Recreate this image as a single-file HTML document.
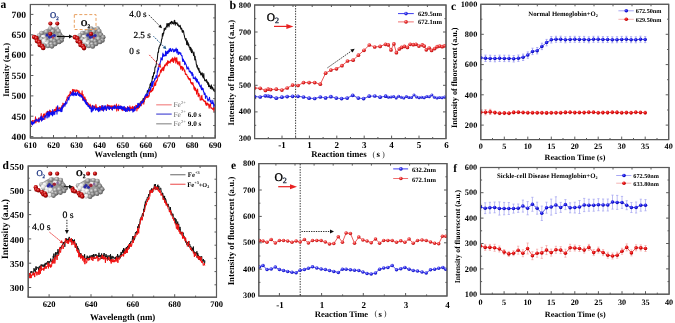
<!DOCTYPE html>
<html><head><meta charset="utf-8"><style>
html,body{margin:0;padding:0;background:#fff;width:675px;height:323px;overflow:hidden}
svg{display:block} text{text-rendering:geometricPrecision}
text{font-family:"Liberation Serif",serif}
</style></head><body>
<svg width="675" height="323" viewBox="0 0 675 323">
<defs><filter id="soft" x="0" y="0" width="675" height="323" filterUnits="userSpaceOnUse"><feGaussianBlur stdDeviation="0.3"/></filter></defs>
<rect width="675" height="323" fill="#fff"/>
<g filter="url(#soft)">
<rect width="675" height="323" fill="#fff"/>
<defs>
<radialGradient id="gr" cx="0.38" cy="0.35" r="0.7"><stop offset="0" stop-color="#f07070"/><stop offset="0.45" stop-color="#c00808"/><stop offset="1" stop-color="#680000"/></radialGradient>
<radialGradient id="gb" cx="0.38" cy="0.35" r="0.7"><stop offset="0" stop-color="#9a9aff"/><stop offset="0.45" stop-color="#1818e0"/><stop offset="1" stop-color="#0000a0"/></radialGradient>
<radialGradient id="gg" cx="0.38" cy="0.35" r="0.7"><stop offset="0" stop-color="#e0e0e0"/><stop offset="0.5" stop-color="#9c9c9c"/><stop offset="1" stop-color="#585858"/></radialGradient>
<radialGradient id="gw" cx="0.38" cy="0.35" r="0.7"><stop offset="0" stop-color="#ffffff"/><stop offset="0.6" stop-color="#e0e0e0"/><stop offset="1" stop-color="#a0a0a0"/></radialGradient>
<radialGradient id="gd" cx="0.38" cy="0.35" r="0.7"><stop offset="0" stop-color="#c8c8c8"/><stop offset="0.5" stop-color="#8a8a8a"/><stop offset="1" stop-color="#4a4a4a"/></radialGradient>
<radialGradient id="gmr" cx="0.4" cy="0.35" r="0.7"><stop offset="0" stop-color="#ff6060"/><stop offset="0.5" stop-color="#e00808"/><stop offset="1" stop-color="#a80000"/></radialGradient>
<radialGradient id="gmb" cx="0.4" cy="0.35" r="0.7"><stop offset="0" stop-color="#7070ff"/><stop offset="0.5" stop-color="#1414e0"/><stop offset="1" stop-color="#0000a0"/></radialGradient>
<radialGradient id="gdr" cx="0.4" cy="0.35" r="0.7"><stop offset="0" stop-color="#ffa8a8"/><stop offset="0.5" stop-color="#e82a2a"/><stop offset="1" stop-color="#b01010"/></radialGradient>
<radialGradient id="gdb" cx="0.4" cy="0.35" r="0.7"><stop offset="0" stop-color="#a8a8ff"/><stop offset="0.5" stop-color="#2a2ae8"/><stop offset="1" stop-color="#1010b0"/></radialGradient>
<clipPath id="cb"><rect x="254.6" y="5" width="191.4" height="133.6"/></clipPath>
<clipPath id="ce"><rect x="258.8" y="163.6" width="188.2" height="132.4"/></clipPath>
<clipPath id="cc"><rect x="480.8" y="4.3" width="187.90000000000003" height="135.29999999999998"/></clipPath>
<clipPath id="cf"><rect x="480.5" y="167.5" width="188.60000000000002" height="126.69999999999999"/></clipPath>
</defs>
<polyline points="139,107.3 139.3,107.2 139.6,105.1 139.9,103.6 140.2,102.8 140.5,103.9 140.8,102.2 141.1,101.3 141.4,103 141.7,102.5 142,102.7 142.3,100.3 142.6,101.1 142.9,100.6 143.2,98.2 143.5,100.4 143.8,99.6 144.1,101.8 144.4,98.4 144.7,97.4 145,98.6 145.3,96.7 145.6,97 145.9,94.7 146.2,94.9 146.5,95.3 146.8,94.2 147.1,92.8 147.4,90.6 147.7,91.9 148,90.8 148.3,90.9 148.6,89.5 148.9,89.9 149.2,87.7 149.5,87.3 149.8,87.1 150.1,84.1 150.4,84.1 150.7,83.2 151,85.6 151.3,82 151.6,82.1 151.9,81.1 152.2,79 152.5,76.4 152.8,78.7 153.1,75.8 153.4,76.3 153.7,72.6 154,72.6 154.3,73.7 154.6,72.7 154.9,68 155.2,66.8 155.5,67.2 155.8,66.9 156.1,64.8 156.4,63.5 156.7,60.2 157,60.5 157.3,59.4 157.6,55.6 157.9,52.6 158.2,51.9 158.5,52.4 158.8,47.9 159.1,48.8 159.4,46.4 159.7,46.4 160,45.1 160.3,44.4 160.6,45.3 160.9,42.8 161.2,43 161.5,40.1 161.8,38.7 162.1,38.8 162.4,33.6 162.7,36.3 163,35.6 163.3,32.8 163.6,34 163.9,31.7 164.2,28.3 164.5,30.4 164.8,28.6 165.1,28.4 165.4,28.1 165.7,29.3 166,27.3 166.3,26.6 166.6,26.8 166.9,23.6 167.2,27.3 167.5,24 167.8,25.8 168.1,23.6 168.4,23.6 168.7,24.2 169,27 169.3,25.2 169.6,23.3 169.9,23.5 170.2,22.2 170.5,23.5 170.8,22.6 171.1,24.2 171.4,21.3 171.7,22.5 172,21.7 172.3,21.8 172.6,23.6 172.9,22.7 173.2,23.3 173.5,24 173.8,24 174.1,20.7 174.4,23.2 174.7,20.3 175,22.6 175.3,25.2 175.6,22.6 175.9,22.5 176.2,23.4 176.5,23.3 176.8,23.5 177.1,22.7 177.4,25.3 177.7,25.3 178,24.1 178.3,25.1 178.6,25.8 178.9,26.6 179.2,26.1 179.5,26.8 179.8,25.9 180.1,25.2 180.4,26.3 180.7,28.7 181,29.1 181.3,28.5 181.6,28.1 181.9,29.7 182.2,32 182.5,32.3 182.8,30.3 183.1,31.9 183.4,30.8 183.7,32 184,34.5 184.3,35.2 184.6,37.2 184.9,38.4 185.2,38.7 185.5,40.1 185.8,38.4 186.1,38.4 186.4,41.2 186.7,44.6 187,42.2 187.3,40.8 187.6,43.2 187.9,45.3 188.2,42.7 188.5,45.6 188.8,44.3 189.1,47.3 189.4,47.2 189.7,47.1 190,49.8 190.3,47.2 190.6,47.4 190.9,51.2 191.2,48.2 191.5,52.8 191.8,50.4 192.1,49.7 192.4,51.6 192.7,52.4 193,53.1 193.3,53.3 193.6,55.6 193.9,51.9 194.2,55 194.5,56.3 194.8,60 195.1,56.2 195.4,59.5 195.7,59.6 196,61.4 196.3,64.2 196.6,64.9 196.9,67.1 197.2,65.2 197.5,67 197.8,68.8 198.1,69.1 198.4,68.1 198.7,70.5 199,68.4 199.3,72.5 199.6,70.9 199.9,71.1 200.2,72.1 200.5,73.4 200.8,75 201.1,73.1 201.4,73.2 201.7,75 202,73.5 202.3,72.9 202.6,76.7 202.9,75.5 203.2,77.9 203.5,75.6 203.8,73.6 204.1,78.2 204.4,78.5 204.7,80.8 205,79.9 205.3,80.1 205.6,80.9 205.9,80 206.2,81 206.5,79.6 206.8,82.4 207.1,81.1 207.4,82 207.7,83.9 208,84.5 208.3,82.4 208.6,86.7 208.9,83.7 209.2,85.9 209.5,86.4 209.8,85.8 210.1,86.1 210.4,88.6 210.7,87.7 211,87.5 211.3,84.8 211.6,86.5 211.9,89.3 212.2,88.3 212.5,87.1 212.8,87.8 213.1,88.5 213.4,90.1 213.7,90 214,91 214.3,89 214.6,91.6 214.9,90" fill="none" stroke="#111" stroke-width="1.05" stroke-linejoin="round"/>
<polyline points="30.6,126.5 30.9,122 31.3,123.4 31.6,122.9 31.9,123.8 32.2,120.5 32.6,121.8 32.9,121.2 33.2,120.6 33.6,120.8 33.9,121.2 34.2,121.4 34.6,120.4 34.9,122.2 35.2,120.7 35.5,116.8 35.9,123 36.2,120.6 36.5,120 36.9,121.3 37.2,121.1 37.5,120.7 37.9,119.3 38.2,120.6 38.5,118 38.8,122.2 39.2,118.1 39.5,119.5 39.8,119.6 40.2,119.7 40.5,118.9 40.8,119.7 41.2,113.5 41.5,118.3 41.8,118 42.1,117.3 42.5,119.9 42.8,116.1 43.1,117.1 43.5,114 43.8,117.1 44.1,114.1 44.5,113.9 44.8,119.4 45.1,116.8 45.4,115.5 45.8,115.5 46.1,112.9 46.4,113.2 46.8,115.1 47.1,111.2 47.4,114.4 47.8,111.3 48.1,113.8 48.4,111.8 48.7,115.8 49.1,114.5 49.4,112.1 49.7,110 50.1,111.4 50.4,112.4 50.7,110.9 51.1,112.6 51.4,113.6 51.7,111.9 52,111.2 52.4,112.9 52.7,111.2 53,112.8 53.4,110.9 53.7,113.7 54,110.7 54.4,109.5 54.7,111 55,109.8 55.3,109.2 55.7,110.2 56,111.4 56.3,106.9 56.7,109.9 57,109.6 57.3,109.5 57.7,110.7 58,107.4 58.3,110.2 58.6,108.7 59,109 59.3,108.3 59.6,107.9 60,107.4 60.3,108.5 60.6,110.8 61,108.9 61.3,108.3 61.6,107.5 61.9,105.6 62.3,106.8 62.6,108.5 62.9,103.1 63.3,105.7 63.6,105.4 63.9,103.8 64.3,104 64.6,104.4 64.9,105.1 65.2,103.2 65.6,103.2 65.9,100.7 66.2,100.8 66.6,99.2 66.9,98.7 67.2,96.9 67.6,98 67.9,98.5 68.2,95.6 68.5,95.7 68.9,95.8 69.2,94.5 69.5,95.5 69.9,94.1 70.2,91.7 70.5,91.5 70.9,93.8 71.2,93.4 71.5,93.9 71.8,92.4 72.2,92.1 72.5,89.4 72.8,93.6 73.2,90 73.5,92.8 73.8,89.5 74.2,90.1 74.5,91.2 74.8,90.3 75.1,89.9 75.5,92.2 75.8,91.9 76.1,91.5 76.5,90.5 76.8,89.8 77.1,90.4 77.5,90.5 77.8,91.3 78.1,92.6 78.4,91.4 78.8,90.7 79.1,91.2 79.4,94.2 79.8,92.8 80.1,93.2 80.4,93.6 80.8,94.3 81.1,94 81.4,95.9 81.7,95.7 82.1,90.8 82.4,95.2 82.7,100.1 83.1,94.4 83.4,96.9 83.7,98.7 84.1,97.6 84.4,100.1 84.7,96.8 85,97.4 85.4,99.5 85.7,99.3 86,99.4 86.4,102.3 86.7,102.4 87,102.6 87.4,102.5 87.7,103.9 88,103.8 88.3,103.3 88.7,105.4 89,105.5 89.3,105.3 89.7,106.5 90,104.1 90.3,105.7 90.7,105.3 91,108.2 91.3,107.1 91.6,109.6 92,108.9 92.3,106.2 92.6,105.3 93,107.7 93.3,106.7 93.6,106.9 94,105.7 94.3,108.2 94.6,107.7 94.9,108.1 95.3,108 95.6,106.3 95.9,104.4 96.3,107.4 96.6,106.9 96.9,107.1 97.3,109.3 97.6,107.8 97.9,110.1 98.2,108.2 98.6,109 98.9,108.7 99.2,109.2 99.6,106.2 99.9,109.6 100.2,108.2 100.6,106.6 100.9,108.9 101.2,108.5 101.5,109.9 101.9,109.1 102.2,108.5 102.5,105.6 102.9,110.4 103.2,110.2 103.5,109.1 103.9,108.6 104.2,109.7 104.5,106.7 104.8,108.9 105.2,107.9 105.5,106.4 105.8,108.3 106.2,108.3 106.5,110.2 106.8,109 107.2,105.3 107.5,104.8 107.8,107.4 108.1,107.2 108.5,106.1 108.8,105.3 109.1,107.1 109.5,105.7 109.8,106.3 110.1,108.5 110.5,107.6 110.8,106.1 111.1,105.5 111.4,106.8 111.8,109.6 112.1,106.3 112.4,109.6 112.8,105.9 113.1,106.7 113.4,108 113.8,105.9 114.1,107.1 114.4,105 114.7,108 115.1,108.7 115.4,106.1 115.7,107.3 116.1,106.5 116.4,104 116.7,111.1 117.1,108.1 117.4,108.4 117.7,107.9 118,107.6 118.4,110.8 118.7,104.8 119,107.1 119.4,107 119.7,107.4 120,108.7 120.4,106.8 120.7,106 121,106.3 121.3,108.7 121.7,109.5 122,109.3 122.3,110.6 122.7,107.6 123,109.8 123.3,109.4 123.7,108.3 124,107.5 124.3,109.9 124.6,107.7 125,108.3 125.3,107.4 125.6,111.4 126,108.8 126.3,108.2 126.6,108.6 127,108.7 127.3,109.1 127.6,106.6 127.9,107.4 128.3,109.8 128.6,110.7 128.9,107.7 129.3,109.3 129.6,108.3 129.9,105.9 130.3,108.7 130.6,107.6 130.9,110.4 131.2,108.9 131.6,109.1 131.9,107 132.2,109.3 132.6,106.2 132.9,109.3 133.2,111 133.6,107.1 133.9,110.1 134.2,110.8 134.5,108.4 134.9,110.2 135.2,108.5 135.5,107.6 135.9,105.2 136.2,106.3 136.5,105.5 136.9,110.9 137.2,107.5 137.5,106.6 137.8,104.6 138.2,108.7 138.5,104.2 138.8,107.8 139.2,106.9 139.5,105.1 139.8,103.7 140.2,104.3 140.5,102.1 140.8,104.7 141.2,105.8 141.5,104.4 141.8,104.3 142.1,101.4 142.5,102.5 142.8,100.2 143.1,100.7 143.5,102.1 143.8,104.3 144.1,100.4 144.5,99.9 144.8,96.7 145.1,99.4 145.4,97.4 145.8,96.2 146.1,95.7 146.4,97.7 146.8,96.5 147.1,97.6 147.4,95.9 147.8,95.8 148.1,97.5 148.4,96.1 148.7,95.6 149.1,96.2 149.4,93.9 149.7,91.7 150.1,91.6 150.4,90 150.7,92.3 151.1,90.7 151.4,91.6 151.7,91.5 152,88.6 152.4,89.6 152.7,90.6 153,88.4 153.4,89 153.7,86.8 154,85.1 154.4,85.6 154.7,82.5 155,85.6 155.3,83.2 155.7,85.2 156,80.8 156.3,82.1 156.7,81.7 157,80.2 157.3,80.4 157.7,78 158,76.9 158.3,75.7 158.6,76.3 159,75.3 159.3,76.1 159.6,74.5 160,73.4 160.3,72.5 160.6,70.1 161,71.6 161.3,72.1 161.6,68.8 161.9,69.7 162.3,70.4 162.6,67.8 162.9,68.5 163.3,67 163.6,70.8 163.9,68.8 164.3,68.1 164.6,64.9 164.9,66.5 165.2,65 165.6,65.4 165.9,63.7 166.2,64.4 166.6,62.7 166.9,64 167.2,65.8 167.6,60.9 167.9,60.7 168.2,63.1 168.5,63.3 168.9,61.3 169.2,62.5 169.5,62 169.9,62 170.2,63 170.5,59.9 170.9,61.6 171.2,60.8 171.5,59.4 171.8,61 172.2,58.3 172.5,57.9 172.8,61.6 173.2,58.4 173.5,62.5 173.8,61.5 174.2,59.3 174.5,58.9 174.8,57 175.1,60.3 175.5,58.2 175.8,63.1 176.1,58.6 176.5,61.4 176.8,57.5 177.1,61.3 177.5,64.1 177.8,61.8 178.1,61.6 178.4,62.5 178.8,64.1 179.1,65.2 179.4,63.9 179.8,61.6 180.1,65.5 180.4,66.9 180.8,69.2 181.1,66.5 181.4,66.9 181.7,66.2 182.1,68.6 182.4,70.5 182.7,66.9 183.1,68.9 183.4,67.8 183.7,68.8 184.1,70 184.4,71.5 184.7,70.1 185,71.4 185.4,74.4 185.7,73.7 186,74.5 186.4,74.6 186.7,74.3 187,75.7 187.4,76.4 187.7,76.2 188,78.2 188.3,77.3 188.7,79.1 189,78.4 189.3,80 189.7,78.5 190,79.2 190.3,78.9 190.7,83 191,82.6 191.3,82.7 191.6,83.9 192,82.4 192.3,84.4 192.6,84.1 193,82.7 193.3,85.6 193.6,85.3 194,89.3 194.3,86.7 194.6,87.4 194.9,90.4 195.3,89.5 195.6,88 195.9,90.9 196.3,90 196.6,94.2 196.9,90.6 197.3,91.5 197.6,89 197.9,92.6 198.2,96.8 198.6,94.3 198.9,93.5 199.2,95.7 199.6,95.2 199.9,96 200.2,100.1 200.6,99.8 200.9,99.5 201.2,100 201.5,96.5 201.9,95.3 202.2,99.7 202.5,99.5 202.9,99.3 203.2,99.4 203.5,101 203.9,101.1 204.2,100.9 204.5,101.6 204.8,100.9 205.2,101 205.5,103.9 205.8,101.8 206.2,105.4 206.5,103.7 206.8,103.2 207.2,105.1 207.5,103 207.8,103.7 208.1,103.8 208.5,104.6 208.8,106 209.1,108.3 209.5,106.3 209.8,104.3 210.1,104.9 210.5,103.7 210.8,107.8 211.1,108.3 211.4,107.8 211.8,108.1 212.1,108.7 212.4,108.8 212.8,109.4 213.1,109.1 213.4,107.6 213.8,110.8 214.1,111.7 214.4,107.5 214.7,109.9" fill="none" stroke="#f01010" stroke-width="1.05" stroke-linejoin="round"/>
<polyline points="30.6,122.9 30.9,124.5 31.3,121.2 31.6,123.9 31.9,122 32.2,122 32.6,125 32.9,122.4 33.2,122.1 33.6,123.1 33.9,123.7 34.2,121.9 34.6,122.7 34.9,120.4 35.2,121.2 35.5,121 35.9,119.7 36.2,119.3 36.5,119.1 36.9,121 37.2,121 37.5,120.7 37.9,121.2 38.2,119 38.5,120.8 38.8,121.1 39.2,121.7 39.5,119.3 39.8,119.8 40.2,117.3 40.5,119.3 40.8,116.7 41.2,117.7 41.5,121.1 41.8,116.1 42.1,120.3 42.5,119.4 42.8,118.3 43.1,119.1 43.5,119 43.8,119.5 44.1,117.5 44.5,116.7 44.8,116.4 45.1,115.7 45.4,116.8 45.8,115.5 46.1,117.9 46.4,113.4 46.8,114.3 47.1,114.3 47.4,112.5 47.8,118 48.1,111.6 48.4,114.5 48.7,114 49.1,116.9 49.4,111.5 49.7,115.8 50.1,113 50.4,113.7 50.7,112.8 51.1,114.6 51.4,111.9 51.7,113.3 52,113.8 52.4,115.9 52.7,109.6 53,115.1 53.4,114.2 53.7,112 54,113 54.4,111.7 54.7,114.6 55,112.4 55.3,111.6 55.7,111.5 56,111.4 56.3,111.3 56.7,110.1 57,114.2 57.3,108.3 57.7,105.7 58,110.6 58.3,110.4 58.6,111 59,110 59.3,109.9 59.6,110.4 60,111.1 60.3,108.9 60.6,108.7 61,111.8 61.3,109.5 61.6,107.1 61.9,111.6 62.3,109 62.6,106.7 62.9,105.5 63.3,107.3 63.6,105.2 63.9,104.5 64.3,103.8 64.6,104.5 64.9,106.4 65.2,103.7 65.6,101.8 65.9,104.3 66.2,102.9 66.6,103.3 66.9,103.2 67.2,100.5 67.6,99.9 67.9,99.4 68.2,97.3 68.5,99.4 68.9,100 69.2,97.8 69.5,96.8 69.9,96.4 70.2,95.3 70.5,95 70.9,95.2 71.2,94.3 71.5,94.7 71.8,92.8 72.2,95.4 72.5,94.8 72.8,92.9 73.2,91.1 73.5,94.3 73.8,95.8 74.2,93.1 74.5,93.4 74.8,93.2 75.1,94.9 75.5,92.6 75.8,95.4 76.1,93.5 76.5,95.4 76.8,94.1 77.1,93.8 77.5,92 77.8,93.2 78.1,93.9 78.4,95.4 78.8,94.9 79.1,93.6 79.4,95.4 79.8,96.4 80.1,94.9 80.4,94.7 80.8,95 81.1,97.1 81.4,97 81.7,95.2 82.1,97.5 82.4,96.8 82.7,96.8 83.1,100.2 83.4,100.2 83.7,98.5 84.1,100.2 84.4,101.3 84.7,100.2 85,101.5 85.4,103.1 85.7,100.1 86,103.6 86.4,104.6 86.7,104.7 87,102.4 87.4,105.2 87.7,103.9 88,106.4 88.3,106.8 88.7,106.6 89,105.5 89.3,106.1 89.7,108.5 90,106.2 90.3,108.5 90.7,108.8 91,107.8 91.3,111.9 91.6,108.7 92,111.8 92.3,105.9 92.6,105.6 93,110.4 93.3,109.9 93.6,108.6 94,109 94.3,106.3 94.6,108.1 94.9,107.6 95.3,108.7 95.6,110.3 95.9,109.1 96.3,109.6 96.6,108 96.9,108.4 97.3,109.2 97.6,108.6 97.9,110.8 98.2,107.7 98.6,111.7 98.9,107.4 99.2,110.4 99.6,107.7 99.9,111.1 100.2,108.9 100.6,109.2 100.9,109.7 101.2,107.6 101.5,107 101.9,105.5 102.2,110.2 102.5,107.3 102.9,107.5 103.2,108.2 103.5,111.1 103.9,105.7 104.2,108.6 104.5,107.6 104.8,108.9 105.2,105.5 105.5,107.5 105.8,109.3 106.2,110.3 106.5,110.4 106.8,106.8 107.2,108.1 107.5,107.8 107.8,106 108.1,105.9 108.5,109 108.8,108.3 109.1,107.7 109.5,109.6 109.8,106.4 110.1,108.5 110.5,107.8 110.8,107.6 111.1,108.3 111.4,107.8 111.8,107.9 112.1,107.8 112.4,110.1 112.8,106.8 113.1,108.6 113.4,108 113.8,106.6 114.1,108.2 114.4,105.8 114.7,108.7 115.1,105.8 115.4,106.3 115.7,107.5 116.1,108.3 116.4,108.5 116.7,108.5 117.1,107 117.4,106 117.7,108.2 118,107.9 118.4,106.2 118.7,109.1 119,108 119.4,106.5 119.7,108.6 120,106.1 120.4,106.8 120.7,108.8 121,106 121.3,108.4 121.7,106.5 122,109.6 122.3,107.5 122.7,108.9 123,106.6 123.3,108.3 123.7,110.3 124,109.7 124.3,106.4 124.6,110.5 125,110.5 125.3,108.8 125.6,111.4 126,107.9 126.3,109.3 126.6,111.1 127,111.4 127.3,111.4 127.6,107.9 127.9,106.9 128.3,110.1 128.6,107.5 128.9,109.4 129.3,107.7 129.6,111.1 129.9,110.7 130.3,110.4 130.6,109.6 130.9,109.6 131.2,109.1 131.6,110.1 131.9,109.9 132.2,110.1 132.6,108.8 132.9,112.1 133.2,109.7 133.6,111.3 133.9,111.1 134.2,107.8 134.5,106.5 134.9,110.7 135.2,108.2 135.5,108.7 135.9,108 136.2,108.3 136.5,106.2 136.9,107.5 137.2,106.7 137.5,107 137.8,103.4 138.2,107.6 138.5,106.6 138.8,103.2 139.2,104.3 139.5,105.1 139.8,105.6 140.2,104.3 140.5,106 140.8,103.6 141.2,101.8 141.5,101.8 141.8,103.5 142.1,101.1 142.5,102.8 142.8,102.6 143.1,101.6 143.5,101.7 143.8,99.5 144.1,99.3 144.5,98 144.8,97.5 145.1,95.6 145.4,96.5 145.8,95.2 146.1,94.1 146.4,95.8 146.8,95.7 147.1,93.9 147.4,95.8 147.8,94.5 148.1,94.1 148.4,91 148.7,89.1 149.1,91.5 149.4,90.5 149.7,90.4 150.1,89.4 150.4,90 150.7,87.1 151.1,87.9 151.4,85 151.7,82.4 152,84.5 152.4,86.7 152.7,81.4 153,84.7 153.4,81.6 153.7,81.3 154,81.3 154.4,80.8 154.7,78.4 155,79.3 155.3,79 155.7,78.7 156,75.6 156.3,78 156.7,77.6 157,77.3 157.3,70.8 157.7,72 158,67.9 158.3,70 158.6,69.2 159,65.6 159.3,63.9 159.6,65.4 160,65 160.3,62 160.6,61.8 161,57.6 161.3,59.3 161.6,59.6 161.9,58.7 162.3,60 162.6,55.3 162.9,53.1 163.3,56.5 163.6,54.5 163.9,55.5 164.3,55.7 164.6,55.2 164.9,56.1 165.2,55.7 165.6,51 165.9,53 166.2,55.7 166.6,51.9 166.9,53.6 167.2,51.9 167.6,51.1 167.9,53.7 168.2,52.7 168.5,50.6 168.9,52.1 169.2,48.7 169.5,49.4 169.9,51.6 170.2,50.2 170.5,48.4 170.9,50.5 171.2,50.2 171.5,51.5 171.8,51 172.2,49.1 172.5,48.8 172.8,49.3 173.2,49.2 173.5,51.6 173.8,51.9 174.2,51.6 174.5,50.3 174.8,49.5 175.1,51.3 175.5,49.6 175.8,50.6 176.1,48.1 176.5,50.1 176.8,53 177.1,49.7 177.5,49.3 177.8,51.5 178.1,54.4 178.4,54.4 178.8,52.1 179.1,52.3 179.4,53.2 179.8,52.4 180.1,54.2 180.4,54.1 180.8,52.9 181.1,54.7 181.4,55.7 181.7,55.5 182.1,55.7 182.4,59.3 182.7,61.4 183.1,58.9 183.4,59.4 183.7,61.4 184.1,61.1 184.4,61 184.7,64.8 185,62 185.4,63.1 185.7,63.8 186,64.1 186.4,65.6 186.7,67.3 187,69.1 187.4,68.5 187.7,68.1 188,66.8 188.3,69 188.7,68.2 189,70 189.3,72 189.7,71.4 190,71.3 190.3,71 190.7,72.5 191,73.2 191.3,72.2 191.6,73.2 192,75.7 192.3,72.5 192.6,74.7 193,74.2 193.3,78.6 193.6,77.7 194,78 194.3,78.3 194.6,78.6 194.9,79 195.3,76.7 195.6,79.8 195.9,80.7 196.3,78.2 196.6,81.9 196.9,82.1 197.3,79.3 197.6,81.3 197.9,82 198.2,82.1 198.6,83.9 198.9,82 199.2,84 199.6,85.2 199.9,86.5 200.2,86.1 200.6,86.2 200.9,88.2 201.2,84.9 201.5,89.8 201.9,88.7 202.2,87.9 202.5,89.8 202.9,88.4 203.2,88.7 203.5,91.9 203.9,91.8 204.2,94.6 204.5,92.9 204.8,92.9 205.2,93.9 205.5,98.4 205.8,96.4 206.2,96 206.5,95.9 206.8,96.2 207.2,97.9 207.5,99.2 207.8,100.6 208.1,101 208.5,100 208.8,99 209.1,99.1 209.5,97.3 209.8,99.5 210.1,101.8 210.5,101 210.8,102.4 211.1,100.2 211.4,103.7 211.8,103.1 212.1,103 212.4,103.8 212.8,100.3 213.1,103 213.4,102.8 213.8,107 214.1,104.4 214.4,104.2 214.7,106.5" fill="none" stroke="#1010f0" stroke-width="1.05" stroke-linejoin="round"/>
<rect x="30.4" y="4.5" width="184.8" height="133.5" fill="none" stroke="#5a5a5a" stroke-width="1.1"/>
<line x1="30.4" y1="138" x2="30.4" y2="135" stroke="#5a5a5a" stroke-width="1" />
<line x1="41.9" y1="138" x2="41.9" y2="136.4" stroke="#5a5a5a" stroke-width="1" />
<line x1="53.5" y1="138" x2="53.5" y2="135" stroke="#5a5a5a" stroke-width="1" />
<line x1="65" y1="138" x2="65" y2="136.4" stroke="#5a5a5a" stroke-width="1" />
<line x1="76.6" y1="138" x2="76.6" y2="135" stroke="#5a5a5a" stroke-width="1" />
<line x1="88.2" y1="138" x2="88.2" y2="136.4" stroke="#5a5a5a" stroke-width="1" />
<line x1="99.7" y1="138" x2="99.7" y2="135" stroke="#5a5a5a" stroke-width="1" />
<line x1="111.2" y1="138" x2="111.2" y2="136.4" stroke="#5a5a5a" stroke-width="1" />
<line x1="122.8" y1="138" x2="122.8" y2="135" stroke="#5a5a5a" stroke-width="1" />
<line x1="134.3" y1="138" x2="134.3" y2="136.4" stroke="#5a5a5a" stroke-width="1" />
<line x1="145.9" y1="138" x2="145.9" y2="135" stroke="#5a5a5a" stroke-width="1" />
<line x1="157.4" y1="138" x2="157.4" y2="136.4" stroke="#5a5a5a" stroke-width="1" />
<line x1="169" y1="138" x2="169" y2="135" stroke="#5a5a5a" stroke-width="1" />
<line x1="180.5" y1="138" x2="180.5" y2="136.4" stroke="#5a5a5a" stroke-width="1" />
<line x1="192.1" y1="138" x2="192.1" y2="135" stroke="#5a5a5a" stroke-width="1" />
<line x1="203.6" y1="138" x2="203.6" y2="136.4" stroke="#5a5a5a" stroke-width="1" />
<line x1="215.2" y1="138" x2="215.2" y2="135" stroke="#5a5a5a" stroke-width="1" />
<line x1="48.9" y1="4.5" x2="48.9" y2="6.5" stroke="#5a5a5a" stroke-width="1" />
<line x1="67.4" y1="4.5" x2="67.4" y2="6.5" stroke="#5a5a5a" stroke-width="1" />
<line x1="85.9" y1="4.5" x2="85.9" y2="6.5" stroke="#5a5a5a" stroke-width="1" />
<line x1="104.4" y1="4.5" x2="104.4" y2="6.5" stroke="#5a5a5a" stroke-width="1" />
<line x1="122.9" y1="4.5" x2="122.9" y2="6.5" stroke="#5a5a5a" stroke-width="1" />
<line x1="141.4" y1="4.5" x2="141.4" y2="6.5" stroke="#5a5a5a" stroke-width="1" />
<line x1="159.9" y1="4.5" x2="159.9" y2="6.5" stroke="#5a5a5a" stroke-width="1" />
<line x1="178.4" y1="4.5" x2="178.4" y2="6.5" stroke="#5a5a5a" stroke-width="1" />
<line x1="196.9" y1="4.5" x2="196.9" y2="6.5" stroke="#5a5a5a" stroke-width="1" />
<line x1="215.2" y1="17.9" x2="213.2" y2="17.9" stroke="#5a5a5a" stroke-width="1" />
<line x1="215.2" y1="31.4" x2="213.2" y2="31.4" stroke="#5a5a5a" stroke-width="1" />
<line x1="215.2" y1="44.8" x2="213.2" y2="44.8" stroke="#5a5a5a" stroke-width="1" />
<line x1="215.2" y1="58.3" x2="213.2" y2="58.3" stroke="#5a5a5a" stroke-width="1" />
<line x1="215.2" y1="71.8" x2="213.2" y2="71.8" stroke="#5a5a5a" stroke-width="1" />
<line x1="215.2" y1="85.2" x2="213.2" y2="85.2" stroke="#5a5a5a" stroke-width="1" />
<line x1="215.2" y1="98.6" x2="213.2" y2="98.6" stroke="#5a5a5a" stroke-width="1" />
<line x1="215.2" y1="112.1" x2="213.2" y2="112.1" stroke="#5a5a5a" stroke-width="1" />
<line x1="215.2" y1="125.5" x2="213.2" y2="125.5" stroke="#5a5a5a" stroke-width="1" />
<line x1="30.4" y1="136.6" x2="33.4" y2="136.6" stroke="#5a5a5a" stroke-width="1" />
<line x1="30.4" y1="126.4" x2="32" y2="126.4" stroke="#5a5a5a" stroke-width="1" />
<line x1="30.4" y1="116.2" x2="33.4" y2="116.2" stroke="#5a5a5a" stroke-width="1" />
<line x1="30.4" y1="106" x2="32" y2="106" stroke="#5a5a5a" stroke-width="1" />
<line x1="30.4" y1="95.9" x2="33.4" y2="95.9" stroke="#5a5a5a" stroke-width="1" />
<line x1="30.4" y1="85.7" x2="32" y2="85.7" stroke="#5a5a5a" stroke-width="1" />
<line x1="30.4" y1="75.5" x2="33.4" y2="75.5" stroke="#5a5a5a" stroke-width="1" />
<line x1="30.4" y1="65.3" x2="32" y2="65.3" stroke="#5a5a5a" stroke-width="1" />
<line x1="30.4" y1="55.1" x2="33.4" y2="55.1" stroke="#5a5a5a" stroke-width="1" />
<line x1="30.4" y1="45" x2="32" y2="45" stroke="#5a5a5a" stroke-width="1" />
<line x1="30.4" y1="34.8" x2="33.4" y2="34.8" stroke="#5a5a5a" stroke-width="1" />
<line x1="30.4" y1="24.6" x2="32" y2="24.6" stroke="#5a5a5a" stroke-width="1" />
<line x1="30.4" y1="14.4" x2="33.4" y2="14.4" stroke="#5a5a5a" stroke-width="1" />
<text x="30.4" y="147.5" font-family="'Liberation Sans', sans-serif" font-size="8.5" font-weight="bold" text-anchor="middle" fill="#000" >610</text>
<text x="53.5" y="147.5" font-family="'Liberation Sans', sans-serif" font-size="8.5" font-weight="bold" text-anchor="middle" fill="#000" >620</text>
<text x="76.6" y="147.5" font-family="'Liberation Sans', sans-serif" font-size="8.5" font-weight="bold" text-anchor="middle" fill="#000" >630</text>
<text x="99.7" y="147.5" font-family="'Liberation Sans', sans-serif" font-size="8.5" font-weight="bold" text-anchor="middle" fill="#000" >640</text>
<text x="122.8" y="147.5" font-family="'Liberation Sans', sans-serif" font-size="8.5" font-weight="bold" text-anchor="middle" fill="#000" >650</text>
<text x="145.9" y="147.5" font-family="'Liberation Sans', sans-serif" font-size="8.5" font-weight="bold" text-anchor="middle" fill="#000" >660</text>
<text x="169" y="147.5" font-family="'Liberation Sans', sans-serif" font-size="8.5" font-weight="bold" text-anchor="middle" fill="#000" >670</text>
<text x="192.1" y="147.5" font-family="'Liberation Sans', sans-serif" font-size="8.5" font-weight="bold" text-anchor="middle" fill="#000" >680</text>
<text x="215.2" y="147.5" font-family="'Liberation Sans', sans-serif" font-size="8.5" font-weight="bold" text-anchor="middle" fill="#000" >690</text>
<text x="26" y="139.9" font-family="'Liberation Serif', serif" font-size="9.6" font-weight="bold" text-anchor="end" fill="#000" >400</text>
<text x="26" y="119.5" font-family="'Liberation Serif', serif" font-size="9.6" font-weight="bold" text-anchor="end" fill="#000" >450</text>
<text x="26" y="99.2" font-family="'Liberation Serif', serif" font-size="9.6" font-weight="bold" text-anchor="end" fill="#000" >500</text>
<text x="26" y="78.8" font-family="'Liberation Serif', serif" font-size="9.6" font-weight="bold" text-anchor="end" fill="#000" >550</text>
<text x="26" y="58.4" font-family="'Liberation Serif', serif" font-size="9.6" font-weight="bold" text-anchor="end" fill="#000" >600</text>
<text x="26" y="38.1" font-family="'Liberation Serif', serif" font-size="9.6" font-weight="bold" text-anchor="end" fill="#000" >650</text>
<text x="26" y="17.7" font-family="'Liberation Serif', serif" font-size="9.6" font-weight="bold" text-anchor="end" fill="#000" >700</text>
<text transform="translate(5.8,69.8) rotate(-90)" x="0" y="0" font-family="'Liberation Serif', serif" font-size="8.6" font-weight="bold" text-anchor="middle" dominant-baseline="central" >Intensity (a.u.)</text>
<text x="125.9" y="157.2" font-family="'Liberation Serif', serif" font-size="8.5" font-weight="bold" text-anchor="middle" fill="#000" >Wavelength (nm)</text>
<text x="0.6" y="8.2" font-family="'Liberation Serif', serif" font-size="11.5" font-weight="bold" text-anchor="start" fill="#000" >a</text>
<line x1="156.2" y1="104.8" x2="171.7" y2="104.8" stroke="#f49090" stroke-width="1.3" />
<line x1="156.2" y1="114.1" x2="171.7" y2="114.1" stroke="#5a5ad8" stroke-width="1.3" />
<line x1="156.2" y1="123.8" x2="171.7" y2="123.8" stroke="#9a9a9a" stroke-width="1.3" />
<text x="173.5" y="107.3" font-family="'Liberation Serif', serif" font-size="7.4" fill="#6a6a6a">Fe<tspan font-size="4.6" dy="-3.2">2+</tspan></text>
<text x="173.5" y="116.6" font-family="'Liberation Serif', serif" font-size="7.4" fill="#6a6a6a">Fe<tspan font-size="4.6" dy="-3.2">2+</tspan></text>
<text x="187.8" y="116.6" font-family="'Liberation Serif', serif" font-size="7.2" font-weight="bold" text-anchor="start" fill="#000" >6.0 s</text>
<text x="173.5" y="126.3" font-family="'Liberation Serif', serif" font-size="7.4" fill="#6a6a6a">Fe<tspan font-size="4.6" dy="-3.2">2+</tspan></text>
<text x="187.8" y="126.3" font-family="'Liberation Serif', serif" font-size="7.2" font-weight="bold" text-anchor="start" fill="#000" >9.0 s</text>
<text x="129.3" y="16.7" font-family="'Liberation Serif', serif" font-size="9.2" font-weight="normal" text-anchor="start" fill="#000" stroke="#000" stroke-width="0.22">4.0 s</text>
<text x="133.4" y="37.6" font-family="'Liberation Serif', serif" font-size="9.2" font-weight="normal" text-anchor="start" fill="#000" stroke="#000" stroke-width="0.22">2.5 s</text>
<text x="129.3" y="54" font-family="'Liberation Serif', serif" font-size="9.2" font-weight="normal" text-anchor="start" fill="#000" stroke="#000" stroke-width="0.22">0 s</text>
<line x1="148.8" y1="14.9" x2="160" y2="26.2" stroke="#111" stroke-width="0.9" stroke-dasharray="1.5,1.2"/>
<polygon points="162,28.2 158.3,26.9 160.8,24.5" fill="#111"/>
<line x1="153.4" y1="36.2" x2="164.4" y2="47.2" stroke="#2a6090" stroke-width="1.0" stroke-dasharray="1.6,0.9"/>
<polygon points="166.4,49.2 162.7,48 165.2,45.5" fill="#2a6090"/>
<line x1="149.3" y1="54.9" x2="159.5" y2="65.9" stroke="#e82828" stroke-width="1.0" stroke-dasharray="1.6,0.9"/>
<polygon points="161.4,67.9 157.7,66.5 160.3,64.1" fill="#e82828"/>
<text x="50.1" y="18.3" font-family="'Liberation Serif', serif" font-size="8.6" fill="#1e3580" stroke="#1e3580" stroke-width="0.3">O<tspan font-size="5" dy="1.8">2</tspan></text>
<circle cx="50.4" cy="23.6" r="2.1" fill="url(#gr)"/>
<circle cx="57.3" cy="23.6" r="2.1" fill="url(#gr)"/>
<polygon points="39,33 50,27.5 58,27.5 64,37.5 62,42 52,47.5 45,47 38,38" fill="#9a9a9a"/>
<circle cx="50.3" cy="28.6" r="2.35" fill="url(#gg)"/>
<circle cx="56.7" cy="28.6" r="2.35" fill="url(#gg)"/>
<circle cx="46.3" cy="31.8" r="2.35" fill="url(#gg)"/>
<circle cx="52.7" cy="31.4" r="2.35" fill="url(#gg)"/>
<circle cx="58.4" cy="31" r="2.35" fill="url(#gg)"/>
<circle cx="41.5" cy="33" r="2.35" fill="url(#gg)"/>
<circle cx="60" cy="34.7" r="2.35" fill="url(#gd)"/>
<circle cx="39" cy="35.5" r="2.35" fill="url(#gg)"/>
<circle cx="43.1" cy="37.1" r="2.35" fill="url(#gw)"/>
<circle cx="62.4" cy="37.1" r="2.35" fill="url(#gd)"/>
<circle cx="41.5" cy="39.1" r="2.35" fill="url(#gg)"/>
<circle cx="45.5" cy="39.1" r="2.35" fill="url(#gg)"/>
<circle cx="57.5" cy="38.7" r="2.35" fill="url(#gg)"/>
<circle cx="61.6" cy="40.3" r="2.35" fill="url(#gd)"/>
<circle cx="43.9" cy="41.1" r="2.35" fill="url(#gw)"/>
<circle cx="47.9" cy="41.9" r="2.35" fill="url(#gg)"/>
<circle cx="51.5" cy="40" r="2.35" fill="url(#gg)"/>
<circle cx="54.3" cy="41.1" r="2.35" fill="url(#gd)"/>
<circle cx="59.2" cy="41.9" r="2.35" fill="url(#gd)"/>
<circle cx="46.3" cy="43.9" r="2.35" fill="url(#gw)"/>
<circle cx="51.1" cy="44.3" r="2.35" fill="url(#gg)"/>
<circle cx="55.1" cy="43.9" r="2.35" fill="url(#gd)"/>
<circle cx="47.9" cy="45.9" r="2.35" fill="url(#gg)"/>
<circle cx="51.9" cy="46.3" r="2.35" fill="url(#gd)"/>
<circle cx="44.2" cy="45.5" r="2.35" fill="url(#gg)"/>
<circle cx="47.1" cy="35.1" r="1.6" fill="#2a2aa8"/>
<circle cx="54.3" cy="35.5" r="1.6" fill="#2a2aa8"/>
<circle cx="49.5" cy="37.1" r="1.6" fill="#2a2aa8"/>
<circle cx="52" cy="36.5" r="1.6" fill="#2a2aa8"/>
<circle cx="50.3" cy="33.8" r="2.1" fill="url(#gr)"/>
<circle cx="53" cy="37.6" r="1.1" fill="#c04050"/>
<circle cx="34.2" cy="37.1" r="2.35" fill="url(#gr)"/>
<circle cx="36.4" cy="38.2" r="2.35" fill="url(#gr)"/>
<circle cx="37" cy="41.1" r="2.35" fill="url(#gr)"/>
<circle cx="39.2" cy="42.2" r="2.35" fill="url(#gr)"/>
<circle cx="39.8" cy="44.9" r="2.35" fill="url(#gr)"/>
<circle cx="42.1" cy="46" r="2.35" fill="url(#gr)"/>
<circle cx="43.2" cy="48" r="2.35" fill="url(#gr)"/>
<polygon points="79.8,33.1 90.8,27.6 98.8,27.6 104.8,37.6 102.8,42.1 92.8,47.6 85.8,47.1 78.8,38.1" fill="#9a9a9a"/>
<circle cx="91.1" cy="28.7" r="2.35" fill="url(#gg)"/>
<circle cx="97.5" cy="28.7" r="2.35" fill="url(#gg)"/>
<circle cx="87.1" cy="31.9" r="2.35" fill="url(#gg)"/>
<circle cx="93.5" cy="31.5" r="2.35" fill="url(#gg)"/>
<circle cx="99.2" cy="31.1" r="2.35" fill="url(#gg)"/>
<circle cx="82.3" cy="33.1" r="2.35" fill="url(#gg)"/>
<circle cx="100.8" cy="34.8" r="2.35" fill="url(#gd)"/>
<circle cx="79.8" cy="35.6" r="2.35" fill="url(#gg)"/>
<circle cx="83.9" cy="37.2" r="2.35" fill="url(#gw)"/>
<circle cx="103.2" cy="37.2" r="2.35" fill="url(#gd)"/>
<circle cx="82.3" cy="39.2" r="2.35" fill="url(#gg)"/>
<circle cx="86.3" cy="39.2" r="2.35" fill="url(#gg)"/>
<circle cx="98.3" cy="38.8" r="2.35" fill="url(#gg)"/>
<circle cx="102.4" cy="40.4" r="2.35" fill="url(#gd)"/>
<circle cx="84.7" cy="41.2" r="2.35" fill="url(#gw)"/>
<circle cx="88.7" cy="42" r="2.35" fill="url(#gg)"/>
<circle cx="92.3" cy="40.1" r="2.35" fill="url(#gg)"/>
<circle cx="95.1" cy="41.2" r="2.35" fill="url(#gd)"/>
<circle cx="100" cy="42" r="2.35" fill="url(#gd)"/>
<circle cx="87.1" cy="44" r="2.35" fill="url(#gw)"/>
<circle cx="91.9" cy="44.4" r="2.35" fill="url(#gg)"/>
<circle cx="95.9" cy="44" r="2.35" fill="url(#gd)"/>
<circle cx="88.7" cy="46" r="2.35" fill="url(#gg)"/>
<circle cx="92.7" cy="46.4" r="2.35" fill="url(#gd)"/>
<circle cx="85" cy="45.6" r="2.35" fill="url(#gg)"/>
<circle cx="87.9" cy="35.2" r="1.6" fill="#2a2aa8"/>
<circle cx="95.1" cy="35.6" r="1.6" fill="#2a2aa8"/>
<circle cx="90.3" cy="37.2" r="1.6" fill="#2a2aa8"/>
<circle cx="92.8" cy="36.6" r="1.6" fill="#2a2aa8"/>
<circle cx="91.1" cy="33.9" r="2.1" fill="url(#gr)"/>
<circle cx="93.8" cy="37.7" r="1.1" fill="#c04050"/>
<circle cx="75" cy="37.2" r="2.35" fill="url(#gr)"/>
<circle cx="77.2" cy="38.3" r="2.35" fill="url(#gr)"/>
<circle cx="77.8" cy="41.2" r="2.35" fill="url(#gr)"/>
<circle cx="80" cy="42.3" r="2.35" fill="url(#gr)"/>
<circle cx="80.6" cy="45" r="2.35" fill="url(#gr)"/>
<circle cx="82.9" cy="46.1" r="2.35" fill="url(#gr)"/>
<circle cx="84" cy="48.1" r="2.35" fill="url(#gr)"/>
<line x1="57" y1="36.5" x2="69.5" y2="36.5" stroke="#111" stroke-width="1.1" />
<polygon points="73,36.5 69,38.5 69,34.5" fill="#111"/>
<rect x="74.3" y="14.6" width="21.7" height="14.9" fill="none" stroke="#e8a060" stroke-width="1" stroke-dasharray="3,2"/>
<text x="80.8" y="26.4" font-family="'Liberation Serif', serif" font-size="8.6" font-weight="bold" stroke="#000" stroke-width="0.25">O<tspan font-size="5.4" dy="1.6">2</tspan></text>
<polyline points="28.6,274.4 28.9,274.9 29.2,273.2 29.6,274.3 29.9,275 30.2,274 30.5,275.6 30.8,271.5 31.2,272.8 31.5,271.3 31.8,271 32.1,271.8 32.4,272.2 32.8,272.3 33.1,272.2 33.4,274.8 33.7,272.4 34,268.2 34.4,270.9 34.7,269.4 35,269.3 35.3,272 35.6,269.4 36,266.4 36.3,269.8 36.6,268.7 36.9,267 37.2,267.2 37.6,267.5 37.9,268.3 38.2,267.4 38.5,268 38.8,270.7 39.2,266.3 39.5,266.1 39.8,266.8 40.1,268.8 40.4,265.7 40.8,268.9 41.1,264.4 41.4,264.7 41.7,266.1 42,264.6 42.4,264.8 42.7,266.4 43,266.6 43.3,265.5 43.6,264.7 44,267.1 44.3,265.5 44.6,264.3 44.9,266.4 45.2,262.9 45.6,264.4 45.9,265 46.2,263.8 46.5,262.7 46.8,264 47.2,262.4 47.5,262.1 47.8,261.2 48.1,264.7 48.4,261.5 48.8,264.1 49.1,262.6 49.4,261.3 49.7,262.6 50,261.7 50.4,261.3 50.7,258.6 51,260.6 51.3,261.7 51.6,260.8 52,261.3 52.3,261.7 52.6,259.7 52.9,261.9 53.2,255.9 53.6,257.6 53.9,253.6 54.2,258.6 54.5,257 54.8,259.2 55.2,255.5 55.5,252.4 55.8,257.3 56.1,252.7 56.4,252.4 56.8,253.7 57.1,254.6 57.4,252.3 57.7,253 58,249.2 58.4,254.5 58.7,251.2 59,250.9 59.3,251.1 59.6,249.9 60,249.4 60.3,246.9 60.6,247.6 60.9,247.9 61.2,248.3 61.6,245.8 61.9,245.6 62.2,245.4 62.5,245.2 62.8,244.1 63.2,243 63.5,242.1 63.8,244.3 64.1,242.5 64.4,241.7 64.8,246.8 65.1,242.2 65.4,241.8 65.7,240.3 66,238.1 66.4,241.2 66.7,239 67,239 67.3,240.4 67.6,240.2 68,238.9 68.3,238.5 68.6,241.8 68.9,239.4 69.2,236.9 69.6,239.8 69.9,238.9 70.2,238.8 70.5,240 70.8,239.4 71.2,242.4 71.5,239.7 71.8,240 72.1,241.7 72.4,239.2 72.8,242 73.1,240.6 73.4,242.9 73.7,240 74,242.4 74.4,239.5 74.7,241.8 75,243.1 75.3,244.4 75.6,247.4 76,247.9 76.3,243.5 76.6,245.2 76.9,249.1 77.2,248.6 77.6,246.4 77.9,250.1 78.2,248.2 78.5,249.3 78.8,249.2 79.2,251.4 79.5,255.9 79.8,253.3 80.1,253 80.4,257.6 80.8,253.3 81.1,254.3 81.4,254.5 81.7,256 82,255.2 82.4,258.4 82.7,255.9 83,257.6 83.3,257.4 83.6,255.9 84,256 84.3,257.6 84.6,254.2 84.9,258.1 85.2,258.3 85.6,258.5 85.9,258.2 86.2,258.9 86.5,257.8 86.8,259.3 87.2,255.7 87.5,259.7 87.8,256.8 88.1,258.9 88.4,257.3 88.8,257.3 89.1,256.6 89.4,259.9 89.7,255.9 90,255.5 90.4,257.7 90.7,257.6 91,257.1 91.3,255.4 91.6,255.8 92,258.1 92.3,254.9 92.6,257.4 92.9,257.4 93.2,256.4 93.6,254.1 93.9,259 94.2,256.1 94.5,256.1 94.8,255.2 95.2,254.2 95.5,255.3 95.8,256 96.1,254.3 96.4,255.8 96.8,257.5 97.1,256.3 97.4,255.5 97.7,257.3 98,257.1 98.4,257.1 98.7,254.4 99,252.8 99.3,257 99.6,255.9 100,255.2 100.3,256.6 100.6,255.2 100.9,254.9 101.2,258.8 101.6,253.5 101.9,257.4 102.2,257.7 102.5,259 102.8,256.6 103.2,257 103.5,254.8 103.8,256.4 104.1,253 104.4,255.5 104.8,256.4 105.1,256.3 105.4,255.8 105.7,258.4 106,254.1 106.4,256.9 106.7,256.1 107,256.9 107.3,257 107.6,260.1 108,255.3 108.3,259.3 108.6,259.4 108.9,257.1 109.2,256.4 109.6,255.5 109.9,256.2 110.2,260.9 110.5,254.2 110.8,258.5 111.2,256.7 111.5,260.9 111.8,258.5 112.1,255.9 112.4,257.2 112.8,258.4 113.1,258.3 113.4,256.6 113.7,257.7 114,257.4 114.4,258.8 114.7,258.5 115,258.3 115.3,257 115.6,259.1 116,256.9 116.3,256.3 116.6,256.8 116.9,256.9 117.2,256.8 117.6,254 117.9,259.1 118.2,257.7 118.5,258.7 118.8,255.7 119.2,257.3 119.5,256.2 119.8,255.7 120.1,258.3 120.4,254.3 120.8,255.9 121.1,251.9 121.4,255.3 121.7,253.9 122,252.2 122.4,252.6 122.7,249.9 123,251.2 123.3,252.9 123.6,248.1 124,253.7 124.3,253.2 124.6,250.1 124.9,248.5 125.2,248.3 125.6,248.1 125.9,248.5 126.2,252.8 126.5,247.1 126.8,249.7 127.2,250.1 127.5,246.1 127.8,246.8 128.1,247.8 128.4,245.2 128.8,247.8 129.1,248.7 129.4,244.7 129.7,243 130,244.7 130.4,243.8 130.7,241.5 131,241.9 131.3,241.7 131.6,241.8 132,242.3 132.3,239.1 132.6,237.2 132.9,236.1 133.2,241.1 133.6,236.8 133.9,236.2 134.2,240.2 134.5,237.4 134.8,238.5 135.2,234 135.5,232.4 135.8,232 136.1,233.1 136.4,232 136.8,231.2 137.1,233.4 137.4,231.2 137.7,226.4 138,228 138.4,227.4 138.7,224.3 139,228.3 139.3,225.1 139.6,225.1 140,220.9 140.3,218.9 140.6,220.9 140.9,218.4 141.2,216.8 141.6,216.6 141.9,216 142.2,214.9 142.5,213.3 142.8,213.4 143.2,216.3 143.5,212.5 143.8,208.8 144.1,211.9 144.4,206.9 144.8,204.2 145.1,203.5 145.4,201.5 145.7,205.7 146,201.1 146.4,199.6 146.7,200.1 147,199.7 147.3,197.1 147.6,197.3 148,197.4 148.3,197.6 148.6,194.2 148.9,195.9 149.2,194.6 149.6,194.4 149.9,191.9 150.2,190.2 150.5,193 150.8,191.8 151.2,189.2 151.5,188.5 151.8,190.4 152.1,192.1 152.4,189 152.8,192.1 153.1,188.3 153.4,188.1 153.7,188 154,188.8 154.4,184.5 154.7,187 155,188.7 155.3,184 155.6,186.9 156,187.7 156.3,189.2 156.6,189 156.9,186.5 157.2,190 157.6,185 157.9,184.7 158.2,189.3 158.5,188.5 158.8,185.9 159.2,189.8 159.5,189.9 159.8,190.1 160.1,188.7 160.4,188 160.8,187.9 161.1,191 161.4,191.8 161.7,191.9 162,192.6 162.4,195.7 162.7,193.1 163,194.4 163.3,199.4 163.6,195.9 164,196.5 164.3,199.9 164.6,195.9 164.9,202.1 165.2,198.1 165.6,199.4 165.9,199.3 166.2,200.5 166.5,201.5 166.8,204.8 167.2,203.9 167.5,206.8 167.8,206.5 168.1,203.9 168.4,206.6 168.8,206.2 169.1,207.1 169.4,208.7 169.7,209.7 170,210.5 170.4,207 170.7,210.8 171,211 171.3,215.3 171.6,212.6 172,213.6 172.3,214.3 172.6,216.3 172.9,213.8 173.2,216.1 173.6,216.8 173.9,217.6 174.2,217.9 174.5,218.1 174.8,219.8 175.2,218.2 175.5,223.6 175.8,221.6 176.1,219.3 176.4,222.4 176.8,225 177.1,223.8 177.4,224.4 177.7,221.6 178,228.1 178.4,226.5 178.7,223.8 179,226.9 179.3,230.5 179.6,229.3 180,226.9 180.3,228.9 180.6,230.8 180.9,234.3 181.2,231.9 181.6,233.3 181.9,232.1 182.2,233.3 182.5,232.1 182.8,232.2 183.2,232.6 183.5,234.4 183.8,237.9 184.1,236.4 184.4,238.9 184.8,238.7 185.1,238.3 185.4,237.7 185.7,242.5 186,241.4 186.4,242.1 186.7,244.6 187,243.5 187.3,241.9 187.6,242.6 188,243.4 188.3,246.6 188.6,241.8 188.9,241 189.2,243.6 189.6,244.8 189.9,244.3 190.2,247.2 190.5,247.1 190.8,246.4 191.2,247 191.5,250.4 191.8,250.9 192.1,250.9 192.4,247.9 192.8,250.8 193.1,247.4 193.4,246.6 193.7,252.7 194,251.7 194.4,251.8 194.7,253.3 195,254.1 195.3,252.2 195.6,252.5 196,253.4 196.3,254.2 196.6,253.4 196.9,251.3 197.2,257.9 197.6,253 197.9,253.6 198.2,255.9 198.5,255.2 198.8,256.5 199.2,259.9 199.5,258.6 199.8,256 200.1,257.6 200.4,257.4 200.8,259.9 201.1,256.8 201.4,257.1 201.7,256.3 202,260.2 202.4,260.4 202.7,261.3 203,261.9 203.3,259 203.6,260.8 204,260 204.3,264.1 204.6,263.9 204.9,260.6" fill="none" stroke="#111" stroke-width="1.0" stroke-linejoin="round"/>
<polyline points="28.6,275.7 28.9,275.5 29.2,278.2 29.6,273.3 29.9,276.5 30.2,272.9 30.5,278.1 30.8,276.4 31.2,278.1 31.5,274.9 31.8,276.1 32.1,274.8 32.4,273.9 32.8,275.1 33.1,272.6 33.4,273.8 33.7,275.3 34,274.1 34.4,273.1 34.7,277.1 35,273.5 35.3,272.2 35.6,273.2 36,271.9 36.3,271.9 36.6,271.8 36.9,275.4 37.2,272 37.6,272 37.9,272.6 38.2,274.6 38.5,270.8 38.8,269.9 39.2,274.7 39.5,268.2 39.8,269.8 40.1,271.3 40.4,273.7 40.8,268.3 41.1,265.8 41.4,270.6 41.7,268.5 42,268.6 42.4,269.7 42.7,269.2 43,269.1 43.3,267.8 43.6,270.4 44,270.6 44.3,268.1 44.6,267.1 44.9,268.9 45.2,268.3 45.6,265.7 45.9,266.4 46.2,268.7 46.5,266.6 46.8,266.1 47.2,266.8 47.5,266.2 47.8,266 48.1,262.7 48.4,268.4 48.8,265.7 49.1,263.8 49.4,266.5 49.7,265.2 50,264.5 50.4,265.9 50.7,267.6 51,264.6 51.3,266 51.6,266.6 52,261.3 52.3,261.7 52.6,263.5 52.9,259.2 53.2,261.2 53.6,263.3 53.9,262.6 54.2,261.5 54.5,257.1 54.8,263.5 55.2,260.3 55.5,260.2 55.8,259.3 56.1,255.4 56.4,255.4 56.8,255.3 57.1,259.9 57.4,255 57.7,255.5 58,255 58.4,255.9 58.7,255.2 59,254.3 59.3,251.2 59.6,247.6 60,252.2 60.3,251.7 60.6,252.5 60.9,249.7 61.2,248.2 61.6,249.2 61.9,245.4 62.2,245.5 62.5,245 62.8,246.5 63.2,248.9 63.5,246.3 63.8,246.5 64.1,244.6 64.4,244.2 64.8,242.6 65.1,242.5 65.4,238.7 65.7,240.3 66,239.8 66.4,242.9 66.7,242.4 67,242.9 67.3,243.4 67.6,240.3 68,242.4 68.3,243.8 68.6,240.7 68.9,242.4 69.2,240.5 69.6,238.2 69.9,241 70.2,239.6 70.5,241.3 70.8,240.5 71.2,241.9 71.5,238.2 71.8,245.1 72.1,244.2 72.4,241.7 72.8,241.1 73.1,242.9 73.4,244.3 73.7,244.2 74,244.5 74.4,241.1 74.7,242.9 75,247.4 75.3,246.2 75.6,244 76,245.7 76.3,245.5 76.6,246.9 76.9,251.2 77.2,249.7 77.6,252.6 77.9,251.8 78.2,249.8 78.5,251.8 78.8,257.2 79.2,252.7 79.5,252.8 79.8,256.9 80.1,255.5 80.4,255.8 80.8,258.7 81.1,253.8 81.4,257.8 81.7,255.8 82,255.6 82.4,256.9 82.7,260.5 83,258.7 83.3,256.2 83.6,257.7 84,262.2 84.3,261.6 84.6,258.3 84.9,264.2 85.2,259.8 85.6,258.5 85.9,260.3 86.2,262 86.5,263.2 86.8,262.2 87.2,259.8 87.5,259.5 87.8,258 88.1,260.2 88.4,259.3 88.8,260.5 89.1,258 89.4,259.1 89.7,258.4 90,257.7 90.4,257.6 90.7,257.7 91,257.3 91.3,260.1 91.6,259.2 92,256.7 92.3,259.6 92.6,259.1 92.9,260.9 93.2,258.1 93.6,257.9 93.9,257 94.2,258.3 94.5,258.8 94.8,258.2 95.2,257.5 95.5,258.8 95.8,258 96.1,258.3 96.4,256.3 96.8,258.2 97.1,256.2 97.4,256.5 97.7,258.1 98,261.3 98.4,259.5 98.7,257.9 99,257.6 99.3,259.6 99.6,260.2 100,260 100.3,257.7 100.6,258.4 100.9,257.6 101.2,257.7 101.6,256.8 101.9,257.8 102.2,254.8 102.5,256.4 102.8,259.1 103.2,256.9 103.5,259.3 103.8,256.4 104.1,257.9 104.4,259.2 104.8,256.9 105.1,257.5 105.4,262.8 105.7,257.6 106,257.7 106.4,257.9 106.7,259 107,259 107.3,260.7 107.6,260.5 108,258.6 108.3,258.7 108.6,257.1 108.9,257 109.2,258.4 109.6,260.9 109.9,259.9 110.2,261.1 110.5,261.4 110.8,259.7 111.2,263.5 111.5,259.2 111.8,259.1 112.1,259.5 112.4,262.1 112.8,260.1 113.1,259.1 113.4,261 113.7,262.2 114,260.1 114.4,259.9 114.7,262 115,261.8 115.3,261.7 115.6,258.8 116,260.4 116.3,260.4 116.6,256.8 116.9,261.6 117.2,259.6 117.6,258.7 117.9,262.8 118.2,259.2 118.5,257.6 118.8,258.4 119.2,259.3 119.5,259.4 119.8,257.8 120.1,256.2 120.4,256.3 120.8,255.8 121.1,255.2 121.4,256.6 121.7,255.5 122,256.1 122.4,254.4 122.7,254 123,254.8 123.3,254.2 123.6,256.4 124,252.7 124.3,254.1 124.6,253.4 124.9,250.9 125.2,253.9 125.6,252.6 125.9,248.5 126.2,252.5 126.5,252.7 126.8,249.4 127.2,253 127.5,250.1 127.8,247.5 128.1,249.8 128.4,247.9 128.8,245.8 129.1,244 129.4,247.4 129.7,245.3 130,247 130.4,246.1 130.7,244 131,243.5 131.3,246.7 131.6,246 132,243.9 132.3,241.5 132.6,239.9 132.9,240.3 133.2,243 133.6,240.5 133.9,238.6 134.2,236.4 134.5,238.1 134.8,235.7 135.2,236.4 135.5,236.9 135.8,236.8 136.1,234.5 136.4,233 136.8,233.1 137.1,234.9 137.4,231.8 137.7,228.1 138,232 138.4,229 138.7,233.4 139,226 139.3,225.7 139.6,224.4 140,224.5 140.3,222 140.6,219.5 140.9,217.8 141.2,219.7 141.6,218.1 141.9,216.9 142.2,220.3 142.5,217.1 142.8,216.6 143.2,213 143.5,213.3 143.8,211.5 144.1,210.5 144.4,211.1 144.8,209.9 145.1,208.5 145.4,207.3 145.7,203.7 146,203.9 146.4,204.8 146.7,202.6 147,201 147.3,202 147.6,199 148,198.5 148.3,200.2 148.6,197.4 148.9,199.4 149.2,197.2 149.6,196.8 149.9,196.6 150.2,190.4 150.5,193.1 150.8,190.4 151.2,191.2 151.5,191.1 151.8,192.8 152.1,190.3 152.4,192.6 152.8,188.7 153.1,189.2 153.4,189.1 153.7,190.3 154,188.5 154.4,187.4 154.7,187.7 155,185.9 155.3,190.1 155.6,189.2 156,188.7 156.3,188.4 156.6,187 156.9,187.4 157.2,189.5 157.6,187 157.9,187.2 158.2,191.2 158.5,191.4 158.8,189.7 159.2,190.4 159.5,190.3 159.8,192.8 160.1,190.3 160.4,191.8 160.8,193.2 161.1,195.5 161.4,193.5 161.7,195.1 162,194.7 162.4,195.2 162.7,196 163,197.9 163.3,199.9 163.6,198 164,198.8 164.3,199.8 164.6,201.7 164.9,202.9 165.2,200.4 165.6,203.6 165.9,202.1 166.2,205.5 166.5,203.4 166.8,203.8 167.2,205.1 167.5,206.8 167.8,205.9 168.1,208.5 168.4,209 168.8,209.6 169.1,210.5 169.4,212.1 169.7,210.2 170,212 170.4,212.6 170.7,210 171,214.5 171.3,213.3 171.6,214.1 172,215.2 172.3,216.7 172.6,217.7 172.9,218.7 173.2,217.4 173.6,220.3 173.9,220.6 174.2,219.9 174.5,221.2 174.8,223.2 175.2,223.2 175.5,224.3 175.8,224 176.1,226.3 176.4,228.6 176.8,226.4 177.1,223.7 177.4,229.7 177.7,226.6 178,225.9 178.4,224.8 178.7,229.9 179,231.5 179.3,232 179.6,230.3 180,233.8 180.3,231.9 180.6,231.7 180.9,233.3 181.2,234.1 181.6,234.4 181.9,235.5 182.2,231.9 182.5,238.5 182.8,235.6 183.2,238.1 183.5,236.3 183.8,238.4 184.1,238.4 184.4,236.7 184.8,240.3 185.1,241.2 185.4,239 185.7,237.9 186,240.7 186.4,240.9 186.7,242.9 187,243.2 187.3,246.3 187.6,245.3 188,244.3 188.3,245.4 188.6,241 188.9,244.7 189.2,245.1 189.6,246.8 189.9,248 190.2,248.2 190.5,249.8 190.8,247.6 191.2,249.6 191.5,249.3 191.8,249.9 192.1,250.8 192.4,250.2 192.8,251.4 193.1,251.4 193.4,253.4 193.7,252 194,253 194.4,257 194.7,254.2 195,254.4 195.3,255.7 195.6,252.7 196,255.8 196.3,256.2 196.6,256 196.9,257.2 197.2,257.3 197.6,258.3 197.9,255.7 198.2,257.8 198.5,256.6 198.8,259.8 199.2,258.4 199.5,256.5 199.8,259.1 200.1,257.7 200.4,261.2 200.8,259.5 201.1,256.9 201.4,260.2 201.7,262.8 202,262.1 202.4,261 202.7,263.4 203,263.7 203.3,265.5 203.6,265 204,264.5 204.3,263.1 204.6,265.2 204.9,265.6" fill="none" stroke="#f01010" stroke-width="1.0" stroke-linejoin="round"/>
<rect x="28.2" y="166" width="188.3" height="131.2" fill="none" stroke="#5a5a5a" stroke-width="1.1"/>
<line x1="28.2" y1="297.2" x2="28.2" y2="295.6" stroke="#5a5a5a" stroke-width="1" />
<line x1="49.1" y1="297.2" x2="49.1" y2="294.2" stroke="#5a5a5a" stroke-width="1" />
<line x1="70" y1="297.2" x2="70" y2="295.6" stroke="#5a5a5a" stroke-width="1" />
<line x1="91" y1="297.2" x2="91" y2="294.2" stroke="#5a5a5a" stroke-width="1" />
<line x1="111.9" y1="297.2" x2="111.9" y2="295.6" stroke="#5a5a5a" stroke-width="1" />
<line x1="132.8" y1="297.2" x2="132.8" y2="294.2" stroke="#5a5a5a" stroke-width="1" />
<line x1="153.7" y1="297.2" x2="153.7" y2="295.6" stroke="#5a5a5a" stroke-width="1" />
<line x1="174.7" y1="297.2" x2="174.7" y2="294.2" stroke="#5a5a5a" stroke-width="1" />
<line x1="195.6" y1="297.2" x2="195.6" y2="295.6" stroke="#5a5a5a" stroke-width="1" />
<line x1="216.5" y1="297.2" x2="216.5" y2="294.2" stroke="#5a5a5a" stroke-width="1" />
<line x1="47.3" y1="166" x2="47.3" y2="168" stroke="#5a5a5a" stroke-width="1" />
<line x1="66.4" y1="166" x2="66.4" y2="168" stroke="#5a5a5a" stroke-width="1" />
<line x1="85.5" y1="166" x2="85.5" y2="168" stroke="#5a5a5a" stroke-width="1" />
<line x1="104.6" y1="166" x2="104.6" y2="168" stroke="#5a5a5a" stroke-width="1" />
<line x1="123.7" y1="166" x2="123.7" y2="168" stroke="#5a5a5a" stroke-width="1" />
<line x1="142.8" y1="166" x2="142.8" y2="168" stroke="#5a5a5a" stroke-width="1" />
<line x1="161.9" y1="166" x2="161.9" y2="168" stroke="#5a5a5a" stroke-width="1" />
<line x1="181" y1="166" x2="181" y2="168" stroke="#5a5a5a" stroke-width="1" />
<line x1="200.1" y1="166" x2="200.1" y2="168" stroke="#5a5a5a" stroke-width="1" />
<line x1="216.5" y1="179.2" x2="214.5" y2="179.2" stroke="#5a5a5a" stroke-width="1" />
<line x1="216.5" y1="192.4" x2="214.5" y2="192.4" stroke="#5a5a5a" stroke-width="1" />
<line x1="216.5" y1="205.6" x2="214.5" y2="205.6" stroke="#5a5a5a" stroke-width="1" />
<line x1="216.5" y1="218.8" x2="214.5" y2="218.8" stroke="#5a5a5a" stroke-width="1" />
<line x1="216.5" y1="232" x2="214.5" y2="232" stroke="#5a5a5a" stroke-width="1" />
<line x1="216.5" y1="245.2" x2="214.5" y2="245.2" stroke="#5a5a5a" stroke-width="1" />
<line x1="216.5" y1="258.4" x2="214.5" y2="258.4" stroke="#5a5a5a" stroke-width="1" />
<line x1="216.5" y1="271.6" x2="214.5" y2="271.6" stroke="#5a5a5a" stroke-width="1" />
<line x1="216.5" y1="284.8" x2="214.5" y2="284.8" stroke="#5a5a5a" stroke-width="1" />
<line x1="28.2" y1="287.5" x2="31.2" y2="287.5" stroke="#5a5a5a" stroke-width="1" />
<line x1="28.2" y1="275.4" x2="29.8" y2="275.4" stroke="#5a5a5a" stroke-width="1" />
<line x1="28.2" y1="263.2" x2="31.2" y2="263.2" stroke="#5a5a5a" stroke-width="1" />
<line x1="28.2" y1="251.1" x2="29.8" y2="251.1" stroke="#5a5a5a" stroke-width="1" />
<line x1="28.2" y1="238.9" x2="31.2" y2="238.9" stroke="#5a5a5a" stroke-width="1" />
<line x1="28.2" y1="226.8" x2="29.8" y2="226.8" stroke="#5a5a5a" stroke-width="1" />
<line x1="28.2" y1="214.6" x2="31.2" y2="214.6" stroke="#5a5a5a" stroke-width="1" />
<line x1="28.2" y1="202.4" x2="29.8" y2="202.4" stroke="#5a5a5a" stroke-width="1" />
<line x1="28.2" y1="190.3" x2="31.2" y2="190.3" stroke="#5a5a5a" stroke-width="1" />
<line x1="28.2" y1="178.2" x2="29.8" y2="178.2" stroke="#5a5a5a" stroke-width="1" />
<text x="49.1" y="307.2" font-family="'Liberation Sans', sans-serif" font-size="8.5" font-weight="bold" text-anchor="middle" fill="#000" >620</text>
<text x="91" y="307.2" font-family="'Liberation Sans', sans-serif" font-size="8.5" font-weight="bold" text-anchor="middle" fill="#000" >640</text>
<text x="132.8" y="307.2" font-family="'Liberation Sans', sans-serif" font-size="8.5" font-weight="bold" text-anchor="middle" fill="#000" >660</text>
<text x="174.7" y="307.2" font-family="'Liberation Sans', sans-serif" font-size="8.5" font-weight="bold" text-anchor="middle" fill="#000" >680</text>
<text x="216.5" y="307.2" font-family="'Liberation Sans', sans-serif" font-size="8.5" font-weight="bold" text-anchor="middle" fill="#000" >700</text>
<text x="23.8" y="291.1" font-family="'Liberation Serif', serif" font-size="9.2" font-weight="bold" text-anchor="end" fill="#000" >300</text>
<text x="23.8" y="266.8" font-family="'Liberation Serif', serif" font-size="9.2" font-weight="bold" text-anchor="end" fill="#000" >350</text>
<text x="23.8" y="242.5" font-family="'Liberation Serif', serif" font-size="9.2" font-weight="bold" text-anchor="end" fill="#000" >400</text>
<text x="23.8" y="218.2" font-family="'Liberation Serif', serif" font-size="9.2" font-weight="bold" text-anchor="end" fill="#000" >450</text>
<text x="23.8" y="193.9" font-family="'Liberation Serif', serif" font-size="9.2" font-weight="bold" text-anchor="end" fill="#000" >500</text>
<text x="23.8" y="169.6" font-family="'Liberation Serif', serif" font-size="9.2" font-weight="bold" text-anchor="end" fill="#000" >550</text>
<text transform="translate(5.5,229) rotate(-90)" x="0" y="0" font-family="'Liberation Serif', serif" font-size="9.6" font-weight="bold" text-anchor="middle" dominant-baseline="central" >Intensity (a.u.)</text>
<text x="122.6" y="320.2" font-family="'Liberation Serif', serif" font-size="8.9" font-weight="bold" text-anchor="middle" fill="#000" >Wavelength (nm)</text>
<text x="2.5" y="168.8" font-family="'Liberation Serif', serif" font-size="11.5" font-weight="bold" text-anchor="start" fill="#000" >d</text>
<line x1="170.2" y1="174.7" x2="185.5" y2="174.7" stroke="#8a8a8a" stroke-width="1.3" />
<line x1="170.2" y1="184.3" x2="185.5" y2="184.3" stroke="#f07070" stroke-width="1.3" />
<text x="187.8" y="177" font-family="'Liberation Serif', serif" font-size="6.8" font-weight="bold">Fe<tspan font-size="4.3" dy="-3.2">+3</tspan></text>
<text x="187.2" y="186.8" font-family="'Liberation Serif', serif" font-size="6.8" font-weight="bold">Fe<tspan font-size="4.2" dy="-3.2">+3</tspan><tspan font-size="6.2" dy="3.2">+O</tspan><tspan font-size="4" dy="1.5">2</tspan></text>
<text x="62.5" y="217.6" font-family="'Liberation Serif', serif" font-size="9.8" font-weight="normal" text-anchor="start" fill="#000" stroke="#000" stroke-width="0.22">0 s</text>
<text x="32" y="230.3" font-family="'Liberation Serif', serif" font-size="9.9" font-weight="normal" text-anchor="start" fill="#000" stroke="#000" stroke-width="0.22">4.0 s</text>
<line x1="66.9" y1="219.8" x2="66.9" y2="230.8" stroke="#111" stroke-width="0.9" stroke-dasharray="1.5,1.2"/>
<polygon points="66.9,234 64.9,230 68.9,230" fill="#111"/>
<line x1="49.5" y1="232.2" x2="61.2" y2="241.7" stroke="#e82828" stroke-width="1.0" stroke-dasharray="1.6,0.9"/>
<polygon points="63.4,243.5 59.6,242.7 61.8,239.9" fill="#e82828"/>
<text x="36.4" y="176.4" font-family="'Liberation Serif', serif" font-size="8.6" fill="#1e3580" stroke="#1e3580" stroke-width="0.3">O<tspan font-size="5" dy="1.8">2</tspan></text>
<circle cx="50.3" cy="173.7" r="2.1" fill="url(#gr)"/>
<circle cx="57.2" cy="173.7" r="2.1" fill="url(#gr)"/>
<circle cx="88.1" cy="173.7" r="2.1" fill="url(#gr)"/>
<circle cx="95" cy="173.7" r="2.1" fill="url(#gr)"/>
<text x="76.1" y="176.3" font-family="'Liberation Serif', serif" font-size="8.6" font-weight="bold" stroke="#000" stroke-width="0.25">O<tspan font-size="5.4" dy="1.6">2</tspan></text>
<polygon points="40,184 48,179 52,177.5 61,178 66.5,186 66,191 56,195.5 49,197 43,193" fill="#9a9a9a"/>
<circle cx="51.1" cy="179.6" r="2.35" fill="url(#gg)"/>
<circle cx="56.8" cy="179.2" r="2.35" fill="url(#gg)"/>
<circle cx="60.8" cy="180" r="2.35" fill="url(#gg)"/>
<circle cx="47.1" cy="182.9" r="2.35" fill="url(#gg)"/>
<circle cx="55.2" cy="182.9" r="2.35" fill="url(#gw)"/>
<circle cx="59.5" cy="183.2" r="2.35" fill="url(#gg)"/>
<circle cx="41.5" cy="184.5" r="2.35" fill="url(#gg)"/>
<circle cx="44.7" cy="184.5" r="2.35" fill="url(#gw)"/>
<circle cx="63.2" cy="185.3" r="2.35" fill="url(#gd)"/>
<circle cx="65.6" cy="188.2" r="2.35" fill="url(#gd)"/>
<circle cx="64" cy="191" r="2.35" fill="url(#gd)"/>
<circle cx="43.1" cy="186.9" r="2.35" fill="url(#gw)"/>
<circle cx="47.1" cy="188.5" r="2.35" fill="url(#gw)"/>
<circle cx="50.3" cy="190.1" r="2.35" fill="url(#gw)"/>
<circle cx="52.8" cy="192.3" r="2.35" fill="url(#gg)"/>
<circle cx="49.5" cy="195.1" r="2.35" fill="url(#gw)"/>
<circle cx="46.5" cy="191.5" r="2.35" fill="url(#gw)"/>
<circle cx="55.2" cy="190.1" r="2.35" fill="url(#gg)"/>
<circle cx="59.2" cy="189.3" r="2.35" fill="url(#gg)"/>
<circle cx="56" cy="193.3" r="2.35" fill="url(#gd)"/>
<circle cx="60.5" cy="192.6" r="2.35" fill="url(#gd)"/>
<circle cx="53.5" cy="195.6" r="2.35" fill="url(#gd)"/>
<circle cx="49.5" cy="184.5" r="1.5" fill="#2a2aa8"/>
<circle cx="51.9" cy="186.1" r="1.5" fill="#2a2aa8"/>
<circle cx="48.2" cy="186" r="1.5" fill="#2a2aa8"/>
<circle cx="54.3" cy="184.3" r="1.8" fill="#a02838"/>
<circle cx="57.6" cy="182.9" r="1.3" fill="#8870a0"/>
<circle cx="35.8" cy="187.3" r="2.2" fill="url(#gr)"/>
<circle cx="36.4" cy="189.6" r="2.2" fill="url(#gr)"/>
<circle cx="38.4" cy="190.3" r="2.2" fill="url(#gr)"/>
<circle cx="42.1" cy="192.2" r="2.2" fill="url(#gr)"/>
<circle cx="43.4" cy="194.3" r="2.2" fill="url(#gr)"/>
<circle cx="44.9" cy="193.4" r="2.2" fill="url(#gr)"/>
<circle cx="45.7" cy="195.5" r="2.2" fill="url(#gr)"/>
<polygon points="76.6,185.1 84.6,180.1 88.6,178.6 97.6,179.1 103.1,187.1 102.6,192.1 92.6,196.6 85.6,198.1 79.6,194.1" fill="#9a9a9a"/>
<circle cx="87.7" cy="180.7" r="2.35" fill="url(#gg)"/>
<circle cx="93.4" cy="180.3" r="2.35" fill="url(#gg)"/>
<circle cx="97.4" cy="181.1" r="2.35" fill="url(#gg)"/>
<circle cx="83.7" cy="184" r="2.35" fill="url(#gg)"/>
<circle cx="91.8" cy="184" r="2.35" fill="url(#gw)"/>
<circle cx="96.1" cy="184.3" r="2.35" fill="url(#gg)"/>
<circle cx="78.1" cy="185.6" r="2.35" fill="url(#gg)"/>
<circle cx="81.3" cy="185.6" r="2.35" fill="url(#gw)"/>
<circle cx="99.8" cy="186.4" r="2.35" fill="url(#gd)"/>
<circle cx="102.2" cy="189.3" r="2.35" fill="url(#gd)"/>
<circle cx="100.6" cy="192.1" r="2.35" fill="url(#gd)"/>
<circle cx="79.7" cy="188" r="2.35" fill="url(#gw)"/>
<circle cx="83.7" cy="189.6" r="2.35" fill="url(#gw)"/>
<circle cx="86.9" cy="191.2" r="2.35" fill="url(#gw)"/>
<circle cx="89.4" cy="193.4" r="2.35" fill="url(#gg)"/>
<circle cx="86.1" cy="196.2" r="2.35" fill="url(#gw)"/>
<circle cx="83.1" cy="192.6" r="2.35" fill="url(#gw)"/>
<circle cx="91.8" cy="191.2" r="2.35" fill="url(#gg)"/>
<circle cx="95.8" cy="190.4" r="2.35" fill="url(#gg)"/>
<circle cx="92.6" cy="194.4" r="2.35" fill="url(#gd)"/>
<circle cx="97.1" cy="193.7" r="2.35" fill="url(#gd)"/>
<circle cx="90.1" cy="196.7" r="2.35" fill="url(#gd)"/>
<circle cx="86.1" cy="185.6" r="1.5" fill="#2a2aa8"/>
<circle cx="88.5" cy="187.2" r="1.5" fill="#2a2aa8"/>
<circle cx="84.8" cy="187.1" r="1.5" fill="#2a2aa8"/>
<circle cx="90.9" cy="185.4" r="1.8" fill="#a02838"/>
<circle cx="94.2" cy="184" r="1.3" fill="#8870a0"/>
<circle cx="72.4" cy="188.4" r="2.2" fill="url(#gr)"/>
<circle cx="73" cy="190.7" r="2.2" fill="url(#gr)"/>
<circle cx="75" cy="191.4" r="2.2" fill="url(#gr)"/>
<circle cx="78.7" cy="193.3" r="2.2" fill="url(#gr)"/>
<circle cx="80" cy="195.4" r="2.2" fill="url(#gr)"/>
<circle cx="81.5" cy="194.5" r="2.2" fill="url(#gr)"/>
<circle cx="82.3" cy="196.6" r="2.2" fill="url(#gr)"/>
<line x1="64" y1="186.7" x2="69" y2="186.7" stroke="#111" stroke-width="1.1" />
<polygon points="73,186.7 69,188.7 69,184.7" fill="#111"/>
<rect x="254.6" y="5" width="191.4" height="133.6" fill="none" stroke="#5a5a5a" stroke-width="1.1"/>
<line x1="268.3" y1="138.6" x2="268.3" y2="137" stroke="#5a5a5a" stroke-width="1" />
<line x1="282" y1="138.6" x2="282" y2="135.6" stroke="#5a5a5a" stroke-width="1" />
<line x1="295.7" y1="138.6" x2="295.7" y2="137" stroke="#5a5a5a" stroke-width="1" />
<line x1="309.4" y1="138.6" x2="309.4" y2="135.6" stroke="#5a5a5a" stroke-width="1" />
<line x1="323.1" y1="138.6" x2="323.1" y2="137" stroke="#5a5a5a" stroke-width="1" />
<line x1="336.8" y1="138.6" x2="336.8" y2="135.6" stroke="#5a5a5a" stroke-width="1" />
<line x1="350.5" y1="138.6" x2="350.5" y2="137" stroke="#5a5a5a" stroke-width="1" />
<line x1="364.2" y1="138.6" x2="364.2" y2="135.6" stroke="#5a5a5a" stroke-width="1" />
<line x1="377.9" y1="138.6" x2="377.9" y2="137" stroke="#5a5a5a" stroke-width="1" />
<line x1="391.6" y1="138.6" x2="391.6" y2="135.6" stroke="#5a5a5a" stroke-width="1" />
<line x1="405.3" y1="138.6" x2="405.3" y2="137" stroke="#5a5a5a" stroke-width="1" />
<line x1="419" y1="138.6" x2="419" y2="135.6" stroke="#5a5a5a" stroke-width="1" />
<line x1="432.7" y1="138.6" x2="432.7" y2="137" stroke="#5a5a5a" stroke-width="1" />
<line x1="273.8" y1="5" x2="273.8" y2="7" stroke="#5a5a5a" stroke-width="1" />
<line x1="293" y1="5" x2="293" y2="7" stroke="#5a5a5a" stroke-width="1" />
<line x1="312.2" y1="5" x2="312.2" y2="7" stroke="#5a5a5a" stroke-width="1" />
<line x1="331.4" y1="5" x2="331.4" y2="7" stroke="#5a5a5a" stroke-width="1" />
<line x1="350.6" y1="5" x2="350.6" y2="7" stroke="#5a5a5a" stroke-width="1" />
<line x1="369.8" y1="5" x2="369.8" y2="7" stroke="#5a5a5a" stroke-width="1" />
<line x1="389" y1="5" x2="389" y2="7" stroke="#5a5a5a" stroke-width="1" />
<line x1="408.2" y1="5" x2="408.2" y2="7" stroke="#5a5a5a" stroke-width="1" />
<line x1="427.4" y1="5" x2="427.4" y2="7" stroke="#5a5a5a" stroke-width="1" />
<text x="282" y="147.7" font-family="'Liberation Serif', serif" font-size="9" font-weight="bold" text-anchor="middle" fill="#000" >-1</text>
<text x="309.4" y="147.7" font-family="'Liberation Serif', serif" font-size="9" font-weight="bold" text-anchor="middle" fill="#000" >1</text>
<text x="336.8" y="147.7" font-family="'Liberation Serif', serif" font-size="9" font-weight="bold" text-anchor="middle" fill="#000" >2</text>
<text x="364.2" y="147.7" font-family="'Liberation Serif', serif" font-size="9" font-weight="bold" text-anchor="middle" fill="#000" >3</text>
<text x="391.6" y="147.7" font-family="'Liberation Serif', serif" font-size="9" font-weight="bold" text-anchor="middle" fill="#000" >4</text>
<text x="419" y="147.7" font-family="'Liberation Serif', serif" font-size="9" font-weight="bold" text-anchor="middle" fill="#000" >5</text>
<text x="446.4" y="147.7" font-family="'Liberation Serif', serif" font-size="9" font-weight="bold" text-anchor="middle" fill="#000" >6</text>
<line x1="254.6" y1="125.3" x2="256.2" y2="125.3" stroke="#5a5a5a" stroke-width="1" />
<line x1="446" y1="125.3" x2="444.4" y2="125.3" stroke="#5a5a5a" stroke-width="1" />
<line x1="254.6" y1="111.9" x2="257.6" y2="111.9" stroke="#5a5a5a" stroke-width="1" />
<line x1="446" y1="111.9" x2="443" y2="111.9" stroke="#5a5a5a" stroke-width="1" />
<line x1="254.6" y1="98.6" x2="256.2" y2="98.6" stroke="#5a5a5a" stroke-width="1" />
<line x1="446" y1="98.6" x2="444.4" y2="98.6" stroke="#5a5a5a" stroke-width="1" />
<line x1="254.6" y1="85.3" x2="257.6" y2="85.3" stroke="#5a5a5a" stroke-width="1" />
<line x1="446" y1="85.3" x2="443" y2="85.3" stroke="#5a5a5a" stroke-width="1" />
<line x1="254.6" y1="72" x2="256.2" y2="72" stroke="#5a5a5a" stroke-width="1" />
<line x1="446" y1="72" x2="444.4" y2="72" stroke="#5a5a5a" stroke-width="1" />
<line x1="254.6" y1="58.6" x2="257.6" y2="58.6" stroke="#5a5a5a" stroke-width="1" />
<line x1="446" y1="58.6" x2="443" y2="58.6" stroke="#5a5a5a" stroke-width="1" />
<line x1="254.6" y1="45.3" x2="256.2" y2="45.3" stroke="#5a5a5a" stroke-width="1" />
<line x1="446" y1="45.3" x2="444.4" y2="45.3" stroke="#5a5a5a" stroke-width="1" />
<line x1="254.6" y1="32" x2="257.6" y2="32" stroke="#5a5a5a" stroke-width="1" />
<line x1="446" y1="32" x2="443" y2="32" stroke="#5a5a5a" stroke-width="1" />
<line x1="254.6" y1="18.7" x2="256.2" y2="18.7" stroke="#5a5a5a" stroke-width="1" />
<line x1="446" y1="18.7" x2="444.4" y2="18.7" stroke="#5a5a5a" stroke-width="1" />
<text x="251.2" y="141.1" font-family="'Liberation Sans', sans-serif" font-size="8.3" font-weight="bold" text-anchor="end" fill="#000" >300</text>
<text x="251.2" y="114.4" font-family="'Liberation Sans', sans-serif" font-size="8.3" font-weight="bold" text-anchor="end" fill="#000" >400</text>
<text x="251.2" y="87.8" font-family="'Liberation Sans', sans-serif" font-size="8.3" font-weight="bold" text-anchor="end" fill="#000" >500</text>
<text x="251.2" y="61.1" font-family="'Liberation Sans', sans-serif" font-size="8.3" font-weight="bold" text-anchor="end" fill="#000" >600</text>
<text x="251.2" y="34.5" font-family="'Liberation Sans', sans-serif" font-size="8.3" font-weight="bold" text-anchor="end" fill="#000" >700</text>
<text x="251.2" y="7.8" font-family="'Liberation Sans', sans-serif" font-size="8.3" font-weight="bold" text-anchor="end" fill="#000" >800</text>
<text transform="translate(231.3,72.6) rotate(-90)" x="0" y="0" font-family="'Liberation Serif', serif" font-size="8.6" font-weight="bold" text-anchor="middle" dominant-baseline="central" >Intensity of fluorescent (a.u.)</text>
<text x="311.2" y="157.4" font-family="'Liberation Serif', serif" font-size="8.8" font-weight="bold">Reaction times</text>
<text x="372.6" y="156.6" font-family="'Liberation Serif', serif" font-size="8.4" fill="#333">(</text>
<text x="376.4" y="157.4" font-family="'Liberation Serif', serif" font-size="8.8" font-weight="bold">s</text>
<text x="381.9" y="156.6" font-family="'Liberation Serif', serif" font-size="8.4" fill="#333">)</text>
<text x="229.4" y="8.9" font-family="'Liberation Serif', serif" font-size="12" font-weight="bold" text-anchor="start" fill="#000" >b</text>
<line x1="295.6" y1="5.5" x2="295.6" y2="138" stroke="#222" stroke-width="0.9" stroke-dasharray="1.4,1.2"/>
<text x="266.8" y="21.3" font-family="'Liberation Serif', serif" font-size="11.4" stroke="#000" stroke-width="0.35">O<tspan font-size="8" dy="1.4" fill="#2a3448" stroke="#2a3448">2</tspan></text>
<line x1="274" y1="26.4" x2="288" y2="26.4" stroke="#e82020" stroke-width="1.2" />
<polygon points="293.4,26.4 286.4,28.9 286.4,23.9" fill="#e82020"/>
<g clip-path="url(#cb)">
<polyline points="254.6,88 260.2,88.3 265.4,90.4 268.2,89.2 270.7,89.6 276.3,89.2 281.9,90.1 287.2,88 292.6,85.1 298,85.5 303.5,82.6 309.1,82.6 314.7,82.6 320.3,84.2 325.6,73.2 330.9,70.1 336.5,68.8 342,65.7 347.5,61 353.1,60.2 358.4,55.2 364,50.3 369.3,45 374.7,47 380.1,46.4 385.5,44.3 388.3,44.9 391,49.9 393.9,43.9 396.4,52.7 399.3,49 401.6,47.4 404.4,46.4 407.4,47.4 410.2,44.3 413.3,44.7 416,44.3 418.9,46.1 422.3,44.9 424.2,46.1 426.3,49.8 429.2,48 431.6,50.4 434.7,48.6 437.2,46.7 439.7,46.1 442.2,46.7 444.6,45.9" fill="none" stroke="#e83030" stroke-width="0.8"/>
<circle cx="254.6" cy="88" r="1.85" fill="url(#gdr)"/>
<circle cx="260.2" cy="88.3" r="1.85" fill="url(#gdr)"/>
<circle cx="265.4" cy="90.4" r="1.85" fill="url(#gdr)"/>
<circle cx="268.2" cy="89.2" r="1.85" fill="url(#gdr)"/>
<circle cx="270.7" cy="89.6" r="1.85" fill="url(#gdr)"/>
<circle cx="276.3" cy="89.2" r="1.85" fill="url(#gdr)"/>
<circle cx="281.9" cy="90.1" r="1.85" fill="url(#gdr)"/>
<circle cx="287.2" cy="88" r="1.85" fill="url(#gdr)"/>
<circle cx="292.6" cy="85.1" r="1.85" fill="url(#gdr)"/>
<circle cx="298" cy="85.5" r="1.85" fill="url(#gdr)"/>
<circle cx="303.5" cy="82.6" r="1.85" fill="url(#gdr)"/>
<circle cx="309.1" cy="82.6" r="1.85" fill="url(#gdr)"/>
<circle cx="314.7" cy="82.6" r="1.85" fill="url(#gdr)"/>
<circle cx="320.3" cy="84.2" r="1.85" fill="url(#gdr)"/>
<circle cx="325.6" cy="73.2" r="1.85" fill="url(#gdr)"/>
<circle cx="330.9" cy="70.1" r="1.85" fill="url(#gdr)"/>
<circle cx="336.5" cy="68.8" r="1.85" fill="url(#gdr)"/>
<circle cx="342" cy="65.7" r="1.85" fill="url(#gdr)"/>
<circle cx="347.5" cy="61" r="1.85" fill="url(#gdr)"/>
<circle cx="353.1" cy="60.2" r="1.85" fill="url(#gdr)"/>
<circle cx="358.4" cy="55.2" r="1.85" fill="url(#gdr)"/>
<circle cx="364" cy="50.3" r="1.85" fill="url(#gdr)"/>
<circle cx="369.3" cy="45" r="1.85" fill="url(#gdr)"/>
<circle cx="374.7" cy="47" r="1.85" fill="url(#gdr)"/>
<circle cx="380.1" cy="46.4" r="1.85" fill="url(#gdr)"/>
<circle cx="385.5" cy="44.3" r="1.85" fill="url(#gdr)"/>
<circle cx="388.3" cy="44.9" r="1.85" fill="url(#gdr)"/>
<circle cx="391" cy="49.9" r="1.85" fill="url(#gdr)"/>
<circle cx="393.9" cy="43.9" r="1.85" fill="url(#gdr)"/>
<circle cx="396.4" cy="52.7" r="1.85" fill="url(#gdr)"/>
<circle cx="399.3" cy="49" r="1.85" fill="url(#gdr)"/>
<circle cx="401.6" cy="47.4" r="1.85" fill="url(#gdr)"/>
<circle cx="404.4" cy="46.4" r="1.85" fill="url(#gdr)"/>
<circle cx="407.4" cy="47.4" r="1.85" fill="url(#gdr)"/>
<circle cx="410.2" cy="44.3" r="1.85" fill="url(#gdr)"/>
<circle cx="413.3" cy="44.7" r="1.85" fill="url(#gdr)"/>
<circle cx="416" cy="44.3" r="1.85" fill="url(#gdr)"/>
<circle cx="418.9" cy="46.1" r="1.85" fill="url(#gdr)"/>
<circle cx="422.3" cy="44.9" r="1.85" fill="url(#gdr)"/>
<circle cx="424.2" cy="46.1" r="1.85" fill="url(#gdr)"/>
<circle cx="426.3" cy="49.8" r="1.85" fill="url(#gdr)"/>
<circle cx="429.2" cy="48" r="1.85" fill="url(#gdr)"/>
<circle cx="431.6" cy="50.4" r="1.85" fill="url(#gdr)"/>
<circle cx="434.7" cy="48.6" r="1.85" fill="url(#gdr)"/>
<circle cx="437.2" cy="46.7" r="1.85" fill="url(#gdr)"/>
<circle cx="439.7" cy="46.1" r="1.85" fill="url(#gdr)"/>
<circle cx="442.2" cy="46.7" r="1.85" fill="url(#gdr)"/>
<circle cx="444.6" cy="45.9" r="1.85" fill="url(#gdr)"/>
<polyline points="254.6,96.6 260.2,97 265.4,95.8 268.2,96 270.7,96.6 276.3,98.2 281.9,97.2 287.2,96.6 292.6,96.3 298,96.3 303.5,97 309.1,98.2 314.7,98.5 320.3,97 325.6,97.9 330.9,96.7 336.3,98.1 341.6,98.6 347.2,98.1 352.7,95.3 358.3,98.1 363.6,98.6 369.2,96.2 374.8,96 380.1,97.2 385.7,96.2" fill="none" stroke="#2424e0" stroke-width="0.8"/>
<circle cx="254.6" cy="96.6" r="1.85" fill="url(#gdb)"/>
<circle cx="260.2" cy="97" r="1.85" fill="url(#gdb)"/>
<circle cx="265.4" cy="95.8" r="1.85" fill="url(#gdb)"/>
<circle cx="268.2" cy="96" r="1.85" fill="url(#gdb)"/>
<circle cx="270.7" cy="96.6" r="1.85" fill="url(#gdb)"/>
<circle cx="276.3" cy="98.2" r="1.85" fill="url(#gdb)"/>
<circle cx="281.9" cy="97.2" r="1.85" fill="url(#gdb)"/>
<circle cx="287.2" cy="96.6" r="1.85" fill="url(#gdb)"/>
<circle cx="292.6" cy="96.3" r="1.85" fill="url(#gdb)"/>
<circle cx="298" cy="96.3" r="1.85" fill="url(#gdb)"/>
<circle cx="303.5" cy="97" r="1.85" fill="url(#gdb)"/>
<circle cx="309.1" cy="98.2" r="1.85" fill="url(#gdb)"/>
<circle cx="314.7" cy="98.5" r="1.85" fill="url(#gdb)"/>
<circle cx="320.3" cy="97" r="1.85" fill="url(#gdb)"/>
<circle cx="325.6" cy="97.9" r="1.85" fill="url(#gdb)"/>
<circle cx="330.9" cy="96.7" r="1.85" fill="url(#gdb)"/>
<circle cx="336.3" cy="98.1" r="1.85" fill="url(#gdb)"/>
<circle cx="341.6" cy="98.6" r="1.85" fill="url(#gdb)"/>
<circle cx="347.2" cy="98.1" r="1.85" fill="url(#gdb)"/>
<circle cx="352.7" cy="95.3" r="1.85" fill="url(#gdb)"/>
<circle cx="358.3" cy="98.1" r="1.85" fill="url(#gdb)"/>
<circle cx="363.6" cy="98.6" r="1.85" fill="url(#gdb)"/>
<circle cx="369.2" cy="96.2" r="1.85" fill="url(#gdb)"/>
<circle cx="374.8" cy="96" r="1.85" fill="url(#gdb)"/>
<circle cx="380.1" cy="97.2" r="1.85" fill="url(#gdb)"/>
<circle cx="385.7" cy="96.2" r="1.85" fill="url(#gdb)"/>
<polyline points="385.7,96.2 388.5,97.2 391.1,97 393.6,96.6 396.2,98 398.7,96.3 401.3,97.3 403.8,98.1 406.4,96.5 408.9,97.4 411.5,97.5 414,95 416.6,97.1 419.1,97.7 421.7,97.2 424.2,97.8 426.8,96.6 429.3,96.8 431.9,95 434.4,97.3 437,98.1 439.5,97.5 442.1,97.8 444.6,97.1" fill="none" stroke="#2424e0" stroke-width="0.8"/>
<circle cx="385.7" cy="96.2" r="1.5" fill="url(#gdb)"/>
<circle cx="388.5" cy="97.2" r="1.5" fill="url(#gdb)"/>
<circle cx="391.1" cy="97" r="1.5" fill="url(#gdb)"/>
<circle cx="393.6" cy="96.6" r="1.5" fill="url(#gdb)"/>
<circle cx="396.2" cy="98" r="1.5" fill="url(#gdb)"/>
<circle cx="398.7" cy="96.3" r="1.5" fill="url(#gdb)"/>
<circle cx="401.3" cy="97.3" r="1.5" fill="url(#gdb)"/>
<circle cx="403.8" cy="98.1" r="1.5" fill="url(#gdb)"/>
<circle cx="406.4" cy="96.5" r="1.5" fill="url(#gdb)"/>
<circle cx="408.9" cy="97.4" r="1.5" fill="url(#gdb)"/>
<circle cx="411.5" cy="97.5" r="1.5" fill="url(#gdb)"/>
<circle cx="414" cy="95" r="1.5" fill="url(#gdb)"/>
<circle cx="416.6" cy="97.1" r="1.5" fill="url(#gdb)"/>
<circle cx="419.1" cy="97.7" r="1.5" fill="url(#gdb)"/>
<circle cx="421.7" cy="97.2" r="1.5" fill="url(#gdb)"/>
<circle cx="424.2" cy="97.8" r="1.5" fill="url(#gdb)"/>
<circle cx="426.8" cy="96.6" r="1.5" fill="url(#gdb)"/>
<circle cx="429.3" cy="96.8" r="1.5" fill="url(#gdb)"/>
<circle cx="431.9" cy="95" r="1.5" fill="url(#gdb)"/>
<circle cx="434.4" cy="97.3" r="1.5" fill="url(#gdb)"/>
<circle cx="437" cy="98.1" r="1.5" fill="url(#gdb)"/>
<circle cx="439.5" cy="97.5" r="1.5" fill="url(#gdb)"/>
<circle cx="442.1" cy="97.8" r="1.5" fill="url(#gdb)"/>
<circle cx="444.6" cy="97.1" r="1.5" fill="url(#gdb)"/>
</g>
<line x1="327.5" y1="67.8" x2="352.1" y2="50.5" stroke="#111" stroke-width="0.9" stroke-dasharray="1.3,1.1"/>
<polygon points="354.7,48.7 352.6,52.6 350.3,49.4" fill="#111"/>
<line x1="398" y1="13.6" x2="413.8" y2="13.6" stroke="#3c3cf0" stroke-width="1" />
<circle cx="406" cy="13.6" r="1.8" fill="url(#gdb)"/>
<line x1="398" y1="21.9" x2="413.8" y2="21.9" stroke="#f07070" stroke-width="1" />
<circle cx="406" cy="21.9" r="1.8" fill="url(#gdr)"/>
<text x="418" y="15.9" font-family="'Liberation Serif', serif" font-size="6.6" font-weight="bold" text-anchor="start" fill="#000" >629.5nm</text>
<text x="418" y="24.2" font-family="'Liberation Serif', serif" font-size="6.6" font-weight="bold" text-anchor="start" fill="#000" >672.1nm</text>
<rect x="258.8" y="163.6" width="188.2" height="132.4" fill="none" stroke="#5a5a5a" stroke-width="1.1"/>
<line x1="279.4" y1="296" x2="279.4" y2="293" stroke="#5a5a5a" stroke-width="1" />
<line x1="300.4" y1="296" x2="300.4" y2="294.4" stroke="#5a5a5a" stroke-width="1" />
<line x1="321.6" y1="296" x2="321.6" y2="293" stroke="#5a5a5a" stroke-width="1" />
<line x1="342.6" y1="296" x2="342.6" y2="294.4" stroke="#5a5a5a" stroke-width="1" />
<line x1="363.3" y1="296" x2="363.3" y2="293" stroke="#5a5a5a" stroke-width="1" />
<line x1="384.3" y1="296" x2="384.3" y2="294.4" stroke="#5a5a5a" stroke-width="1" />
<line x1="405.6" y1="296" x2="405.6" y2="293" stroke="#5a5a5a" stroke-width="1" />
<line x1="426.6" y1="296" x2="426.6" y2="294.4" stroke="#5a5a5a" stroke-width="1" />
<line x1="275.9" y1="163.6" x2="275.9" y2="165.6" stroke="#5a5a5a" stroke-width="1" />
<line x1="295" y1="163.6" x2="295" y2="165.6" stroke="#5a5a5a" stroke-width="1" />
<line x1="314.1" y1="163.6" x2="314.1" y2="165.6" stroke="#5a5a5a" stroke-width="1" />
<line x1="333.2" y1="163.6" x2="333.2" y2="165.6" stroke="#5a5a5a" stroke-width="1" />
<line x1="352.3" y1="163.6" x2="352.3" y2="165.6" stroke="#5a5a5a" stroke-width="1" />
<line x1="371.4" y1="163.6" x2="371.4" y2="165.6" stroke="#5a5a5a" stroke-width="1" />
<line x1="390.5" y1="163.6" x2="390.5" y2="165.6" stroke="#5a5a5a" stroke-width="1" />
<line x1="409.6" y1="163.6" x2="409.6" y2="165.6" stroke="#5a5a5a" stroke-width="1" />
<line x1="428.7" y1="163.6" x2="428.7" y2="165.6" stroke="#5a5a5a" stroke-width="1" />
<text x="279.9" y="307.8" font-family="'Liberation Serif', serif" font-size="9" font-weight="bold" text-anchor="middle" fill="#000" >-1</text>
<text x="322.1" y="307.8" font-family="'Liberation Serif', serif" font-size="9" font-weight="bold" text-anchor="middle" fill="#000" >1</text>
<text x="363.8" y="307.8" font-family="'Liberation Serif', serif" font-size="9" font-weight="bold" text-anchor="middle" fill="#000" >2</text>
<text x="406.1" y="307.8" font-family="'Liberation Serif', serif" font-size="9" font-weight="bold" text-anchor="middle" fill="#000" >3</text>
<text x="447.5" y="307.8" font-family="'Liberation Serif', serif" font-size="9" font-weight="bold" text-anchor="middle" fill="#000" >4</text>
<line x1="258.8" y1="282.4" x2="260.4" y2="282.4" stroke="#5a5a5a" stroke-width="1" />
<line x1="447" y1="282.4" x2="445.4" y2="282.4" stroke="#5a5a5a" stroke-width="1" />
<line x1="258.8" y1="269.2" x2="261.8" y2="269.2" stroke="#5a5a5a" stroke-width="1" />
<line x1="447" y1="269.2" x2="444" y2="269.2" stroke="#5a5a5a" stroke-width="1" />
<line x1="258.8" y1="256" x2="260.4" y2="256" stroke="#5a5a5a" stroke-width="1" />
<line x1="447" y1="256" x2="445.4" y2="256" stroke="#5a5a5a" stroke-width="1" />
<line x1="258.8" y1="242.8" x2="261.8" y2="242.8" stroke="#5a5a5a" stroke-width="1" />
<line x1="447" y1="242.8" x2="444" y2="242.8" stroke="#5a5a5a" stroke-width="1" />
<line x1="258.8" y1="229.6" x2="260.4" y2="229.6" stroke="#5a5a5a" stroke-width="1" />
<line x1="447" y1="229.6" x2="445.4" y2="229.6" stroke="#5a5a5a" stroke-width="1" />
<line x1="258.8" y1="216.4" x2="261.8" y2="216.4" stroke="#5a5a5a" stroke-width="1" />
<line x1="447" y1="216.4" x2="444" y2="216.4" stroke="#5a5a5a" stroke-width="1" />
<line x1="258.8" y1="203.2" x2="260.4" y2="203.2" stroke="#5a5a5a" stroke-width="1" />
<line x1="447" y1="203.2" x2="445.4" y2="203.2" stroke="#5a5a5a" stroke-width="1" />
<line x1="258.8" y1="190" x2="261.8" y2="190" stroke="#5a5a5a" stroke-width="1" />
<line x1="447" y1="190" x2="444" y2="190" stroke="#5a5a5a" stroke-width="1" />
<line x1="258.8" y1="176.8" x2="260.4" y2="176.8" stroke="#5a5a5a" stroke-width="1" />
<line x1="447" y1="176.8" x2="445.4" y2="176.8" stroke="#5a5a5a" stroke-width="1" />
<text x="255.5" y="298.2" font-family="'Liberation Sans', sans-serif" font-size="8.3" font-weight="bold" text-anchor="end" fill="#000" >300</text>
<text x="255.5" y="271.8" font-family="'Liberation Sans', sans-serif" font-size="8.3" font-weight="bold" text-anchor="end" fill="#000" >400</text>
<text x="255.5" y="245.4" font-family="'Liberation Sans', sans-serif" font-size="8.3" font-weight="bold" text-anchor="end" fill="#000" >500</text>
<text x="255.5" y="219" font-family="'Liberation Sans', sans-serif" font-size="8.3" font-weight="bold" text-anchor="end" fill="#000" >600</text>
<text x="255.5" y="192.6" font-family="'Liberation Sans', sans-serif" font-size="8.3" font-weight="bold" text-anchor="end" fill="#000" >700</text>
<text x="255.5" y="166.2" font-family="'Liberation Sans', sans-serif" font-size="8.3" font-weight="bold" text-anchor="end" fill="#000" >800</text>
<text transform="translate(231.2,231) rotate(-90)" x="0" y="0" font-family="'Liberation Serif', serif" font-size="8.85" font-weight="bold" text-anchor="middle" dominant-baseline="central" >Intensity of fluorescent (a.u.)</text>
<text x="314.8" y="317.2" font-family="'Liberation Serif', serif" font-size="8.6" font-weight="bold">Reaction Time</text>
<text x="374.4" y="316.4" font-family="'Liberation Serif', serif" font-size="8.4" fill="#333">(</text>
<text x="378.5" y="317.2" font-family="'Liberation Serif', serif" font-size="8.6" font-weight="bold">s</text>
<text x="383.8" y="316.4" font-family="'Liberation Serif', serif" font-size="8.4" fill="#333">)</text>
<text x="231" y="168.5" font-family="'Liberation Serif', serif" font-size="11.5" font-weight="bold" text-anchor="start" fill="#000" >e</text>
<line x1="300.2" y1="164" x2="300.2" y2="295.5" stroke="#222" stroke-width="0.9" stroke-dasharray="1.4,1.2"/>
<text x="274.4" y="181" font-family="'Liberation Serif', serif" font-size="11.6" stroke="#000" stroke-width="0.35">O<tspan font-size="8" dy="1.6" fill="#2a3448" stroke="#2a3448">2</tspan></text>
<line x1="278.2" y1="186.7" x2="291" y2="186.7" stroke="#e82020" stroke-width="1.2" />
<polygon points="297,186.7 290,189.2 290,184.2" fill="#e82020"/>
<g clip-path="url(#ce)">
<polyline points="259.5,240.5 263,240.9 267,242.3 271.2,239.4 275.3,243.1 279.4,240.5 283.5,240.5 287.7,240.9 292,242.3 296.1,240.9 300.1,242 304.4,239.4 308.4,243.1 312.5,240.5 316.8,240.5 321.1,240.5 325.3,242 329.5,243.9 333.8,243.6 338.3,236.7 342.4,242.3 346.1,233 350.4,233.4 354.5,243.2 358.8,237.1 362.9,240.1 367,241 371.2,242.7 375.5,238.9 379.6,243.2 383.7,240.4 387.9,240.4 392.2,240.4 396.5,242.3 400.8,240.8 404.9,242.3 409.1,239 413.2,243.2 417.5,240.4 422,240.1 426.2,240.4 430.5,241.9 434.6,243.2 438.7,243.8 442.4,236.3 445.7,236.3" fill="none" stroke="#e83030" stroke-width="0.8"/>
<circle cx="259.5" cy="240.5" r="1.75" fill="url(#gdr)"/>
<circle cx="263" cy="240.9" r="1.75" fill="url(#gdr)"/>
<circle cx="267" cy="242.3" r="1.75" fill="url(#gdr)"/>
<circle cx="271.2" cy="239.4" r="1.75" fill="url(#gdr)"/>
<circle cx="275.3" cy="243.1" r="1.75" fill="url(#gdr)"/>
<circle cx="279.4" cy="240.5" r="1.75" fill="url(#gdr)"/>
<circle cx="283.5" cy="240.5" r="1.75" fill="url(#gdr)"/>
<circle cx="287.7" cy="240.9" r="1.75" fill="url(#gdr)"/>
<circle cx="292" cy="242.3" r="1.75" fill="url(#gdr)"/>
<circle cx="296.1" cy="240.9" r="1.75" fill="url(#gdr)"/>
<circle cx="300.1" cy="242" r="1.75" fill="url(#gdr)"/>
<circle cx="304.4" cy="239.4" r="1.75" fill="url(#gdr)"/>
<circle cx="308.4" cy="243.1" r="1.75" fill="url(#gdr)"/>
<circle cx="312.5" cy="240.5" r="1.75" fill="url(#gdr)"/>
<circle cx="316.8" cy="240.5" r="1.75" fill="url(#gdr)"/>
<circle cx="321.1" cy="240.5" r="1.75" fill="url(#gdr)"/>
<circle cx="325.3" cy="242" r="1.75" fill="url(#gdr)"/>
<circle cx="329.5" cy="243.9" r="1.75" fill="url(#gdr)"/>
<circle cx="333.8" cy="243.6" r="1.75" fill="url(#gdr)"/>
<circle cx="338.3" cy="236.7" r="1.75" fill="url(#gdr)"/>
<circle cx="342.4" cy="242.3" r="1.75" fill="url(#gdr)"/>
<circle cx="346.1" cy="233" r="1.75" fill="url(#gdr)"/>
<circle cx="350.4" cy="233.4" r="1.75" fill="url(#gdr)"/>
<circle cx="354.5" cy="243.2" r="1.75" fill="url(#gdr)"/>
<circle cx="358.8" cy="237.1" r="1.75" fill="url(#gdr)"/>
<circle cx="362.9" cy="240.1" r="1.75" fill="url(#gdr)"/>
<circle cx="367" cy="241" r="1.75" fill="url(#gdr)"/>
<circle cx="371.2" cy="242.7" r="1.75" fill="url(#gdr)"/>
<circle cx="375.5" cy="238.9" r="1.75" fill="url(#gdr)"/>
<circle cx="379.6" cy="243.2" r="1.75" fill="url(#gdr)"/>
<circle cx="383.7" cy="240.4" r="1.75" fill="url(#gdr)"/>
<circle cx="387.9" cy="240.4" r="1.75" fill="url(#gdr)"/>
<circle cx="392.2" cy="240.4" r="1.75" fill="url(#gdr)"/>
<circle cx="396.5" cy="242.3" r="1.75" fill="url(#gdr)"/>
<circle cx="400.8" cy="240.8" r="1.75" fill="url(#gdr)"/>
<circle cx="404.9" cy="242.3" r="1.75" fill="url(#gdr)"/>
<circle cx="409.1" cy="239" r="1.75" fill="url(#gdr)"/>
<circle cx="413.2" cy="243.2" r="1.75" fill="url(#gdr)"/>
<circle cx="417.5" cy="240.4" r="1.75" fill="url(#gdr)"/>
<circle cx="422" cy="240.1" r="1.75" fill="url(#gdr)"/>
<circle cx="426.2" cy="240.4" r="1.75" fill="url(#gdr)"/>
<circle cx="430.5" cy="241.9" r="1.75" fill="url(#gdr)"/>
<circle cx="434.6" cy="243.2" r="1.75" fill="url(#gdr)"/>
<circle cx="438.7" cy="243.8" r="1.75" fill="url(#gdr)"/>
<circle cx="442.4" cy="236.3" r="1.75" fill="url(#gdr)"/>
<circle cx="445.7" cy="236.3" r="1.75" fill="url(#gdr)"/>
<polyline points="259.5,267.1 263,265.5 267,269.6 271.2,269.1 275.3,267.1 279.4,269.6 283.5,270.6 287.7,271.4 292,272.2 296.1,272.7 300.1,270.2 304.4,269.6 308.4,268.3 312.5,266.8 316.8,268 321.1,269.1 325.3,269.6 329.5,270.6 333.8,271.4 338.3,272.4 342.4,269.2 346.1,269.2 350.4,269.8 354.5,270.2 358.8,270.5 362.9,272 367,273.5 371.2,273.9 375.5,272.9 379.6,269.2 383.7,267.9 387.9,267.4 392.2,265.5 396.5,269.8 400.8,268.7 404.9,267.4 409.1,269.2 413.2,270.5 417.5,271.1 422,272 426.2,272.9 430.5,269.8 434.6,269.2 438.7,268.3 442.9,267.4 445.7,269.2" fill="none" stroke="#2424e0" stroke-width="0.8"/>
<circle cx="259.5" cy="267.1" r="1.75" fill="url(#gdb)"/>
<circle cx="263" cy="265.5" r="1.75" fill="url(#gdb)"/>
<circle cx="267" cy="269.6" r="1.75" fill="url(#gdb)"/>
<circle cx="271.2" cy="269.1" r="1.75" fill="url(#gdb)"/>
<circle cx="275.3" cy="267.1" r="1.75" fill="url(#gdb)"/>
<circle cx="279.4" cy="269.6" r="1.75" fill="url(#gdb)"/>
<circle cx="283.5" cy="270.6" r="1.75" fill="url(#gdb)"/>
<circle cx="287.7" cy="271.4" r="1.75" fill="url(#gdb)"/>
<circle cx="292" cy="272.2" r="1.75" fill="url(#gdb)"/>
<circle cx="296.1" cy="272.7" r="1.75" fill="url(#gdb)"/>
<circle cx="300.1" cy="270.2" r="1.75" fill="url(#gdb)"/>
<circle cx="304.4" cy="269.6" r="1.75" fill="url(#gdb)"/>
<circle cx="308.4" cy="268.3" r="1.75" fill="url(#gdb)"/>
<circle cx="312.5" cy="266.8" r="1.75" fill="url(#gdb)"/>
<circle cx="316.8" cy="268" r="1.75" fill="url(#gdb)"/>
<circle cx="321.1" cy="269.1" r="1.75" fill="url(#gdb)"/>
<circle cx="325.3" cy="269.6" r="1.75" fill="url(#gdb)"/>
<circle cx="329.5" cy="270.6" r="1.75" fill="url(#gdb)"/>
<circle cx="333.8" cy="271.4" r="1.75" fill="url(#gdb)"/>
<circle cx="338.3" cy="272.4" r="1.75" fill="url(#gdb)"/>
<circle cx="342.4" cy="269.2" r="1.75" fill="url(#gdb)"/>
<circle cx="346.1" cy="269.2" r="1.75" fill="url(#gdb)"/>
<circle cx="350.4" cy="269.8" r="1.75" fill="url(#gdb)"/>
<circle cx="354.5" cy="270.2" r="1.75" fill="url(#gdb)"/>
<circle cx="358.8" cy="270.5" r="1.75" fill="url(#gdb)"/>
<circle cx="362.9" cy="272" r="1.75" fill="url(#gdb)"/>
<circle cx="367" cy="273.5" r="1.75" fill="url(#gdb)"/>
<circle cx="371.2" cy="273.9" r="1.75" fill="url(#gdb)"/>
<circle cx="375.5" cy="272.9" r="1.75" fill="url(#gdb)"/>
<circle cx="379.6" cy="269.2" r="1.75" fill="url(#gdb)"/>
<circle cx="383.7" cy="267.9" r="1.75" fill="url(#gdb)"/>
<circle cx="387.9" cy="267.4" r="1.75" fill="url(#gdb)"/>
<circle cx="392.2" cy="265.5" r="1.75" fill="url(#gdb)"/>
<circle cx="396.5" cy="269.8" r="1.75" fill="url(#gdb)"/>
<circle cx="400.8" cy="268.7" r="1.75" fill="url(#gdb)"/>
<circle cx="404.9" cy="267.4" r="1.75" fill="url(#gdb)"/>
<circle cx="409.1" cy="269.2" r="1.75" fill="url(#gdb)"/>
<circle cx="413.2" cy="270.5" r="1.75" fill="url(#gdb)"/>
<circle cx="417.5" cy="271.1" r="1.75" fill="url(#gdb)"/>
<circle cx="422" cy="272" r="1.75" fill="url(#gdb)"/>
<circle cx="426.2" cy="272.9" r="1.75" fill="url(#gdb)"/>
<circle cx="430.5" cy="269.8" r="1.75" fill="url(#gdb)"/>
<circle cx="434.6" cy="269.2" r="1.75" fill="url(#gdb)"/>
<circle cx="438.7" cy="268.3" r="1.75" fill="url(#gdb)"/>
<circle cx="442.9" cy="267.4" r="1.75" fill="url(#gdb)"/>
<circle cx="445.7" cy="269.2" r="1.75" fill="url(#gdb)"/>
</g>
<line x1="301.5" y1="231.5" x2="330.8" y2="231.5" stroke="#111" stroke-width="0.9" stroke-dasharray="1.3,1.1"/>
<polygon points="334,231.5 330,233.5 330,229.5" fill="#111"/>
<line x1="393.2" y1="168.9" x2="408.1" y2="168.9" stroke="#3c3cf0" stroke-width="1" />
<circle cx="400.9" cy="168.9" r="1.8" fill="url(#gdb)"/>
<line x1="393.2" y1="178.5" x2="408.1" y2="178.5" stroke="#f07070" stroke-width="1" />
<circle cx="400.9" cy="178.5" r="1.8" fill="url(#gdr)"/>
<text x="412" y="172" font-family="'Liberation Serif', serif" font-size="6.6" font-weight="bold" text-anchor="start" fill="#000" >632.2nm</text>
<text x="412" y="181.7" font-family="'Liberation Serif', serif" font-size="6.6" font-weight="bold" text-anchor="start" fill="#000" >672.1nm</text>
<rect x="480.8" y="4.3" width="187.9" height="135.3" fill="none" stroke="#5a5a5a" stroke-width="1.1"/>
<line x1="492.5" y1="139.6" x2="492.5" y2="138" stroke="#5a5a5a" stroke-width="1" />
<line x1="504.3" y1="139.6" x2="504.3" y2="136.6" stroke="#5a5a5a" stroke-width="1" />
<line x1="516" y1="139.6" x2="516" y2="138" stroke="#5a5a5a" stroke-width="1" />
<line x1="527.8" y1="139.6" x2="527.8" y2="136.6" stroke="#5a5a5a" stroke-width="1" />
<line x1="539.5" y1="139.6" x2="539.5" y2="138" stroke="#5a5a5a" stroke-width="1" />
<line x1="551.3" y1="139.6" x2="551.3" y2="136.6" stroke="#5a5a5a" stroke-width="1" />
<line x1="563" y1="139.6" x2="563" y2="138" stroke="#5a5a5a" stroke-width="1" />
<line x1="574.8" y1="139.6" x2="574.8" y2="136.6" stroke="#5a5a5a" stroke-width="1" />
<line x1="586.5" y1="139.6" x2="586.5" y2="138" stroke="#5a5a5a" stroke-width="1" />
<line x1="598.2" y1="139.6" x2="598.2" y2="136.6" stroke="#5a5a5a" stroke-width="1" />
<line x1="610" y1="139.6" x2="610" y2="138" stroke="#5a5a5a" stroke-width="1" />
<line x1="621.7" y1="139.6" x2="621.7" y2="136.6" stroke="#5a5a5a" stroke-width="1" />
<line x1="633.5" y1="139.6" x2="633.5" y2="138" stroke="#5a5a5a" stroke-width="1" />
<line x1="645.2" y1="139.6" x2="645.2" y2="136.6" stroke="#5a5a5a" stroke-width="1" />
<line x1="657" y1="139.6" x2="657" y2="138" stroke="#5a5a5a" stroke-width="1" />
<line x1="499.9" y1="4.3" x2="499.9" y2="6.3" stroke="#5a5a5a" stroke-width="1" />
<line x1="518.3" y1="4.3" x2="518.3" y2="6.3" stroke="#5a5a5a" stroke-width="1" />
<line x1="537.3" y1="4.3" x2="537.3" y2="6.3" stroke="#5a5a5a" stroke-width="1" />
<line x1="555.8" y1="4.3" x2="555.8" y2="6.3" stroke="#5a5a5a" stroke-width="1" />
<line x1="575" y1="4.3" x2="575" y2="6.3" stroke="#5a5a5a" stroke-width="1" />
<line x1="594" y1="4.3" x2="594" y2="6.3" stroke="#5a5a5a" stroke-width="1" />
<line x1="613" y1="4.3" x2="613" y2="6.3" stroke="#5a5a5a" stroke-width="1" />
<line x1="632" y1="4.3" x2="632" y2="6.3" stroke="#5a5a5a" stroke-width="1" />
<line x1="651" y1="4.3" x2="651" y2="6.3" stroke="#5a5a5a" stroke-width="1" />
<line x1="480.8" y1="125.1" x2="483.8" y2="125.1" stroke="#5a5a5a" stroke-width="1" />
<line x1="668.7" y1="125.1" x2="665.7" y2="125.1" stroke="#5a5a5a" stroke-width="1" />
<line x1="480.8" y1="110" x2="482.4" y2="110" stroke="#5a5a5a" stroke-width="1" />
<line x1="668.7" y1="110" x2="667.1" y2="110" stroke="#5a5a5a" stroke-width="1" />
<line x1="480.8" y1="94.8" x2="483.8" y2="94.8" stroke="#5a5a5a" stroke-width="1" />
<line x1="668.7" y1="94.8" x2="665.7" y2="94.8" stroke="#5a5a5a" stroke-width="1" />
<line x1="480.8" y1="79.7" x2="482.4" y2="79.7" stroke="#5a5a5a" stroke-width="1" />
<line x1="668.7" y1="79.7" x2="667.1" y2="79.7" stroke="#5a5a5a" stroke-width="1" />
<line x1="480.8" y1="64.6" x2="483.8" y2="64.6" stroke="#5a5a5a" stroke-width="1" />
<line x1="668.7" y1="64.6" x2="665.7" y2="64.6" stroke="#5a5a5a" stroke-width="1" />
<line x1="480.8" y1="49.5" x2="482.4" y2="49.5" stroke="#5a5a5a" stroke-width="1" />
<line x1="668.7" y1="49.5" x2="667.1" y2="49.5" stroke="#5a5a5a" stroke-width="1" />
<line x1="480.8" y1="34.3" x2="483.8" y2="34.3" stroke="#5a5a5a" stroke-width="1" />
<line x1="668.7" y1="34.3" x2="665.7" y2="34.3" stroke="#5a5a5a" stroke-width="1" />
<line x1="480.8" y1="19.2" x2="482.4" y2="19.2" stroke="#5a5a5a" stroke-width="1" />
<line x1="668.7" y1="19.2" x2="667.1" y2="19.2" stroke="#5a5a5a" stroke-width="1" />
<text x="480.8" y="149.2" font-family="'Liberation Sans', sans-serif" font-size="8.2" font-weight="bold" text-anchor="middle" fill="#000" >0</text>
<text x="504.3" y="149.2" font-family="'Liberation Sans', sans-serif" font-size="8.2" font-weight="bold" text-anchor="middle" fill="#000" >5</text>
<text x="527.8" y="149.2" font-family="'Liberation Sans', sans-serif" font-size="8.2" font-weight="bold" text-anchor="middle" fill="#000" >10</text>
<text x="551.3" y="149.2" font-family="'Liberation Sans', sans-serif" font-size="8.2" font-weight="bold" text-anchor="middle" fill="#000" >15</text>
<text x="574.8" y="149.2" font-family="'Liberation Sans', sans-serif" font-size="8.2" font-weight="bold" text-anchor="middle" fill="#000" >20</text>
<text x="598.2" y="149.2" font-family="'Liberation Sans', sans-serif" font-size="8.2" font-weight="bold" text-anchor="middle" fill="#000" >25</text>
<text x="621.7" y="149.2" font-family="'Liberation Sans', sans-serif" font-size="8.2" font-weight="bold" text-anchor="middle" fill="#000" >30</text>
<text x="645.2" y="149.2" font-family="'Liberation Sans', sans-serif" font-size="8.2" font-weight="bold" text-anchor="middle" fill="#000" >35</text>
<text x="668.7" y="149.2" font-family="'Liberation Sans', sans-serif" font-size="8.2" font-weight="bold" text-anchor="middle" fill="#000" >40</text>
<text x="477.3" y="127.8" font-family="'Liberation Sans', sans-serif" font-size="8.3" font-weight="bold" text-anchor="end" fill="#000" >200</text>
<text x="477.3" y="97.5" font-family="'Liberation Sans', sans-serif" font-size="8.3" font-weight="bold" text-anchor="end" fill="#000" >400</text>
<text x="477.3" y="67.3" font-family="'Liberation Sans', sans-serif" font-size="8.3" font-weight="bold" text-anchor="end" fill="#000" >600</text>
<text x="477.3" y="37" font-family="'Liberation Sans', sans-serif" font-size="8.3" font-weight="bold" text-anchor="end" fill="#000" >800</text>
<text x="477.3" y="6.8" font-family="'Liberation Sans', sans-serif" font-size="8.3" font-weight="bold" text-anchor="end" fill="#000" >1000</text>
<text transform="translate(454.5,77.7) rotate(-90)" x="0" y="0" font-family="'Liberation Serif', serif" font-size="8.2" font-weight="bold" text-anchor="middle" dominant-baseline="central" >Intensity of fluorescent (a.u.)</text>
<text x="575" y="159.9" font-family="'Liberation Serif', serif" font-size="8.1" font-weight="bold" text-anchor="middle" fill="#000" >Reaction Time (s)</text>
<text x="451" y="9.8" font-family="'Liberation Serif', serif" font-size="11.5" font-weight="bold" text-anchor="start" fill="#000" >c</text>
<text x="528.3" y="16" font-family="'Liberation Serif', serif" font-size="6.7" font-weight="bold">Normal Hemoglobin+O<tspan font-size="4.2" dy="1.4">2</tspan></text>
<g clip-path="url(#cc)">
<line x1="480.8" y1="54.6" x2="480.8" y2="61" stroke="#9090f0" stroke-width="0.7" />
<line x1="479.7" y1="54.6" x2="481.9" y2="54.6" stroke="#9090f0" stroke-width="0.7" />
<line x1="479.7" y1="61" x2="481.9" y2="61" stroke="#9090f0" stroke-width="0.7" />
<line x1="485.5" y1="55.1" x2="485.5" y2="61.5" stroke="#9090f0" stroke-width="0.7" />
<line x1="484.4" y1="55.1" x2="486.6" y2="55.1" stroke="#9090f0" stroke-width="0.7" />
<line x1="484.4" y1="61.5" x2="486.6" y2="61.5" stroke="#9090f0" stroke-width="0.7" />
<line x1="490.2" y1="55.2" x2="490.2" y2="61.6" stroke="#9090f0" stroke-width="0.7" />
<line x1="489.1" y1="55.2" x2="491.3" y2="55.2" stroke="#9090f0" stroke-width="0.7" />
<line x1="489.1" y1="61.6" x2="491.3" y2="61.6" stroke="#9090f0" stroke-width="0.7" />
<line x1="494.9" y1="55.4" x2="494.9" y2="61.8" stroke="#9090f0" stroke-width="0.7" />
<line x1="493.8" y1="55.4" x2="496" y2="55.4" stroke="#9090f0" stroke-width="0.7" />
<line x1="493.8" y1="61.8" x2="496" y2="61.8" stroke="#9090f0" stroke-width="0.7" />
<line x1="499.6" y1="55.1" x2="499.6" y2="61.5" stroke="#9090f0" stroke-width="0.7" />
<line x1="498.5" y1="55.1" x2="500.7" y2="55.1" stroke="#9090f0" stroke-width="0.7" />
<line x1="498.5" y1="61.5" x2="500.7" y2="61.5" stroke="#9090f0" stroke-width="0.7" />
<line x1="504.3" y1="55.2" x2="504.3" y2="61.6" stroke="#9090f0" stroke-width="0.7" />
<line x1="503.2" y1="55.2" x2="505.4" y2="55.2" stroke="#9090f0" stroke-width="0.7" />
<line x1="503.2" y1="61.6" x2="505.4" y2="61.6" stroke="#9090f0" stroke-width="0.7" />
<line x1="509" y1="55.2" x2="509" y2="61.6" stroke="#9090f0" stroke-width="0.7" />
<line x1="507.9" y1="55.2" x2="510.1" y2="55.2" stroke="#9090f0" stroke-width="0.7" />
<line x1="507.9" y1="61.6" x2="510.1" y2="61.6" stroke="#9090f0" stroke-width="0.7" />
<line x1="513.7" y1="55.6" x2="513.7" y2="62" stroke="#9090f0" stroke-width="0.7" />
<line x1="512.6" y1="55.6" x2="514.8" y2="55.6" stroke="#9090f0" stroke-width="0.7" />
<line x1="512.6" y1="62" x2="514.8" y2="62" stroke="#9090f0" stroke-width="0.7" />
<line x1="518.4" y1="55" x2="518.4" y2="61.4" stroke="#9090f0" stroke-width="0.7" />
<line x1="517.3" y1="55" x2="519.5" y2="55" stroke="#9090f0" stroke-width="0.7" />
<line x1="517.3" y1="61.4" x2="519.5" y2="61.4" stroke="#9090f0" stroke-width="0.7" />
<line x1="523.1" y1="54.1" x2="523.1" y2="60.5" stroke="#9090f0" stroke-width="0.7" />
<line x1="522" y1="54.1" x2="524.2" y2="54.1" stroke="#9090f0" stroke-width="0.7" />
<line x1="522" y1="60.5" x2="524.2" y2="60.5" stroke="#9090f0" stroke-width="0.7" />
<line x1="527.8" y1="51.9" x2="527.8" y2="58.3" stroke="#9090f0" stroke-width="0.7" />
<line x1="526.7" y1="51.9" x2="528.9" y2="51.9" stroke="#9090f0" stroke-width="0.7" />
<line x1="526.7" y1="58.3" x2="528.9" y2="58.3" stroke="#9090f0" stroke-width="0.7" />
<line x1="532.5" y1="48.2" x2="532.5" y2="54.6" stroke="#9090f0" stroke-width="0.7" />
<line x1="531.4" y1="48.2" x2="533.6" y2="48.2" stroke="#9090f0" stroke-width="0.7" />
<line x1="531.4" y1="54.6" x2="533.6" y2="54.6" stroke="#9090f0" stroke-width="0.7" />
<line x1="537.2" y1="47.5" x2="537.2" y2="53.9" stroke="#9090f0" stroke-width="0.7" />
<line x1="536.1" y1="47.5" x2="538.3" y2="47.5" stroke="#9090f0" stroke-width="0.7" />
<line x1="536.1" y1="53.9" x2="538.3" y2="53.9" stroke="#9090f0" stroke-width="0.7" />
<line x1="541.9" y1="43.2" x2="541.9" y2="49.6" stroke="#9090f0" stroke-width="0.7" />
<line x1="540.8" y1="43.2" x2="543" y2="43.2" stroke="#9090f0" stroke-width="0.7" />
<line x1="540.8" y1="49.6" x2="543" y2="49.6" stroke="#9090f0" stroke-width="0.7" />
<line x1="546.6" y1="39.4" x2="546.6" y2="45.8" stroke="#9090f0" stroke-width="0.7" />
<line x1="545.5" y1="39.4" x2="547.7" y2="39.4" stroke="#9090f0" stroke-width="0.7" />
<line x1="545.5" y1="45.8" x2="547.7" y2="45.8" stroke="#9090f0" stroke-width="0.7" />
<line x1="551.3" y1="36.6" x2="551.3" y2="43" stroke="#9090f0" stroke-width="0.7" />
<line x1="550.2" y1="36.6" x2="552.4" y2="36.6" stroke="#9090f0" stroke-width="0.7" />
<line x1="550.2" y1="43" x2="552.4" y2="43" stroke="#9090f0" stroke-width="0.7" />
<line x1="556" y1="36.3" x2="556" y2="42.3" stroke="#9090f0" stroke-width="0.7" />
<line x1="554.9" y1="36.3" x2="557.1" y2="36.3" stroke="#9090f0" stroke-width="0.7" />
<line x1="554.9" y1="42.3" x2="557.1" y2="42.3" stroke="#9090f0" stroke-width="0.7" />
<line x1="560.7" y1="36.2" x2="560.7" y2="42.2" stroke="#9090f0" stroke-width="0.7" />
<line x1="559.6" y1="36.2" x2="561.8" y2="36.2" stroke="#9090f0" stroke-width="0.7" />
<line x1="559.6" y1="42.2" x2="561.8" y2="42.2" stroke="#9090f0" stroke-width="0.7" />
<line x1="565.4" y1="36.8" x2="565.4" y2="42.8" stroke="#9090f0" stroke-width="0.7" />
<line x1="564.3" y1="36.8" x2="566.5" y2="36.8" stroke="#9090f0" stroke-width="0.7" />
<line x1="564.3" y1="42.8" x2="566.5" y2="42.8" stroke="#9090f0" stroke-width="0.7" />
<line x1="570.1" y1="36.4" x2="570.1" y2="42.4" stroke="#9090f0" stroke-width="0.7" />
<line x1="569" y1="36.4" x2="571.2" y2="36.4" stroke="#9090f0" stroke-width="0.7" />
<line x1="569" y1="42.4" x2="571.2" y2="42.4" stroke="#9090f0" stroke-width="0.7" />
<line x1="574.8" y1="36.3" x2="574.8" y2="42.3" stroke="#9090f0" stroke-width="0.7" />
<line x1="573.6" y1="36.3" x2="575.9" y2="36.3" stroke="#9090f0" stroke-width="0.7" />
<line x1="573.6" y1="42.3" x2="575.9" y2="42.3" stroke="#9090f0" stroke-width="0.7" />
<line x1="579.4" y1="36.4" x2="579.4" y2="42.4" stroke="#9090f0" stroke-width="0.7" />
<line x1="578.3" y1="36.4" x2="580.5" y2="36.4" stroke="#9090f0" stroke-width="0.7" />
<line x1="578.3" y1="42.4" x2="580.5" y2="42.4" stroke="#9090f0" stroke-width="0.7" />
<line x1="584.1" y1="36.4" x2="584.1" y2="42.4" stroke="#9090f0" stroke-width="0.7" />
<line x1="583" y1="36.4" x2="585.2" y2="36.4" stroke="#9090f0" stroke-width="0.7" />
<line x1="583" y1="42.4" x2="585.2" y2="42.4" stroke="#9090f0" stroke-width="0.7" />
<line x1="588.8" y1="36.8" x2="588.8" y2="42.8" stroke="#9090f0" stroke-width="0.7" />
<line x1="587.7" y1="36.8" x2="589.9" y2="36.8" stroke="#9090f0" stroke-width="0.7" />
<line x1="587.7" y1="42.8" x2="589.9" y2="42.8" stroke="#9090f0" stroke-width="0.7" />
<line x1="593.5" y1="36.3" x2="593.5" y2="42.3" stroke="#9090f0" stroke-width="0.7" />
<line x1="592.4" y1="36.3" x2="594.6" y2="36.3" stroke="#9090f0" stroke-width="0.7" />
<line x1="592.4" y1="42.3" x2="594.6" y2="42.3" stroke="#9090f0" stroke-width="0.7" />
<line x1="598.2" y1="36.3" x2="598.2" y2="42.3" stroke="#9090f0" stroke-width="0.7" />
<line x1="597.1" y1="36.3" x2="599.3" y2="36.3" stroke="#9090f0" stroke-width="0.7" />
<line x1="597.1" y1="42.3" x2="599.3" y2="42.3" stroke="#9090f0" stroke-width="0.7" />
<line x1="602.9" y1="36.6" x2="602.9" y2="42.6" stroke="#9090f0" stroke-width="0.7" />
<line x1="601.8" y1="36.6" x2="604" y2="36.6" stroke="#9090f0" stroke-width="0.7" />
<line x1="601.8" y1="42.6" x2="604" y2="42.6" stroke="#9090f0" stroke-width="0.7" />
<line x1="607.6" y1="36.5" x2="607.6" y2="42.5" stroke="#9090f0" stroke-width="0.7" />
<line x1="606.5" y1="36.5" x2="608.7" y2="36.5" stroke="#9090f0" stroke-width="0.7" />
<line x1="606.5" y1="42.5" x2="608.7" y2="42.5" stroke="#9090f0" stroke-width="0.7" />
<line x1="612.3" y1="36.8" x2="612.3" y2="42.8" stroke="#9090f0" stroke-width="0.7" />
<line x1="611.2" y1="36.8" x2="613.4" y2="36.8" stroke="#9090f0" stroke-width="0.7" />
<line x1="611.2" y1="42.8" x2="613.4" y2="42.8" stroke="#9090f0" stroke-width="0.7" />
<line x1="617" y1="36.7" x2="617" y2="42.7" stroke="#9090f0" stroke-width="0.7" />
<line x1="615.9" y1="36.7" x2="618.1" y2="36.7" stroke="#9090f0" stroke-width="0.7" />
<line x1="615.9" y1="42.7" x2="618.1" y2="42.7" stroke="#9090f0" stroke-width="0.7" />
<line x1="621.7" y1="36.4" x2="621.7" y2="42.4" stroke="#9090f0" stroke-width="0.7" />
<line x1="620.6" y1="36.4" x2="622.8" y2="36.4" stroke="#9090f0" stroke-width="0.7" />
<line x1="620.6" y1="42.4" x2="622.8" y2="42.4" stroke="#9090f0" stroke-width="0.7" />
<line x1="626.4" y1="36.3" x2="626.4" y2="42.3" stroke="#9090f0" stroke-width="0.7" />
<line x1="625.3" y1="36.3" x2="627.5" y2="36.3" stroke="#9090f0" stroke-width="0.7" />
<line x1="625.3" y1="42.3" x2="627.5" y2="42.3" stroke="#9090f0" stroke-width="0.7" />
<line x1="631.1" y1="36.7" x2="631.1" y2="42.7" stroke="#9090f0" stroke-width="0.7" />
<line x1="630" y1="36.7" x2="632.2" y2="36.7" stroke="#9090f0" stroke-width="0.7" />
<line x1="630" y1="42.7" x2="632.2" y2="42.7" stroke="#9090f0" stroke-width="0.7" />
<line x1="635.8" y1="36.8" x2="635.8" y2="42.8" stroke="#9090f0" stroke-width="0.7" />
<line x1="634.7" y1="36.8" x2="636.9" y2="36.8" stroke="#9090f0" stroke-width="0.7" />
<line x1="634.7" y1="42.8" x2="636.9" y2="42.8" stroke="#9090f0" stroke-width="0.7" />
<line x1="640.5" y1="36.2" x2="640.5" y2="42.2" stroke="#9090f0" stroke-width="0.7" />
<line x1="639.4" y1="36.2" x2="641.6" y2="36.2" stroke="#9090f0" stroke-width="0.7" />
<line x1="639.4" y1="42.2" x2="641.6" y2="42.2" stroke="#9090f0" stroke-width="0.7" />
<line x1="645.2" y1="36.6" x2="645.2" y2="42.6" stroke="#9090f0" stroke-width="0.7" />
<line x1="644.1" y1="36.6" x2="646.3" y2="36.6" stroke="#9090f0" stroke-width="0.7" />
<line x1="644.1" y1="42.6" x2="646.3" y2="42.6" stroke="#9090f0" stroke-width="0.7" />
<polyline points="480.8,57.8 485.5,58.3 490.2,58.4 494.9,58.6 499.6,58.3 504.3,58.4 509,58.4 513.7,58.8 518.4,58.2 523.1,57.3 527.8,55.1 532.5,51.4 537.2,50.7 541.9,46.4 546.6,42.6 551.3,39.8 556,39.3 560.7,39.2 565.4,39.8 570.1,39.4 574.8,39.3 579.4,39.4 584.1,39.4 588.8,39.8 593.5,39.3 598.2,39.3 602.9,39.6 607.6,39.5 612.3,39.8 617,39.7 621.7,39.4 626.4,39.3 631.1,39.7 635.8,39.8 640.5,39.2 645.2,39.6" fill="none" stroke="#3030e8" stroke-width="0.8"/>
<circle cx="480.8" cy="57.8" r="1.75" fill="url(#gmb)"/>
<circle cx="485.5" cy="58.3" r="1.75" fill="url(#gmb)"/>
<circle cx="490.2" cy="58.4" r="1.75" fill="url(#gmb)"/>
<circle cx="494.9" cy="58.6" r="1.75" fill="url(#gmb)"/>
<circle cx="499.6" cy="58.3" r="1.75" fill="url(#gmb)"/>
<circle cx="504.3" cy="58.4" r="1.75" fill="url(#gmb)"/>
<circle cx="509" cy="58.4" r="1.75" fill="url(#gmb)"/>
<circle cx="513.7" cy="58.8" r="1.75" fill="url(#gmb)"/>
<circle cx="518.4" cy="58.2" r="1.75" fill="url(#gmb)"/>
<circle cx="523.1" cy="57.3" r="1.75" fill="url(#gmb)"/>
<circle cx="527.8" cy="55.1" r="1.75" fill="url(#gmb)"/>
<circle cx="532.5" cy="51.4" r="1.75" fill="url(#gmb)"/>
<circle cx="537.2" cy="50.7" r="1.75" fill="url(#gmb)"/>
<circle cx="541.9" cy="46.4" r="1.75" fill="url(#gmb)"/>
<circle cx="546.6" cy="42.6" r="1.75" fill="url(#gmb)"/>
<circle cx="551.3" cy="39.8" r="1.75" fill="url(#gmb)"/>
<circle cx="556" cy="39.3" r="1.75" fill="url(#gmb)"/>
<circle cx="560.7" cy="39.2" r="1.75" fill="url(#gmb)"/>
<circle cx="565.4" cy="39.8" r="1.75" fill="url(#gmb)"/>
<circle cx="570.1" cy="39.4" r="1.75" fill="url(#gmb)"/>
<circle cx="574.8" cy="39.3" r="1.75" fill="url(#gmb)"/>
<circle cx="579.4" cy="39.4" r="1.75" fill="url(#gmb)"/>
<circle cx="584.1" cy="39.4" r="1.75" fill="url(#gmb)"/>
<circle cx="588.8" cy="39.8" r="1.75" fill="url(#gmb)"/>
<circle cx="593.5" cy="39.3" r="1.75" fill="url(#gmb)"/>
<circle cx="598.2" cy="39.3" r="1.75" fill="url(#gmb)"/>
<circle cx="602.9" cy="39.6" r="1.75" fill="url(#gmb)"/>
<circle cx="607.6" cy="39.5" r="1.75" fill="url(#gmb)"/>
<circle cx="612.3" cy="39.8" r="1.75" fill="url(#gmb)"/>
<circle cx="617" cy="39.7" r="1.75" fill="url(#gmb)"/>
<circle cx="621.7" cy="39.4" r="1.75" fill="url(#gmb)"/>
<circle cx="626.4" cy="39.3" r="1.75" fill="url(#gmb)"/>
<circle cx="631.1" cy="39.7" r="1.75" fill="url(#gmb)"/>
<circle cx="635.8" cy="39.8" r="1.75" fill="url(#gmb)"/>
<circle cx="640.5" cy="39.2" r="1.75" fill="url(#gmb)"/>
<circle cx="645.2" cy="39.6" r="1.75" fill="url(#gmb)"/>
<line x1="480.8" y1="109.7" x2="480.8" y2="114.9" stroke="#f08080" stroke-width="0.7" />
<line x1="479.7" y1="109.7" x2="481.9" y2="109.7" stroke="#f08080" stroke-width="0.7" />
<line x1="479.7" y1="114.9" x2="481.9" y2="114.9" stroke="#f08080" stroke-width="0.7" />
<line x1="485.5" y1="109.6" x2="485.5" y2="114.8" stroke="#f08080" stroke-width="0.7" />
<line x1="484.4" y1="109.6" x2="486.6" y2="109.6" stroke="#f08080" stroke-width="0.7" />
<line x1="484.4" y1="114.8" x2="486.6" y2="114.8" stroke="#f08080" stroke-width="0.7" />
<line x1="490.2" y1="109.3" x2="490.2" y2="114.5" stroke="#f08080" stroke-width="0.7" />
<line x1="489.1" y1="109.3" x2="491.3" y2="109.3" stroke="#f08080" stroke-width="0.7" />
<line x1="489.1" y1="114.5" x2="491.3" y2="114.5" stroke="#f08080" stroke-width="0.7" />
<line x1="494.9" y1="111.1" x2="494.9" y2="114.1" stroke="#f08080" stroke-width="0.7" />
<line x1="493.8" y1="111.1" x2="496" y2="111.1" stroke="#f08080" stroke-width="0.7" />
<line x1="493.8" y1="114.1" x2="496" y2="114.1" stroke="#f08080" stroke-width="0.7" />
<line x1="499.6" y1="111.7" x2="499.6" y2="114.7" stroke="#f08080" stroke-width="0.7" />
<line x1="498.5" y1="111.7" x2="500.7" y2="111.7" stroke="#f08080" stroke-width="0.7" />
<line x1="498.5" y1="114.7" x2="500.7" y2="114.7" stroke="#f08080" stroke-width="0.7" />
<line x1="504.3" y1="111.6" x2="504.3" y2="114.6" stroke="#f08080" stroke-width="0.7" />
<line x1="503.2" y1="111.6" x2="505.4" y2="111.6" stroke="#f08080" stroke-width="0.7" />
<line x1="503.2" y1="114.6" x2="505.4" y2="114.6" stroke="#f08080" stroke-width="0.7" />
<line x1="509" y1="111.7" x2="509" y2="114.7" stroke="#f08080" stroke-width="0.7" />
<line x1="507.9" y1="111.7" x2="510.1" y2="111.7" stroke="#f08080" stroke-width="0.7" />
<line x1="507.9" y1="114.7" x2="510.1" y2="114.7" stroke="#f08080" stroke-width="0.7" />
<line x1="513.7" y1="110.9" x2="513.7" y2="113.9" stroke="#f08080" stroke-width="0.7" />
<line x1="512.6" y1="110.9" x2="514.8" y2="110.9" stroke="#f08080" stroke-width="0.7" />
<line x1="512.6" y1="113.9" x2="514.8" y2="113.9" stroke="#f08080" stroke-width="0.7" />
<line x1="518.4" y1="110.7" x2="518.4" y2="113.7" stroke="#f08080" stroke-width="0.7" />
<line x1="517.3" y1="110.7" x2="519.5" y2="110.7" stroke="#f08080" stroke-width="0.7" />
<line x1="517.3" y1="113.7" x2="519.5" y2="113.7" stroke="#f08080" stroke-width="0.7" />
<line x1="523.1" y1="111" x2="523.1" y2="114" stroke="#f08080" stroke-width="0.7" />
<line x1="522" y1="111" x2="524.2" y2="111" stroke="#f08080" stroke-width="0.7" />
<line x1="522" y1="114" x2="524.2" y2="114" stroke="#f08080" stroke-width="0.7" />
<line x1="527.8" y1="111.2" x2="527.8" y2="114.2" stroke="#f08080" stroke-width="0.7" />
<line x1="526.7" y1="111.2" x2="528.9" y2="111.2" stroke="#f08080" stroke-width="0.7" />
<line x1="526.7" y1="114.2" x2="528.9" y2="114.2" stroke="#f08080" stroke-width="0.7" />
<line x1="532.5" y1="111.2" x2="532.5" y2="114.2" stroke="#f08080" stroke-width="0.7" />
<line x1="531.4" y1="111.2" x2="533.6" y2="111.2" stroke="#f08080" stroke-width="0.7" />
<line x1="531.4" y1="114.2" x2="533.6" y2="114.2" stroke="#f08080" stroke-width="0.7" />
<line x1="537.2" y1="111.3" x2="537.2" y2="114.3" stroke="#f08080" stroke-width="0.7" />
<line x1="536.1" y1="111.3" x2="538.3" y2="111.3" stroke="#f08080" stroke-width="0.7" />
<line x1="536.1" y1="114.3" x2="538.3" y2="114.3" stroke="#f08080" stroke-width="0.7" />
<line x1="541.9" y1="111.3" x2="541.9" y2="114.3" stroke="#f08080" stroke-width="0.7" />
<line x1="540.8" y1="111.3" x2="543" y2="111.3" stroke="#f08080" stroke-width="0.7" />
<line x1="540.8" y1="114.3" x2="543" y2="114.3" stroke="#f08080" stroke-width="0.7" />
<line x1="546.6" y1="111.4" x2="546.6" y2="114.4" stroke="#f08080" stroke-width="0.7" />
<line x1="545.5" y1="111.4" x2="547.7" y2="111.4" stroke="#f08080" stroke-width="0.7" />
<line x1="545.5" y1="114.4" x2="547.7" y2="114.4" stroke="#f08080" stroke-width="0.7" />
<line x1="551.3" y1="111.3" x2="551.3" y2="114.3" stroke="#f08080" stroke-width="0.7" />
<line x1="550.2" y1="111.3" x2="552.4" y2="111.3" stroke="#f08080" stroke-width="0.7" />
<line x1="550.2" y1="114.3" x2="552.4" y2="114.3" stroke="#f08080" stroke-width="0.7" />
<line x1="556" y1="111.3" x2="556" y2="114.3" stroke="#f08080" stroke-width="0.7" />
<line x1="554.9" y1="111.3" x2="557.1" y2="111.3" stroke="#f08080" stroke-width="0.7" />
<line x1="554.9" y1="114.3" x2="557.1" y2="114.3" stroke="#f08080" stroke-width="0.7" />
<line x1="560.7" y1="111.2" x2="560.7" y2="114.2" stroke="#f08080" stroke-width="0.7" />
<line x1="559.6" y1="111.2" x2="561.8" y2="111.2" stroke="#f08080" stroke-width="0.7" />
<line x1="559.6" y1="114.2" x2="561.8" y2="114.2" stroke="#f08080" stroke-width="0.7" />
<line x1="565.4" y1="110.9" x2="565.4" y2="113.9" stroke="#f08080" stroke-width="0.7" />
<line x1="564.3" y1="110.9" x2="566.5" y2="110.9" stroke="#f08080" stroke-width="0.7" />
<line x1="564.3" y1="113.9" x2="566.5" y2="113.9" stroke="#f08080" stroke-width="0.7" />
<line x1="570.1" y1="110.8" x2="570.1" y2="113.8" stroke="#f08080" stroke-width="0.7" />
<line x1="569" y1="110.8" x2="571.2" y2="110.8" stroke="#f08080" stroke-width="0.7" />
<line x1="569" y1="113.8" x2="571.2" y2="113.8" stroke="#f08080" stroke-width="0.7" />
<line x1="574.8" y1="111.1" x2="574.8" y2="114.1" stroke="#f08080" stroke-width="0.7" />
<line x1="573.6" y1="111.1" x2="575.9" y2="111.1" stroke="#f08080" stroke-width="0.7" />
<line x1="573.6" y1="114.1" x2="575.9" y2="114.1" stroke="#f08080" stroke-width="0.7" />
<line x1="579.4" y1="111" x2="579.4" y2="114" stroke="#f08080" stroke-width="0.7" />
<line x1="578.3" y1="111" x2="580.5" y2="111" stroke="#f08080" stroke-width="0.7" />
<line x1="578.3" y1="114" x2="580.5" y2="114" stroke="#f08080" stroke-width="0.7" />
<line x1="584.1" y1="111.1" x2="584.1" y2="114.1" stroke="#f08080" stroke-width="0.7" />
<line x1="583" y1="111.1" x2="585.2" y2="111.1" stroke="#f08080" stroke-width="0.7" />
<line x1="583" y1="114.1" x2="585.2" y2="114.1" stroke="#f08080" stroke-width="0.7" />
<line x1="588.8" y1="110.8" x2="588.8" y2="113.8" stroke="#f08080" stroke-width="0.7" />
<line x1="587.7" y1="110.8" x2="589.9" y2="110.8" stroke="#f08080" stroke-width="0.7" />
<line x1="587.7" y1="113.8" x2="589.9" y2="113.8" stroke="#f08080" stroke-width="0.7" />
<line x1="593.5" y1="110.8" x2="593.5" y2="113.8" stroke="#f08080" stroke-width="0.7" />
<line x1="592.4" y1="110.8" x2="594.6" y2="110.8" stroke="#f08080" stroke-width="0.7" />
<line x1="592.4" y1="113.8" x2="594.6" y2="113.8" stroke="#f08080" stroke-width="0.7" />
<line x1="598.2" y1="111.3" x2="598.2" y2="114.3" stroke="#f08080" stroke-width="0.7" />
<line x1="597.1" y1="111.3" x2="599.3" y2="111.3" stroke="#f08080" stroke-width="0.7" />
<line x1="597.1" y1="114.3" x2="599.3" y2="114.3" stroke="#f08080" stroke-width="0.7" />
<line x1="602.9" y1="111.1" x2="602.9" y2="114.1" stroke="#f08080" stroke-width="0.7" />
<line x1="601.8" y1="111.1" x2="604" y2="111.1" stroke="#f08080" stroke-width="0.7" />
<line x1="601.8" y1="114.1" x2="604" y2="114.1" stroke="#f08080" stroke-width="0.7" />
<line x1="607.6" y1="111.1" x2="607.6" y2="114.1" stroke="#f08080" stroke-width="0.7" />
<line x1="606.5" y1="111.1" x2="608.7" y2="111.1" stroke="#f08080" stroke-width="0.7" />
<line x1="606.5" y1="114.1" x2="608.7" y2="114.1" stroke="#f08080" stroke-width="0.7" />
<line x1="612.3" y1="110.8" x2="612.3" y2="113.8" stroke="#f08080" stroke-width="0.7" />
<line x1="611.2" y1="110.8" x2="613.4" y2="110.8" stroke="#f08080" stroke-width="0.7" />
<line x1="611.2" y1="113.8" x2="613.4" y2="113.8" stroke="#f08080" stroke-width="0.7" />
<line x1="617" y1="110.9" x2="617" y2="113.9" stroke="#f08080" stroke-width="0.7" />
<line x1="615.9" y1="110.9" x2="618.1" y2="110.9" stroke="#f08080" stroke-width="0.7" />
<line x1="615.9" y1="113.9" x2="618.1" y2="113.9" stroke="#f08080" stroke-width="0.7" />
<line x1="621.7" y1="111.2" x2="621.7" y2="114.2" stroke="#f08080" stroke-width="0.7" />
<line x1="620.6" y1="111.2" x2="622.8" y2="111.2" stroke="#f08080" stroke-width="0.7" />
<line x1="620.6" y1="114.2" x2="622.8" y2="114.2" stroke="#f08080" stroke-width="0.7" />
<line x1="626.4" y1="111.1" x2="626.4" y2="114.1" stroke="#f08080" stroke-width="0.7" />
<line x1="625.3" y1="111.1" x2="627.5" y2="111.1" stroke="#f08080" stroke-width="0.7" />
<line x1="625.3" y1="114.1" x2="627.5" y2="114.1" stroke="#f08080" stroke-width="0.7" />
<line x1="631.1" y1="111.3" x2="631.1" y2="114.3" stroke="#f08080" stroke-width="0.7" />
<line x1="630" y1="111.3" x2="632.2" y2="111.3" stroke="#f08080" stroke-width="0.7" />
<line x1="630" y1="114.3" x2="632.2" y2="114.3" stroke="#f08080" stroke-width="0.7" />
<line x1="635.8" y1="110.8" x2="635.8" y2="113.8" stroke="#f08080" stroke-width="0.7" />
<line x1="634.7" y1="110.8" x2="636.9" y2="110.8" stroke="#f08080" stroke-width="0.7" />
<line x1="634.7" y1="113.8" x2="636.9" y2="113.8" stroke="#f08080" stroke-width="0.7" />
<line x1="640.5" y1="111" x2="640.5" y2="114" stroke="#f08080" stroke-width="0.7" />
<line x1="639.4" y1="111" x2="641.6" y2="111" stroke="#f08080" stroke-width="0.7" />
<line x1="639.4" y1="114" x2="641.6" y2="114" stroke="#f08080" stroke-width="0.7" />
<line x1="645.2" y1="111.2" x2="645.2" y2="114.2" stroke="#f08080" stroke-width="0.7" />
<line x1="644.1" y1="111.2" x2="646.3" y2="111.2" stroke="#f08080" stroke-width="0.7" />
<line x1="644.1" y1="114.2" x2="646.3" y2="114.2" stroke="#f08080" stroke-width="0.7" />
<polyline points="480.8,112.3 485.5,112.2 490.2,111.9 494.9,112.6 499.6,113.2 504.3,113.1 509,113.2 513.7,112.4 518.4,112.2 523.1,112.5 527.8,112.7 532.5,112.7 537.2,112.8 541.9,112.8 546.6,112.9 551.3,112.8 556,112.8 560.7,112.7 565.4,112.4 570.1,112.3 574.8,112.6 579.4,112.5 584.1,112.6 588.8,112.3 593.5,112.3 598.2,112.8 602.9,112.6 607.6,112.6 612.3,112.3 617,112.4 621.7,112.7 626.4,112.6 631.1,112.8 635.8,112.3 640.5,112.5 645.2,112.7" fill="none" stroke="#e83030" stroke-width="0.8"/>
<circle cx="480.8" cy="112.3" r="1.8" fill="url(#gmr)"/>
<circle cx="485.5" cy="112.2" r="1.8" fill="url(#gmr)"/>
<circle cx="490.2" cy="111.9" r="1.8" fill="url(#gmr)"/>
<circle cx="494.9" cy="112.6" r="1.8" fill="url(#gmr)"/>
<circle cx="499.6" cy="113.2" r="1.8" fill="url(#gmr)"/>
<circle cx="504.3" cy="113.1" r="1.8" fill="url(#gmr)"/>
<circle cx="509" cy="113.2" r="1.8" fill="url(#gmr)"/>
<circle cx="513.7" cy="112.4" r="1.8" fill="url(#gmr)"/>
<circle cx="518.4" cy="112.2" r="1.8" fill="url(#gmr)"/>
<circle cx="523.1" cy="112.5" r="1.8" fill="url(#gmr)"/>
<circle cx="527.8" cy="112.7" r="1.8" fill="url(#gmr)"/>
<circle cx="532.5" cy="112.7" r="1.8" fill="url(#gmr)"/>
<circle cx="537.2" cy="112.8" r="1.8" fill="url(#gmr)"/>
<circle cx="541.9" cy="112.8" r="1.8" fill="url(#gmr)"/>
<circle cx="546.6" cy="112.9" r="1.8" fill="url(#gmr)"/>
<circle cx="551.3" cy="112.8" r="1.8" fill="url(#gmr)"/>
<circle cx="556" cy="112.8" r="1.8" fill="url(#gmr)"/>
<circle cx="560.7" cy="112.7" r="1.8" fill="url(#gmr)"/>
<circle cx="565.4" cy="112.4" r="1.8" fill="url(#gmr)"/>
<circle cx="570.1" cy="112.3" r="1.8" fill="url(#gmr)"/>
<circle cx="574.8" cy="112.6" r="1.8" fill="url(#gmr)"/>
<circle cx="579.4" cy="112.5" r="1.8" fill="url(#gmr)"/>
<circle cx="584.1" cy="112.6" r="1.8" fill="url(#gmr)"/>
<circle cx="588.8" cy="112.3" r="1.8" fill="url(#gmr)"/>
<circle cx="593.5" cy="112.3" r="1.8" fill="url(#gmr)"/>
<circle cx="598.2" cy="112.8" r="1.8" fill="url(#gmr)"/>
<circle cx="602.9" cy="112.6" r="1.8" fill="url(#gmr)"/>
<circle cx="607.6" cy="112.6" r="1.8" fill="url(#gmr)"/>
<circle cx="612.3" cy="112.3" r="1.8" fill="url(#gmr)"/>
<circle cx="617" cy="112.4" r="1.8" fill="url(#gmr)"/>
<circle cx="621.7" cy="112.7" r="1.8" fill="url(#gmr)"/>
<circle cx="626.4" cy="112.6" r="1.8" fill="url(#gmr)"/>
<circle cx="631.1" cy="112.8" r="1.8" fill="url(#gmr)"/>
<circle cx="635.8" cy="112.3" r="1.8" fill="url(#gmr)"/>
<circle cx="640.5" cy="112.5" r="1.8" fill="url(#gmr)"/>
<circle cx="645.2" cy="112.7" r="1.8" fill="url(#gmr)"/>
</g>
<line x1="618.4" y1="10.8" x2="633.8" y2="10.8" stroke="#a8a8f4" stroke-width="1" />
<circle cx="626.3" cy="10.8" r="1.8" fill="url(#gmb)"/>
<line x1="618.4" y1="19.3" x2="633.8" y2="19.3" stroke="#f4b4b4" stroke-width="1" />
<circle cx="626.3" cy="19.3" r="1.8" fill="url(#gmr)"/>
<text x="635.8" y="13.2" font-family="'Liberation Serif', serif" font-size="6.2" font-weight="bold" text-anchor="start" fill="#000" >672.50nm</text>
<text x="635.8" y="21.6" font-family="'Liberation Serif', serif" font-size="6.2" font-weight="bold" text-anchor="start" fill="#000" >629.50nm</text>
<rect x="480.5" y="167.5" width="188.6" height="126.7" fill="none" stroke="#5a5a5a" stroke-width="1.1"/>
<line x1="492.3" y1="294.2" x2="492.3" y2="292.6" stroke="#5a5a5a" stroke-width="1" />
<line x1="504.1" y1="294.2" x2="504.1" y2="291.2" stroke="#5a5a5a" stroke-width="1" />
<line x1="515.9" y1="294.2" x2="515.9" y2="292.6" stroke="#5a5a5a" stroke-width="1" />
<line x1="527.6" y1="294.2" x2="527.6" y2="291.2" stroke="#5a5a5a" stroke-width="1" />
<line x1="539.4" y1="294.2" x2="539.4" y2="292.6" stroke="#5a5a5a" stroke-width="1" />
<line x1="551.2" y1="294.2" x2="551.2" y2="291.2" stroke="#5a5a5a" stroke-width="1" />
<line x1="563" y1="294.2" x2="563" y2="292.6" stroke="#5a5a5a" stroke-width="1" />
<line x1="574.8" y1="294.2" x2="574.8" y2="291.2" stroke="#5a5a5a" stroke-width="1" />
<line x1="586.6" y1="294.2" x2="586.6" y2="292.6" stroke="#5a5a5a" stroke-width="1" />
<line x1="598.4" y1="294.2" x2="598.4" y2="291.2" stroke="#5a5a5a" stroke-width="1" />
<line x1="610.2" y1="294.2" x2="610.2" y2="292.6" stroke="#5a5a5a" stroke-width="1" />
<line x1="622" y1="294.2" x2="622" y2="291.2" stroke="#5a5a5a" stroke-width="1" />
<line x1="633.7" y1="294.2" x2="633.7" y2="292.6" stroke="#5a5a5a" stroke-width="1" />
<line x1="645.5" y1="294.2" x2="645.5" y2="291.2" stroke="#5a5a5a" stroke-width="1" />
<line x1="657.3" y1="294.2" x2="657.3" y2="292.6" stroke="#5a5a5a" stroke-width="1" />
<line x1="498.9" y1="167.5" x2="498.9" y2="169.5" stroke="#5a5a5a" stroke-width="1" />
<line x1="518.4" y1="167.5" x2="518.4" y2="169.5" stroke="#5a5a5a" stroke-width="1" />
<line x1="537.1" y1="167.5" x2="537.1" y2="169.5" stroke="#5a5a5a" stroke-width="1" />
<line x1="556.1" y1="167.5" x2="556.1" y2="169.5" stroke="#5a5a5a" stroke-width="1" />
<line x1="575" y1="167.5" x2="575" y2="169.5" stroke="#5a5a5a" stroke-width="1" />
<line x1="594" y1="167.5" x2="594" y2="169.5" stroke="#5a5a5a" stroke-width="1" />
<line x1="613" y1="167.5" x2="613" y2="169.5" stroke="#5a5a5a" stroke-width="1" />
<line x1="632" y1="167.5" x2="632" y2="169.5" stroke="#5a5a5a" stroke-width="1" />
<line x1="651" y1="167.5" x2="651" y2="169.5" stroke="#5a5a5a" stroke-width="1" />
<line x1="480.5" y1="281.6" x2="482.1" y2="281.6" stroke="#5a5a5a" stroke-width="1" />
<line x1="669.1" y1="281.6" x2="667.5" y2="281.6" stroke="#5a5a5a" stroke-width="1" />
<line x1="480.5" y1="268.9" x2="483.5" y2="268.9" stroke="#5a5a5a" stroke-width="1" />
<line x1="669.1" y1="268.9" x2="666.1" y2="268.9" stroke="#5a5a5a" stroke-width="1" />
<line x1="480.5" y1="256.2" x2="482.1" y2="256.2" stroke="#5a5a5a" stroke-width="1" />
<line x1="669.1" y1="256.2" x2="667.5" y2="256.2" stroke="#5a5a5a" stroke-width="1" />
<line x1="480.5" y1="243.5" x2="483.5" y2="243.5" stroke="#5a5a5a" stroke-width="1" />
<line x1="669.1" y1="243.5" x2="666.1" y2="243.5" stroke="#5a5a5a" stroke-width="1" />
<line x1="480.5" y1="230.8" x2="482.1" y2="230.8" stroke="#5a5a5a" stroke-width="1" />
<line x1="669.1" y1="230.8" x2="667.5" y2="230.8" stroke="#5a5a5a" stroke-width="1" />
<line x1="480.5" y1="218.1" x2="483.5" y2="218.1" stroke="#5a5a5a" stroke-width="1" />
<line x1="669.1" y1="218.1" x2="666.1" y2="218.1" stroke="#5a5a5a" stroke-width="1" />
<line x1="480.5" y1="205.4" x2="482.1" y2="205.4" stroke="#5a5a5a" stroke-width="1" />
<line x1="669.1" y1="205.4" x2="667.5" y2="205.4" stroke="#5a5a5a" stroke-width="1" />
<line x1="480.5" y1="192.7" x2="483.5" y2="192.7" stroke="#5a5a5a" stroke-width="1" />
<line x1="669.1" y1="192.7" x2="666.1" y2="192.7" stroke="#5a5a5a" stroke-width="1" />
<line x1="480.5" y1="180" x2="482.1" y2="180" stroke="#5a5a5a" stroke-width="1" />
<line x1="669.1" y1="180" x2="667.5" y2="180" stroke="#5a5a5a" stroke-width="1" />
<text x="480.5" y="305.2" font-family="'Liberation Sans', sans-serif" font-size="8.2" font-weight="bold" text-anchor="middle" fill="#000" >0</text>
<text x="504.1" y="305.2" font-family="'Liberation Sans', sans-serif" font-size="8.2" font-weight="bold" text-anchor="middle" fill="#000" >5</text>
<text x="527.6" y="305.2" font-family="'Liberation Sans', sans-serif" font-size="8.2" font-weight="bold" text-anchor="middle" fill="#000" >10</text>
<text x="551.2" y="305.2" font-family="'Liberation Sans', sans-serif" font-size="8.2" font-weight="bold" text-anchor="middle" fill="#000" >15</text>
<text x="574.8" y="305.2" font-family="'Liberation Sans', sans-serif" font-size="8.2" font-weight="bold" text-anchor="middle" fill="#000" >20</text>
<text x="598.4" y="305.2" font-family="'Liberation Sans', sans-serif" font-size="8.2" font-weight="bold" text-anchor="middle" fill="#000" >25</text>
<text x="622" y="305.2" font-family="'Liberation Sans', sans-serif" font-size="8.2" font-weight="bold" text-anchor="middle" fill="#000" >30</text>
<text x="645.5" y="305.2" font-family="'Liberation Sans', sans-serif" font-size="8.2" font-weight="bold" text-anchor="middle" fill="#000" >35</text>
<text x="669.1" y="305.2" font-family="'Liberation Sans', sans-serif" font-size="8.2" font-weight="bold" text-anchor="middle" fill="#000" >40</text>
<text x="477.2" y="297" font-family="'Liberation Sans', sans-serif" font-size="8.3" font-weight="bold" text-anchor="end" fill="#000" >100</text>
<text x="477.2" y="271.6" font-family="'Liberation Sans', sans-serif" font-size="8.3" font-weight="bold" text-anchor="end" fill="#000" >200</text>
<text x="477.2" y="246.2" font-family="'Liberation Sans', sans-serif" font-size="8.3" font-weight="bold" text-anchor="end" fill="#000" >300</text>
<text x="477.2" y="220.8" font-family="'Liberation Sans', sans-serif" font-size="8.3" font-weight="bold" text-anchor="end" fill="#000" >400</text>
<text x="477.2" y="195.4" font-family="'Liberation Sans', sans-serif" font-size="8.3" font-weight="bold" text-anchor="end" fill="#000" >500</text>
<text x="477.2" y="170" font-family="'Liberation Sans', sans-serif" font-size="8.3" font-weight="bold" text-anchor="end" fill="#000" >600</text>
<text transform="translate(457.7,236.6) rotate(-90)" x="0" y="0" font-family="'Liberation Serif', serif" font-size="7.6" font-weight="bold" text-anchor="middle" dominant-baseline="central" >Intensity of fluorescent (a.u.)</text>
<text x="575.3" y="316.6" font-family="'Liberation Serif', serif" font-size="8.1" font-weight="bold" text-anchor="middle" fill="#000" >Reaction Time (s)</text>
<text x="453.2" y="171.6" font-family="'Liberation Serif', serif" font-size="11.5" font-weight="bold" text-anchor="start" fill="#000" >f</text>
<text x="497.1" y="177.8" font-family="'Liberation Serif', serif" font-size="6.75" font-weight="bold">Sickle-cell Disease Hemoglobin+O<tspan font-size="4.1" dy="1.4">2</tspan></text>
<g clip-path="url(#cf)">
<line x1="480.5" y1="204.1" x2="480.5" y2="210.1" stroke="#a0a0f0" stroke-width="0.7" />
<line x1="479.4" y1="204.1" x2="481.6" y2="204.1" stroke="#a0a0f0" stroke-width="0.7" />
<line x1="479.4" y1="210.1" x2="481.6" y2="210.1" stroke="#a0a0f0" stroke-width="0.7" />
<line x1="485.2" y1="202.8" x2="485.2" y2="213.6" stroke="#a0a0f0" stroke-width="0.7" />
<line x1="484.1" y1="202.8" x2="486.3" y2="202.8" stroke="#a0a0f0" stroke-width="0.7" />
<line x1="484.1" y1="213.6" x2="486.3" y2="213.6" stroke="#a0a0f0" stroke-width="0.7" />
<line x1="489.9" y1="202.3" x2="489.9" y2="213.1" stroke="#a0a0f0" stroke-width="0.7" />
<line x1="488.8" y1="202.3" x2="491" y2="202.3" stroke="#a0a0f0" stroke-width="0.7" />
<line x1="488.8" y1="213.1" x2="491" y2="213.1" stroke="#a0a0f0" stroke-width="0.7" />
<line x1="494.6" y1="202" x2="494.6" y2="212.8" stroke="#a0a0f0" stroke-width="0.7" />
<line x1="493.5" y1="202" x2="495.7" y2="202" stroke="#a0a0f0" stroke-width="0.7" />
<line x1="493.5" y1="212.8" x2="495.7" y2="212.8" stroke="#a0a0f0" stroke-width="0.7" />
<line x1="499.4" y1="201.9" x2="499.4" y2="215.1" stroke="#a0a0f0" stroke-width="0.7" />
<line x1="498.3" y1="201.9" x2="500.5" y2="201.9" stroke="#a0a0f0" stroke-width="0.7" />
<line x1="498.3" y1="215.1" x2="500.5" y2="215.1" stroke="#a0a0f0" stroke-width="0.7" />
<line x1="504.1" y1="202.4" x2="504.1" y2="214.8" stroke="#a0a0f0" stroke-width="0.7" />
<line x1="503" y1="202.4" x2="505.2" y2="202.4" stroke="#a0a0f0" stroke-width="0.7" />
<line x1="503" y1="214.8" x2="505.2" y2="214.8" stroke="#a0a0f0" stroke-width="0.7" />
<line x1="508.8" y1="202.5" x2="508.8" y2="214.5" stroke="#a0a0f0" stroke-width="0.7" />
<line x1="507.7" y1="202.5" x2="509.9" y2="202.5" stroke="#a0a0f0" stroke-width="0.7" />
<line x1="507.7" y1="214.5" x2="509.9" y2="214.5" stroke="#a0a0f0" stroke-width="0.7" />
<line x1="513.5" y1="204.1" x2="513.5" y2="213.1" stroke="#a0a0f0" stroke-width="0.7" />
<line x1="512.4" y1="204.1" x2="514.6" y2="204.1" stroke="#a0a0f0" stroke-width="0.7" />
<line x1="512.4" y1="213.1" x2="514.6" y2="213.1" stroke="#a0a0f0" stroke-width="0.7" />
<line x1="518.2" y1="204" x2="518.2" y2="212.4" stroke="#a0a0f0" stroke-width="0.7" />
<line x1="517.1" y1="204" x2="519.3" y2="204" stroke="#a0a0f0" stroke-width="0.7" />
<line x1="517.1" y1="212.4" x2="519.3" y2="212.4" stroke="#a0a0f0" stroke-width="0.7" />
<line x1="522.9" y1="200.1" x2="522.9" y2="212.1" stroke="#a0a0f0" stroke-width="0.7" />
<line x1="521.8" y1="200.1" x2="524" y2="200.1" stroke="#a0a0f0" stroke-width="0.7" />
<line x1="521.8" y1="212.1" x2="524" y2="212.1" stroke="#a0a0f0" stroke-width="0.7" />
<line x1="527.6" y1="201.6" x2="527.6" y2="214.8" stroke="#a0a0f0" stroke-width="0.7" />
<line x1="526.5" y1="201.6" x2="528.8" y2="201.6" stroke="#a0a0f0" stroke-width="0.7" />
<line x1="526.5" y1="214.8" x2="528.8" y2="214.8" stroke="#a0a0f0" stroke-width="0.7" />
<line x1="532.4" y1="197.3" x2="532.4" y2="211.3" stroke="#a0a0f0" stroke-width="0.7" />
<line x1="531.3" y1="197.3" x2="533.5" y2="197.3" stroke="#a0a0f0" stroke-width="0.7" />
<line x1="531.3" y1="211.3" x2="533.5" y2="211.3" stroke="#a0a0f0" stroke-width="0.7" />
<line x1="537.1" y1="202.2" x2="537.1" y2="214.2" stroke="#a0a0f0" stroke-width="0.7" />
<line x1="536" y1="202.2" x2="538.2" y2="202.2" stroke="#a0a0f0" stroke-width="0.7" />
<line x1="536" y1="214.2" x2="538.2" y2="214.2" stroke="#a0a0f0" stroke-width="0.7" />
<line x1="541.8" y1="206.1" x2="541.8" y2="220.5" stroke="#a0a0f0" stroke-width="0.7" />
<line x1="540.7" y1="206.1" x2="542.9" y2="206.1" stroke="#a0a0f0" stroke-width="0.7" />
<line x1="540.7" y1="220.5" x2="542.9" y2="220.5" stroke="#a0a0f0" stroke-width="0.7" />
<line x1="546.5" y1="202.2" x2="546.5" y2="213.2" stroke="#a0a0f0" stroke-width="0.7" />
<line x1="545.4" y1="202.2" x2="547.6" y2="202.2" stroke="#a0a0f0" stroke-width="0.7" />
<line x1="545.4" y1="213.2" x2="547.6" y2="213.2" stroke="#a0a0f0" stroke-width="0.7" />
<line x1="551.2" y1="199.1" x2="551.2" y2="215.1" stroke="#a0a0f0" stroke-width="0.7" />
<line x1="550.1" y1="199.1" x2="552.3" y2="199.1" stroke="#a0a0f0" stroke-width="0.7" />
<line x1="550.1" y1="215.1" x2="552.3" y2="215.1" stroke="#a0a0f0" stroke-width="0.7" />
<line x1="555.9" y1="196.8" x2="555.9" y2="213.4" stroke="#a0a0f0" stroke-width="0.7" />
<line x1="554.8" y1="196.8" x2="557" y2="196.8" stroke="#a0a0f0" stroke-width="0.7" />
<line x1="554.8" y1="213.4" x2="557" y2="213.4" stroke="#a0a0f0" stroke-width="0.7" />
<line x1="560.7" y1="202.4" x2="560.7" y2="212.4" stroke="#a0a0f0" stroke-width="0.7" />
<line x1="559.6" y1="202.4" x2="561.8" y2="202.4" stroke="#a0a0f0" stroke-width="0.7" />
<line x1="559.6" y1="212.4" x2="561.8" y2="212.4" stroke="#a0a0f0" stroke-width="0.7" />
<line x1="565.4" y1="199.6" x2="565.4" y2="209.6" stroke="#a0a0f0" stroke-width="0.7" />
<line x1="564.3" y1="199.6" x2="566.5" y2="199.6" stroke="#a0a0f0" stroke-width="0.7" />
<line x1="564.3" y1="209.6" x2="566.5" y2="209.6" stroke="#a0a0f0" stroke-width="0.7" />
<line x1="570.1" y1="202.8" x2="570.1" y2="212.8" stroke="#a0a0f0" stroke-width="0.7" />
<line x1="569" y1="202.8" x2="571.2" y2="202.8" stroke="#a0a0f0" stroke-width="0.7" />
<line x1="569" y1="212.8" x2="571.2" y2="212.8" stroke="#a0a0f0" stroke-width="0.7" />
<line x1="574.8" y1="202.2" x2="574.8" y2="213" stroke="#a0a0f0" stroke-width="0.7" />
<line x1="573.7" y1="202.2" x2="575.9" y2="202.2" stroke="#a0a0f0" stroke-width="0.7" />
<line x1="573.7" y1="213" x2="575.9" y2="213" stroke="#a0a0f0" stroke-width="0.7" />
<line x1="579.5" y1="200.5" x2="579.5" y2="213.5" stroke="#a0a0f0" stroke-width="0.7" />
<line x1="578.4" y1="200.5" x2="580.6" y2="200.5" stroke="#a0a0f0" stroke-width="0.7" />
<line x1="578.4" y1="213.5" x2="580.6" y2="213.5" stroke="#a0a0f0" stroke-width="0.7" />
<line x1="584.2" y1="198.4" x2="584.2" y2="211.6" stroke="#a0a0f0" stroke-width="0.7" />
<line x1="583.1" y1="198.4" x2="585.3" y2="198.4" stroke="#a0a0f0" stroke-width="0.7" />
<line x1="583.1" y1="211.6" x2="585.3" y2="211.6" stroke="#a0a0f0" stroke-width="0.7" />
<line x1="588.9" y1="199.2" x2="588.9" y2="211.2" stroke="#a0a0f0" stroke-width="0.7" />
<line x1="587.8" y1="199.2" x2="590" y2="199.2" stroke="#a0a0f0" stroke-width="0.7" />
<line x1="587.8" y1="211.2" x2="590" y2="211.2" stroke="#a0a0f0" stroke-width="0.7" />
<line x1="593.7" y1="199.2" x2="593.7" y2="211.2" stroke="#a0a0f0" stroke-width="0.7" />
<line x1="592.6" y1="199.2" x2="594.8" y2="199.2" stroke="#a0a0f0" stroke-width="0.7" />
<line x1="592.6" y1="211.2" x2="594.8" y2="211.2" stroke="#a0a0f0" stroke-width="0.7" />
<line x1="598.4" y1="198.7" x2="598.4" y2="210.7" stroke="#a0a0f0" stroke-width="0.7" />
<line x1="597.3" y1="198.7" x2="599.5" y2="198.7" stroke="#a0a0f0" stroke-width="0.7" />
<line x1="597.3" y1="210.7" x2="599.5" y2="210.7" stroke="#a0a0f0" stroke-width="0.7" />
<line x1="603.1" y1="199" x2="603.1" y2="211" stroke="#a0a0f0" stroke-width="0.7" />
<line x1="602" y1="199" x2="604.2" y2="199" stroke="#a0a0f0" stroke-width="0.7" />
<line x1="602" y1="211" x2="604.2" y2="211" stroke="#a0a0f0" stroke-width="0.7" />
<line x1="607.8" y1="199" x2="607.8" y2="211" stroke="#a0a0f0" stroke-width="0.7" />
<line x1="606.7" y1="199" x2="608.9" y2="199" stroke="#a0a0f0" stroke-width="0.7" />
<line x1="606.7" y1="211" x2="608.9" y2="211" stroke="#a0a0f0" stroke-width="0.7" />
<line x1="612.5" y1="195.1" x2="612.5" y2="209.1" stroke="#a0a0f0" stroke-width="0.7" />
<line x1="611.4" y1="195.1" x2="613.6" y2="195.1" stroke="#a0a0f0" stroke-width="0.7" />
<line x1="611.4" y1="209.1" x2="613.6" y2="209.1" stroke="#a0a0f0" stroke-width="0.7" />
<line x1="617.2" y1="195.4" x2="617.2" y2="209.4" stroke="#a0a0f0" stroke-width="0.7" />
<line x1="616.1" y1="195.4" x2="618.3" y2="195.4" stroke="#a0a0f0" stroke-width="0.7" />
<line x1="616.1" y1="209.4" x2="618.3" y2="209.4" stroke="#a0a0f0" stroke-width="0.7" />
<line x1="622" y1="196.4" x2="622" y2="208.4" stroke="#a0a0f0" stroke-width="0.7" />
<line x1="620.9" y1="196.4" x2="623.1" y2="196.4" stroke="#a0a0f0" stroke-width="0.7" />
<line x1="620.9" y1="208.4" x2="623.1" y2="208.4" stroke="#a0a0f0" stroke-width="0.7" />
<line x1="626.7" y1="200.7" x2="626.7" y2="209.7" stroke="#a0a0f0" stroke-width="0.7" />
<line x1="625.6" y1="200.7" x2="627.8" y2="200.7" stroke="#a0a0f0" stroke-width="0.7" />
<line x1="625.6" y1="209.7" x2="627.8" y2="209.7" stroke="#a0a0f0" stroke-width="0.7" />
<line x1="631.4" y1="202.5" x2="631.4" y2="212.5" stroke="#a0a0f0" stroke-width="0.7" />
<line x1="630.3" y1="202.5" x2="632.5" y2="202.5" stroke="#a0a0f0" stroke-width="0.7" />
<line x1="630.3" y1="212.5" x2="632.5" y2="212.5" stroke="#a0a0f0" stroke-width="0.7" />
<line x1="636.1" y1="202" x2="636.1" y2="213" stroke="#a0a0f0" stroke-width="0.7" />
<line x1="635" y1="202" x2="637.2" y2="202" stroke="#a0a0f0" stroke-width="0.7" />
<line x1="635" y1="213" x2="637.2" y2="213" stroke="#a0a0f0" stroke-width="0.7" />
<line x1="640.8" y1="199.2" x2="640.8" y2="211.2" stroke="#a0a0f0" stroke-width="0.7" />
<line x1="639.7" y1="199.2" x2="641.9" y2="199.2" stroke="#a0a0f0" stroke-width="0.7" />
<line x1="639.7" y1="211.2" x2="641.9" y2="211.2" stroke="#a0a0f0" stroke-width="0.7" />
<line x1="645.5" y1="199.6" x2="645.5" y2="210.8" stroke="#a0a0f0" stroke-width="0.7" />
<line x1="644.4" y1="199.6" x2="646.6" y2="199.6" stroke="#a0a0f0" stroke-width="0.7" />
<line x1="644.4" y1="210.8" x2="646.6" y2="210.8" stroke="#a0a0f0" stroke-width="0.7" />
<polyline points="480.5,207.1 485.2,208.2 489.9,207.7 494.6,207.4 499.4,208.5 504.1,208.6 508.8,208.5 513.5,208.6 518.2,208.2 522.9,206.1 527.6,208.2 532.4,204.3 537.1,208.2 541.8,213.3 546.5,207.7 551.2,207.1 555.9,205.1 560.7,207.4 565.4,204.6 570.1,207.8 574.8,207.6 579.5,207 584.2,205 588.9,205.2 593.7,205.2 598.4,204.7 603.1,205 607.8,205 612.5,202.1 617.2,202.4 622,202.4 626.7,205.2 631.4,207.5 636.1,207.5 640.8,205.2 645.5,205.2" fill="none" stroke="#3030e8" stroke-width="0.8"/>
<circle cx="480.5" cy="207.1" r="1.75" fill="url(#gmb)"/>
<circle cx="485.2" cy="208.2" r="1.75" fill="url(#gmb)"/>
<circle cx="489.9" cy="207.7" r="1.75" fill="url(#gmb)"/>
<circle cx="494.6" cy="207.4" r="1.75" fill="url(#gmb)"/>
<circle cx="499.4" cy="208.5" r="1.75" fill="url(#gmb)"/>
<circle cx="504.1" cy="208.6" r="1.75" fill="url(#gmb)"/>
<circle cx="508.8" cy="208.5" r="1.75" fill="url(#gmb)"/>
<circle cx="513.5" cy="208.6" r="1.75" fill="url(#gmb)"/>
<circle cx="518.2" cy="208.2" r="1.75" fill="url(#gmb)"/>
<circle cx="522.9" cy="206.1" r="1.75" fill="url(#gmb)"/>
<circle cx="527.6" cy="208.2" r="1.75" fill="url(#gmb)"/>
<circle cx="532.4" cy="204.3" r="1.75" fill="url(#gmb)"/>
<circle cx="537.1" cy="208.2" r="1.75" fill="url(#gmb)"/>
<circle cx="541.8" cy="213.3" r="1.75" fill="url(#gmb)"/>
<circle cx="546.5" cy="207.7" r="1.75" fill="url(#gmb)"/>
<circle cx="551.2" cy="207.1" r="1.75" fill="url(#gmb)"/>
<circle cx="555.9" cy="205.1" r="1.75" fill="url(#gmb)"/>
<circle cx="560.7" cy="207.4" r="1.75" fill="url(#gmb)"/>
<circle cx="565.4" cy="204.6" r="1.75" fill="url(#gmb)"/>
<circle cx="570.1" cy="207.8" r="1.75" fill="url(#gmb)"/>
<circle cx="574.8" cy="207.6" r="1.75" fill="url(#gmb)"/>
<circle cx="579.5" cy="207" r="1.75" fill="url(#gmb)"/>
<circle cx="584.2" cy="205" r="1.75" fill="url(#gmb)"/>
<circle cx="588.9" cy="205.2" r="1.75" fill="url(#gmb)"/>
<circle cx="593.7" cy="205.2" r="1.75" fill="url(#gmb)"/>
<circle cx="598.4" cy="204.7" r="1.75" fill="url(#gmb)"/>
<circle cx="603.1" cy="205" r="1.75" fill="url(#gmb)"/>
<circle cx="607.8" cy="205" r="1.75" fill="url(#gmb)"/>
<circle cx="612.5" cy="202.1" r="1.75" fill="url(#gmb)"/>
<circle cx="617.2" cy="202.4" r="1.75" fill="url(#gmb)"/>
<circle cx="622" cy="202.4" r="1.75" fill="url(#gmb)"/>
<circle cx="626.7" cy="205.2" r="1.75" fill="url(#gmb)"/>
<circle cx="631.4" cy="207.5" r="1.75" fill="url(#gmb)"/>
<circle cx="636.1" cy="207.5" r="1.75" fill="url(#gmb)"/>
<circle cx="640.8" cy="205.2" r="1.75" fill="url(#gmb)"/>
<circle cx="645.5" cy="205.2" r="1.75" fill="url(#gmb)"/>
<line x1="480.5" y1="243.9" x2="480.5" y2="247.9" stroke="#f4a0a0" stroke-width="0.7" />
<line x1="479.4" y1="243.9" x2="481.6" y2="243.9" stroke="#f4a0a0" stroke-width="0.7" />
<line x1="479.4" y1="247.9" x2="481.6" y2="247.9" stroke="#f4a0a0" stroke-width="0.7" />
<line x1="485.2" y1="244.4" x2="485.2" y2="250.4" stroke="#f4a0a0" stroke-width="0.7" />
<line x1="484.1" y1="244.4" x2="486.3" y2="244.4" stroke="#f4a0a0" stroke-width="0.7" />
<line x1="484.1" y1="250.4" x2="486.3" y2="250.4" stroke="#f4a0a0" stroke-width="0.7" />
<line x1="489.9" y1="244.4" x2="489.9" y2="250.4" stroke="#f4a0a0" stroke-width="0.7" />
<line x1="488.8" y1="244.4" x2="491" y2="244.4" stroke="#f4a0a0" stroke-width="0.7" />
<line x1="488.8" y1="250.4" x2="491" y2="250.4" stroke="#f4a0a0" stroke-width="0.7" />
<line x1="494.6" y1="244.3" x2="494.6" y2="251.3" stroke="#f4a0a0" stroke-width="0.7" />
<line x1="493.5" y1="244.3" x2="495.7" y2="244.3" stroke="#f4a0a0" stroke-width="0.7" />
<line x1="493.5" y1="251.3" x2="495.7" y2="251.3" stroke="#f4a0a0" stroke-width="0.7" />
<line x1="499.4" y1="246" x2="499.4" y2="252" stroke="#f4a0a0" stroke-width="0.7" />
<line x1="498.3" y1="246" x2="500.5" y2="246" stroke="#f4a0a0" stroke-width="0.7" />
<line x1="498.3" y1="252" x2="500.5" y2="252" stroke="#f4a0a0" stroke-width="0.7" />
<line x1="504.1" y1="249.6" x2="504.1" y2="254.6" stroke="#f4a0a0" stroke-width="0.7" />
<line x1="503" y1="249.6" x2="505.2" y2="249.6" stroke="#f4a0a0" stroke-width="0.7" />
<line x1="503" y1="254.6" x2="505.2" y2="254.6" stroke="#f4a0a0" stroke-width="0.7" />
<line x1="508.8" y1="251.4" x2="508.8" y2="256.4" stroke="#f4a0a0" stroke-width="0.7" />
<line x1="507.7" y1="251.4" x2="509.9" y2="251.4" stroke="#f4a0a0" stroke-width="0.7" />
<line x1="507.7" y1="256.4" x2="509.9" y2="256.4" stroke="#f4a0a0" stroke-width="0.7" />
<line x1="513.5" y1="250.7" x2="513.5" y2="255.7" stroke="#f4a0a0" stroke-width="0.7" />
<line x1="512.4" y1="250.7" x2="514.6" y2="250.7" stroke="#f4a0a0" stroke-width="0.7" />
<line x1="512.4" y1="255.7" x2="514.6" y2="255.7" stroke="#f4a0a0" stroke-width="0.7" />
<line x1="518.2" y1="246.2" x2="518.2" y2="254.2" stroke="#f4a0a0" stroke-width="0.7" />
<line x1="517.1" y1="246.2" x2="519.3" y2="246.2" stroke="#f4a0a0" stroke-width="0.7" />
<line x1="517.1" y1="254.2" x2="519.3" y2="254.2" stroke="#f4a0a0" stroke-width="0.7" />
<line x1="522.9" y1="249.7" x2="522.9" y2="256.7" stroke="#f4a0a0" stroke-width="0.7" />
<line x1="521.8" y1="249.7" x2="524" y2="249.7" stroke="#f4a0a0" stroke-width="0.7" />
<line x1="521.8" y1="256.7" x2="524" y2="256.7" stroke="#f4a0a0" stroke-width="0.7" />
<line x1="527.6" y1="243" x2="527.6" y2="254" stroke="#f4a0a0" stroke-width="0.7" />
<line x1="526.5" y1="243" x2="528.8" y2="243" stroke="#f4a0a0" stroke-width="0.7" />
<line x1="526.5" y1="254" x2="528.8" y2="254" stroke="#f4a0a0" stroke-width="0.7" />
<line x1="532.4" y1="251.7" x2="532.4" y2="259.7" stroke="#f4a0a0" stroke-width="0.7" />
<line x1="531.3" y1="251.7" x2="533.5" y2="251.7" stroke="#f4a0a0" stroke-width="0.7" />
<line x1="531.3" y1="259.7" x2="533.5" y2="259.7" stroke="#f4a0a0" stroke-width="0.7" />
<line x1="537.1" y1="249.2" x2="537.1" y2="257.2" stroke="#f4a0a0" stroke-width="0.7" />
<line x1="536" y1="249.2" x2="538.2" y2="249.2" stroke="#f4a0a0" stroke-width="0.7" />
<line x1="536" y1="257.2" x2="538.2" y2="257.2" stroke="#f4a0a0" stroke-width="0.7" />
<line x1="541.8" y1="247.4" x2="541.8" y2="258.4" stroke="#f4a0a0" stroke-width="0.7" />
<line x1="540.7" y1="247.4" x2="542.9" y2="247.4" stroke="#f4a0a0" stroke-width="0.7" />
<line x1="540.7" y1="258.4" x2="542.9" y2="258.4" stroke="#f4a0a0" stroke-width="0.7" />
<line x1="546.5" y1="245.6" x2="546.5" y2="254.6" stroke="#f4a0a0" stroke-width="0.7" />
<line x1="545.4" y1="245.6" x2="547.6" y2="245.6" stroke="#f4a0a0" stroke-width="0.7" />
<line x1="545.4" y1="254.6" x2="547.6" y2="254.6" stroke="#f4a0a0" stroke-width="0.7" />
<line x1="551.2" y1="249.1" x2="551.2" y2="256.1" stroke="#f4a0a0" stroke-width="0.7" />
<line x1="550.1" y1="249.1" x2="552.3" y2="249.1" stroke="#f4a0a0" stroke-width="0.7" />
<line x1="550.1" y1="256.1" x2="552.3" y2="256.1" stroke="#f4a0a0" stroke-width="0.7" />
<line x1="555.9" y1="246.3" x2="555.9" y2="253.3" stroke="#f4a0a0" stroke-width="0.7" />
<line x1="554.8" y1="246.3" x2="557" y2="246.3" stroke="#f4a0a0" stroke-width="0.7" />
<line x1="554.8" y1="253.3" x2="557" y2="253.3" stroke="#f4a0a0" stroke-width="0.7" />
<line x1="560.7" y1="246.6" x2="560.7" y2="253.6" stroke="#f4a0a0" stroke-width="0.7" />
<line x1="559.6" y1="246.6" x2="561.8" y2="246.6" stroke="#f4a0a0" stroke-width="0.7" />
<line x1="559.6" y1="253.6" x2="561.8" y2="253.6" stroke="#f4a0a0" stroke-width="0.7" />
<line x1="565.4" y1="249.2" x2="565.4" y2="257.2" stroke="#f4a0a0" stroke-width="0.7" />
<line x1="564.3" y1="249.2" x2="566.5" y2="249.2" stroke="#f4a0a0" stroke-width="0.7" />
<line x1="564.3" y1="257.2" x2="566.5" y2="257.2" stroke="#f4a0a0" stroke-width="0.7" />
<line x1="570.1" y1="244.3" x2="570.1" y2="251.3" stroke="#f4a0a0" stroke-width="0.7" />
<line x1="569" y1="244.3" x2="571.2" y2="244.3" stroke="#f4a0a0" stroke-width="0.7" />
<line x1="569" y1="251.3" x2="571.2" y2="251.3" stroke="#f4a0a0" stroke-width="0.7" />
<line x1="574.8" y1="245" x2="574.8" y2="251" stroke="#f4a0a0" stroke-width="0.7" />
<line x1="573.7" y1="245" x2="575.9" y2="245" stroke="#f4a0a0" stroke-width="0.7" />
<line x1="573.7" y1="251" x2="575.9" y2="251" stroke="#f4a0a0" stroke-width="0.7" />
<line x1="579.5" y1="245.5" x2="579.5" y2="251.5" stroke="#f4a0a0" stroke-width="0.7" />
<line x1="578.4" y1="245.5" x2="580.6" y2="245.5" stroke="#f4a0a0" stroke-width="0.7" />
<line x1="578.4" y1="251.5" x2="580.6" y2="251.5" stroke="#f4a0a0" stroke-width="0.7" />
<line x1="584.2" y1="247.1" x2="584.2" y2="253.1" stroke="#f4a0a0" stroke-width="0.7" />
<line x1="583.1" y1="247.1" x2="585.3" y2="247.1" stroke="#f4a0a0" stroke-width="0.7" />
<line x1="583.1" y1="253.1" x2="585.3" y2="253.1" stroke="#f4a0a0" stroke-width="0.7" />
<line x1="588.9" y1="244.4" x2="588.9" y2="250.4" stroke="#f4a0a0" stroke-width="0.7" />
<line x1="587.8" y1="244.4" x2="590" y2="244.4" stroke="#f4a0a0" stroke-width="0.7" />
<line x1="587.8" y1="250.4" x2="590" y2="250.4" stroke="#f4a0a0" stroke-width="0.7" />
<line x1="593.7" y1="249.6" x2="593.7" y2="255.6" stroke="#f4a0a0" stroke-width="0.7" />
<line x1="592.6" y1="249.6" x2="594.8" y2="249.6" stroke="#f4a0a0" stroke-width="0.7" />
<line x1="592.6" y1="255.6" x2="594.8" y2="255.6" stroke="#f4a0a0" stroke-width="0.7" />
<line x1="598.4" y1="247.1" x2="598.4" y2="253.1" stroke="#f4a0a0" stroke-width="0.7" />
<line x1="597.3" y1="247.1" x2="599.5" y2="247.1" stroke="#f4a0a0" stroke-width="0.7" />
<line x1="597.3" y1="253.1" x2="599.5" y2="253.1" stroke="#f4a0a0" stroke-width="0.7" />
<line x1="603.1" y1="249.6" x2="603.1" y2="255.6" stroke="#f4a0a0" stroke-width="0.7" />
<line x1="602" y1="249.6" x2="604.2" y2="249.6" stroke="#f4a0a0" stroke-width="0.7" />
<line x1="602" y1="255.6" x2="604.2" y2="255.6" stroke="#f4a0a0" stroke-width="0.7" />
<line x1="607.8" y1="252.2" x2="607.8" y2="258.2" stroke="#f4a0a0" stroke-width="0.7" />
<line x1="606.7" y1="252.2" x2="608.9" y2="252.2" stroke="#f4a0a0" stroke-width="0.7" />
<line x1="606.7" y1="258.2" x2="608.9" y2="258.2" stroke="#f4a0a0" stroke-width="0.7" />
<line x1="612.5" y1="253" x2="612.5" y2="259" stroke="#f4a0a0" stroke-width="0.7" />
<line x1="611.4" y1="253" x2="613.6" y2="253" stroke="#f4a0a0" stroke-width="0.7" />
<line x1="611.4" y1="259" x2="613.6" y2="259" stroke="#f4a0a0" stroke-width="0.7" />
<line x1="617.2" y1="252.2" x2="617.2" y2="258.2" stroke="#f4a0a0" stroke-width="0.7" />
<line x1="616.1" y1="252.2" x2="618.3" y2="252.2" stroke="#f4a0a0" stroke-width="0.7" />
<line x1="616.1" y1="258.2" x2="618.3" y2="258.2" stroke="#f4a0a0" stroke-width="0.7" />
<line x1="622" y1="248.3" x2="622" y2="254.3" stroke="#f4a0a0" stroke-width="0.7" />
<line x1="620.9" y1="248.3" x2="623.1" y2="248.3" stroke="#f4a0a0" stroke-width="0.7" />
<line x1="620.9" y1="254.3" x2="623.1" y2="254.3" stroke="#f4a0a0" stroke-width="0.7" />
<line x1="626.7" y1="243.9" x2="626.7" y2="250.9" stroke="#f4a0a0" stroke-width="0.7" />
<line x1="625.6" y1="243.9" x2="627.8" y2="243.9" stroke="#f4a0a0" stroke-width="0.7" />
<line x1="625.6" y1="250.9" x2="627.8" y2="250.9" stroke="#f4a0a0" stroke-width="0.7" />
<line x1="631.4" y1="249.9" x2="631.4" y2="255.9" stroke="#f4a0a0" stroke-width="0.7" />
<line x1="630.3" y1="249.9" x2="632.5" y2="249.9" stroke="#f4a0a0" stroke-width="0.7" />
<line x1="630.3" y1="255.9" x2="632.5" y2="255.9" stroke="#f4a0a0" stroke-width="0.7" />
<line x1="636.1" y1="244.8" x2="636.1" y2="250.8" stroke="#f4a0a0" stroke-width="0.7" />
<line x1="635" y1="244.8" x2="637.2" y2="244.8" stroke="#f4a0a0" stroke-width="0.7" />
<line x1="635" y1="250.8" x2="637.2" y2="250.8" stroke="#f4a0a0" stroke-width="0.7" />
<line x1="640.8" y1="244.9" x2="640.8" y2="250.9" stroke="#f4a0a0" stroke-width="0.7" />
<line x1="639.7" y1="244.9" x2="641.9" y2="244.9" stroke="#f4a0a0" stroke-width="0.7" />
<line x1="639.7" y1="250.9" x2="641.9" y2="250.9" stroke="#f4a0a0" stroke-width="0.7" />
<line x1="645.5" y1="245.5" x2="645.5" y2="251.5" stroke="#f4a0a0" stroke-width="0.7" />
<line x1="644.4" y1="245.5" x2="646.6" y2="245.5" stroke="#f4a0a0" stroke-width="0.7" />
<line x1="644.4" y1="251.5" x2="646.6" y2="251.5" stroke="#f4a0a0" stroke-width="0.7" />
<polyline points="480.5,245.9 485.2,247.4 489.9,247.4 494.6,247.8 499.4,249 504.1,252.1 508.8,253.9 513.5,253.2 518.2,250.2 522.9,253.2 527.6,248.5 532.4,255.7 537.1,253.2 541.8,252.9 546.5,250.1 551.2,252.6 555.9,249.8 560.7,250.1 565.4,253.2 570.1,247.8 574.8,248 579.5,248.5 584.2,250.1 588.9,247.4 593.7,252.6 598.4,250.1 603.1,252.6 607.8,255.2 612.5,256 617.2,255.2 622,251.3 626.7,247.4 631.4,252.9 636.1,247.8 640.8,247.9 645.5,248.5" fill="none" stroke="#e83030" stroke-width="0.8"/>
<circle cx="480.5" cy="245.9" r="1.8" fill="url(#gmr)"/>
<circle cx="485.2" cy="247.4" r="1.8" fill="url(#gmr)"/>
<circle cx="489.9" cy="247.4" r="1.8" fill="url(#gmr)"/>
<circle cx="494.6" cy="247.8" r="1.8" fill="url(#gmr)"/>
<circle cx="499.4" cy="249" r="1.8" fill="url(#gmr)"/>
<circle cx="504.1" cy="252.1" r="1.8" fill="url(#gmr)"/>
<circle cx="508.8" cy="253.9" r="1.8" fill="url(#gmr)"/>
<circle cx="513.5" cy="253.2" r="1.8" fill="url(#gmr)"/>
<circle cx="518.2" cy="250.2" r="1.8" fill="url(#gmr)"/>
<circle cx="522.9" cy="253.2" r="1.8" fill="url(#gmr)"/>
<circle cx="527.6" cy="248.5" r="1.8" fill="url(#gmr)"/>
<circle cx="532.4" cy="255.7" r="1.8" fill="url(#gmr)"/>
<circle cx="537.1" cy="253.2" r="1.8" fill="url(#gmr)"/>
<circle cx="541.8" cy="252.9" r="1.8" fill="url(#gmr)"/>
<circle cx="546.5" cy="250.1" r="1.8" fill="url(#gmr)"/>
<circle cx="551.2" cy="252.6" r="1.8" fill="url(#gmr)"/>
<circle cx="555.9" cy="249.8" r="1.8" fill="url(#gmr)"/>
<circle cx="560.7" cy="250.1" r="1.8" fill="url(#gmr)"/>
<circle cx="565.4" cy="253.2" r="1.8" fill="url(#gmr)"/>
<circle cx="570.1" cy="247.8" r="1.8" fill="url(#gmr)"/>
<circle cx="574.8" cy="248" r="1.8" fill="url(#gmr)"/>
<circle cx="579.5" cy="248.5" r="1.8" fill="url(#gmr)"/>
<circle cx="584.2" cy="250.1" r="1.8" fill="url(#gmr)"/>
<circle cx="588.9" cy="247.4" r="1.8" fill="url(#gmr)"/>
<circle cx="593.7" cy="252.6" r="1.8" fill="url(#gmr)"/>
<circle cx="598.4" cy="250.1" r="1.8" fill="url(#gmr)"/>
<circle cx="603.1" cy="252.6" r="1.8" fill="url(#gmr)"/>
<circle cx="607.8" cy="255.2" r="1.8" fill="url(#gmr)"/>
<circle cx="612.5" cy="256" r="1.8" fill="url(#gmr)"/>
<circle cx="617.2" cy="255.2" r="1.8" fill="url(#gmr)"/>
<circle cx="622" cy="251.3" r="1.8" fill="url(#gmr)"/>
<circle cx="626.7" cy="247.4" r="1.8" fill="url(#gmr)"/>
<circle cx="631.4" cy="252.9" r="1.8" fill="url(#gmr)"/>
<circle cx="636.1" cy="247.8" r="1.8" fill="url(#gmr)"/>
<circle cx="640.8" cy="247.9" r="1.8" fill="url(#gmr)"/>
<circle cx="645.5" cy="248.5" r="1.8" fill="url(#gmr)"/>
</g>
<line x1="616.2" y1="175.5" x2="631.3" y2="175.5" stroke="#a8a8f4" stroke-width="1" />
<circle cx="624" cy="175.5" r="1.8" fill="url(#gmb)"/>
<line x1="616.2" y1="183.2" x2="631.3" y2="183.2" stroke="#f4b4b4" stroke-width="1" />
<circle cx="624" cy="183.2" r="1.8" fill="url(#gmr)"/>
<text x="633.3" y="177.7" font-family="'Liberation Serif', serif" font-size="6.2" font-weight="bold" text-anchor="start" fill="#000" >672.50nm</text>
<text x="633.3" y="185.5" font-family="'Liberation Serif', serif" font-size="6.2" font-weight="bold" text-anchor="start" fill="#000" >633.80nm</text>
<rect x="30.4" y="4.5" width="184.8" height="133.5" fill="none" stroke="#5a5a5a" stroke-width="1.1"/>
<rect x="28.2" y="166" width="188.3" height="131.2" fill="none" stroke="#5a5a5a" stroke-width="1.1"/>
<rect x="254.6" y="5" width="191.4" height="133.6" fill="none" stroke="#5a5a5a" stroke-width="1.1"/>
<rect x="258.8" y="163.6" width="188.2" height="132.4" fill="none" stroke="#5a5a5a" stroke-width="1.1"/>
<rect x="480.8" y="4.3" width="187.9" height="135.3" fill="none" stroke="#5a5a5a" stroke-width="1.1"/>
<rect x="480.5" y="167.5" width="188.6" height="126.7" fill="none" stroke="#5a5a5a" stroke-width="1.1"/>
</g>
</svg>
</body></html>
